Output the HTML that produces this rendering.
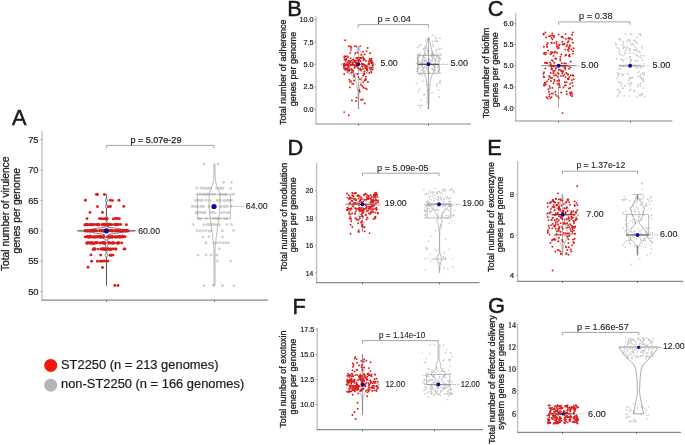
<!DOCTYPE html>
<html><head><meta charset="utf-8"><style>
html,body{margin:0;padding:0;background:#fff;}
svg{display:block;will-change:transform;}
text{font-family:"Liberation Sans", sans-serif;stroke:#222;stroke-width:0.2px;}
</style></head><body>
<svg width="685" height="445" viewBox="0 0 685 445">
<rect width="685" height="445" fill="#ffffff"/>
<text x="12.06" y="124.70" font-size="21.8" text-anchor="start" fill="#1a1a1a" style="stroke:#111;stroke-width:0.45px">A</text>
<line x1="42.00" y1="131.00" x2="42.00" y2="300.20" stroke="#bdbdbd" stroke-width="1.3"/>
<line x1="41.40" y1="300.20" x2="268.00" y2="300.20" stroke="#8a8a8a" stroke-width="1.2"/>
<line x1="40.40" y1="139.60" x2="42.00" y2="139.60" stroke="#888" stroke-width="0.7"/>
<text x="38.60" y="142.89" font-size="9.4" text-anchor="end" fill="#1a1a1a">75</text>
<line x1="40.40" y1="170.00" x2="42.00" y2="170.00" stroke="#888" stroke-width="0.7"/>
<text x="38.60" y="173.29" font-size="9.4" text-anchor="end" fill="#1a1a1a">70</text>
<line x1="40.40" y1="200.40" x2="42.00" y2="200.40" stroke="#888" stroke-width="0.7"/>
<text x="38.60" y="203.69" font-size="9.4" text-anchor="end" fill="#1a1a1a">65</text>
<line x1="40.40" y1="230.80" x2="42.00" y2="230.80" stroke="#888" stroke-width="0.7"/>
<text x="38.60" y="234.09" font-size="9.4" text-anchor="end" fill="#1a1a1a">60</text>
<line x1="40.40" y1="261.20" x2="42.00" y2="261.20" stroke="#888" stroke-width="0.7"/>
<text x="38.60" y="264.49" font-size="9.4" text-anchor="end" fill="#1a1a1a">55</text>
<line x1="40.40" y1="291.60" x2="42.00" y2="291.60" stroke="#888" stroke-width="0.7"/>
<text x="38.60" y="294.89" font-size="9.4" text-anchor="end" fill="#1a1a1a">50</text>
<line x1="106.50" y1="300.20" x2="106.50" y2="301.80" stroke="#444" stroke-width="0.8"/>
<line x1="214.50" y1="300.20" x2="214.50" y2="301.80" stroke="#444" stroke-width="0.8"/>
<path d="M106.40,148.40 L106.40,145.40 L214.00,145.40 L214.00,148.40" fill="none" stroke="#9a9a9a" stroke-width="0.9"/>
<text x="130.50" y="142.90" font-size="8.6" text-anchor="start" fill="#1a1a1a" textLength="50.9" lengthAdjust="spacingAndGlyphs" style="stroke-width:0.25px">p = 5.07e-29</text>
<text transform="translate(9.30,213.80) rotate(-90)" x="0" y="0" font-size="10.3" text-anchor="middle" fill="#1a1a1a" textLength="114.5" lengthAdjust="spacingAndGlyphs" style="stroke-width:0.3px">Total number of virulence</text>
<text transform="translate(20.20,210.80) rotate(-90)" x="0" y="0" font-size="10.3" text-anchor="middle" fill="#1a1a1a" textLength="85.5" lengthAdjust="spacingAndGlyphs" style="stroke-width:0.3px">genes per genome</text>
<polygon points="106.60,194.32 106.60,197.97 107.70,200.40 106.60,202.83 106.60,204.05 107.50,206.48 106.60,208.91 106.60,216.21 108.50,218.64 106.60,221.07 107.30,222.29 109.50,224.72 107.30,227.15 112.50,227.76 124.50,229.58 135.50,230.80 124.50,232.02 112.50,233.84 108.50,234.45 114.50,236.88 107.30,239.31 107.30,240.53 110.50,242.96 107.30,245.39 107.30,246.61 109.50,249.04 107.30,251.47 106.60,252.69 108.00,255.12 106.60,257.55 106.60,285.52 106.40,285.52 106.40,257.55 105.00,255.12 106.40,252.69 105.70,251.47 103.50,249.04 105.70,246.61 105.70,245.39 102.50,242.96 105.70,240.53 105.70,239.31 98.50,236.88 104.50,234.45 100.50,233.84 88.50,232.02 77.50,230.80 88.50,229.58 100.50,227.76 105.70,227.15 103.50,224.72 105.70,222.29 106.40,221.07 104.50,218.64 106.40,216.21 106.40,208.91 105.50,206.48 106.40,204.05 106.40,202.83 105.30,200.40 106.40,197.97 106.40,194.32" fill="none" stroke="#333" stroke-width="0.6" stroke-linejoin="round"/>
<rect x="90.20" y="230.80" width="32.40" height="6.08" fill="none" stroke="#999" stroke-width="0.7"/>
<g fill="#dc1a1a" fill-opacity="1.0"><circle cx="96.4" cy="194.4" r="1.45"/><circle cx="97.4" cy="194.5" r="1.45"/><circle cx="104.4" cy="194.5" r="1.45"/><circle cx="85.4" cy="200.3" r="1.45"/><circle cx="110.4" cy="200.3" r="1.45"/><circle cx="112.4" cy="200.6" r="1.45"/><circle cx="119.0" cy="200.2" r="1.45"/><circle cx="97.4" cy="206.6" r="1.45"/><circle cx="108.4" cy="206.6" r="1.45"/><circle cx="110.4" cy="206.5" r="1.45"/><circle cx="123.8" cy="206.4" r="1.45"/><circle cx="90.0" cy="212.4" r="1.45"/><circle cx="102.4" cy="212.4" r="1.45"/><circle cx="87.0" cy="218.6" r="1.45"/><circle cx="99.4" cy="218.6" r="1.45"/><circle cx="101.4" cy="218.7" r="1.45"/><circle cx="103.4" cy="218.9" r="1.45"/><circle cx="105.4" cy="218.8" r="1.45"/><circle cx="106.9" cy="218.7" r="1.45"/><circle cx="113.4" cy="218.9" r="1.45"/><circle cx="115.4" cy="218.5" r="1.45"/><circle cx="117.4" cy="218.5" r="1.45"/><circle cx="119.4" cy="218.7" r="1.45"/><circle cx="86.4" cy="224.5" r="1.45"/><circle cx="86.1" cy="224.7" r="1.45"/><circle cx="103.6" cy="224.6" r="1.45"/><circle cx="101.9" cy="224.7" r="1.45"/><circle cx="118.4" cy="224.5" r="1.45"/><circle cx="107.8" cy="225.0" r="1.45"/><circle cx="103.6" cy="224.6" r="1.45"/><circle cx="103.0" cy="224.8" r="1.45"/><circle cx="93.9" cy="224.6" r="1.45"/><circle cx="85.2" cy="224.9" r="1.45"/><circle cx="91.8" cy="224.8" r="1.45"/><circle cx="110.1" cy="224.5" r="1.45"/><circle cx="92.1" cy="224.9" r="1.45"/><circle cx="98.3" cy="224.9" r="1.45"/><circle cx="84.9" cy="224.9" r="1.45"/><circle cx="115.2" cy="224.8" r="1.45"/><circle cx="90.5" cy="224.5" r="1.45"/><circle cx="94.6" cy="224.6" r="1.45"/><circle cx="117.0" cy="224.9" r="1.45"/><circle cx="103.5" cy="224.7" r="1.45"/><circle cx="115.8" cy="224.6" r="1.45"/><circle cx="108.2" cy="224.9" r="1.45"/><circle cx="111.9" cy="224.8" r="1.45"/><circle cx="88.1" cy="224.8" r="1.45"/><circle cx="104.6" cy="224.7" r="1.45"/><circle cx="103.4" cy="224.7" r="1.45"/><circle cx="116.7" cy="224.6" r="1.45"/><circle cx="98.0" cy="224.5" r="1.45"/><circle cx="106.7" cy="224.9" r="1.45"/><circle cx="87.0" cy="224.7" r="1.45"/><circle cx="99.0" cy="224.7" r="1.45"/><circle cx="96.6" cy="224.6" r="1.45"/><circle cx="90.3" cy="224.8" r="1.45"/><circle cx="114.7" cy="224.5" r="1.45"/><circle cx="98.7" cy="224.7" r="1.45"/><circle cx="120.6" cy="224.5" r="1.45"/><circle cx="106.4" cy="224.5" r="1.45"/><circle cx="106.9" cy="225.0" r="1.45"/><circle cx="108.2" cy="224.8" r="1.45"/><circle cx="109.6" cy="224.7" r="1.45"/><circle cx="126.4" cy="224.7" r="1.45"/><circle cx="123.3" cy="230.8" r="1.45"/><circle cx="100.0" cy="230.9" r="1.45"/><circle cx="110.9" cy="230.7" r="1.45"/><circle cx="115.0" cy="231.0" r="1.45"/><circle cx="100.5" cy="230.8" r="1.45"/><circle cx="107.7" cy="230.9" r="1.45"/><circle cx="118.6" cy="230.9" r="1.45"/><circle cx="124.9" cy="230.6" r="1.45"/><circle cx="91.5" cy="230.6" r="1.45"/><circle cx="126.0" cy="230.8" r="1.45"/><circle cx="85.1" cy="230.9" r="1.45"/><circle cx="118.0" cy="231.0" r="1.45"/><circle cx="120.6" cy="230.9" r="1.45"/><circle cx="90.9" cy="230.6" r="1.45"/><circle cx="103.3" cy="231.0" r="1.45"/><circle cx="120.8" cy="231.0" r="1.45"/><circle cx="85.5" cy="231.0" r="1.45"/><circle cx="112.6" cy="230.8" r="1.45"/><circle cx="119.8" cy="231.0" r="1.45"/><circle cx="107.5" cy="230.6" r="1.45"/><circle cx="116.8" cy="230.6" r="1.45"/><circle cx="94.9" cy="230.6" r="1.45"/><circle cx="93.6" cy="230.7" r="1.45"/><circle cx="100.9" cy="230.7" r="1.45"/><circle cx="92.8" cy="230.6" r="1.45"/><circle cx="100.1" cy="230.8" r="1.45"/><circle cx="126.6" cy="230.6" r="1.45"/><circle cx="110.1" cy="230.8" r="1.45"/><circle cx="99.9" cy="230.6" r="1.45"/><circle cx="96.8" cy="230.9" r="1.45"/><circle cx="126.8" cy="230.6" r="1.45"/><circle cx="104.5" cy="230.7" r="1.45"/><circle cx="128.0" cy="231.0" r="1.45"/><circle cx="107.6" cy="230.8" r="1.45"/><circle cx="107.8" cy="231.0" r="1.45"/><circle cx="124.3" cy="230.9" r="1.45"/><circle cx="117.6" cy="230.9" r="1.45"/><circle cx="110.4" cy="230.6" r="1.45"/><circle cx="103.7" cy="230.8" r="1.45"/><circle cx="123.5" cy="230.6" r="1.45"/><circle cx="103.0" cy="231.0" r="1.45"/><circle cx="125.5" cy="231.0" r="1.45"/><circle cx="87.9" cy="231.0" r="1.45"/><circle cx="103.8" cy="230.6" r="1.45"/><circle cx="107.8" cy="230.7" r="1.45"/><circle cx="126.7" cy="230.7" r="1.45"/><circle cx="95.9" cy="230.6" r="1.45"/><circle cx="120.4" cy="230.9" r="1.45"/><circle cx="114.7" cy="230.9" r="1.45"/><circle cx="116.5" cy="230.7" r="1.45"/><circle cx="112.6" cy="231.0" r="1.45"/><circle cx="127.6" cy="230.9" r="1.45"/><circle cx="99.5" cy="230.6" r="1.45"/><circle cx="102.4" cy="230.9" r="1.45"/><circle cx="93.8" cy="231.0" r="1.45"/><circle cx="87.1" cy="230.6" r="1.45"/><circle cx="94.3" cy="230.8" r="1.45"/><circle cx="125.2" cy="230.9" r="1.45"/><circle cx="121.9" cy="230.9" r="1.45"/><circle cx="89.8" cy="230.6" r="1.45"/><circle cx="111.5" cy="230.9" r="1.45"/><circle cx="106.0" cy="230.9" r="1.45"/><circle cx="119.8" cy="237.0" r="1.45"/><circle cx="118.9" cy="236.8" r="1.45"/><circle cx="98.2" cy="236.7" r="1.45"/><circle cx="115.3" cy="236.9" r="1.45"/><circle cx="121.6" cy="237.0" r="1.45"/><circle cx="122.8" cy="236.7" r="1.45"/><circle cx="91.0" cy="236.8" r="1.45"/><circle cx="85.2" cy="236.9" r="1.45"/><circle cx="112.2" cy="237.0" r="1.45"/><circle cx="93.3" cy="237.1" r="1.45"/><circle cx="108.5" cy="236.7" r="1.45"/><circle cx="125.0" cy="236.7" r="1.45"/><circle cx="100.5" cy="237.0" r="1.45"/><circle cx="95.0" cy="237.0" r="1.45"/><circle cx="103.8" cy="237.0" r="1.45"/><circle cx="112.5" cy="237.1" r="1.45"/><circle cx="88.4" cy="237.1" r="1.45"/><circle cx="100.5" cy="237.1" r="1.45"/><circle cx="89.8" cy="237.0" r="1.45"/><circle cx="112.8" cy="236.8" r="1.45"/><circle cx="120.0" cy="237.0" r="1.45"/><circle cx="100.4" cy="236.7" r="1.45"/><circle cx="100.1" cy="237.0" r="1.45"/><circle cx="107.4" cy="237.0" r="1.45"/><circle cx="93.3" cy="237.0" r="1.45"/><circle cx="94.7" cy="236.9" r="1.45"/><circle cx="98.3" cy="236.8" r="1.45"/><circle cx="103.9" cy="236.8" r="1.45"/><circle cx="87.5" cy="236.6" r="1.45"/><circle cx="116.7" cy="237.1" r="1.45"/><circle cx="109.1" cy="236.9" r="1.45"/><circle cx="97.0" cy="236.8" r="1.45"/><circle cx="87.4" cy="236.9" r="1.45"/><circle cx="117.1" cy="237.0" r="1.45"/><circle cx="89.7" cy="236.8" r="1.45"/><circle cx="89.8" cy="237.0" r="1.45"/><circle cx="89.7" cy="237.1" r="1.45"/><circle cx="87.5" cy="236.8" r="1.45"/><circle cx="123.3" cy="236.7" r="1.45"/><circle cx="95.7" cy="237.0" r="1.45"/><circle cx="97.3" cy="237.1" r="1.45"/><circle cx="120.1" cy="236.7" r="1.45"/><circle cx="110.9" cy="237.0" r="1.45"/><circle cx="92.1" cy="237.0" r="1.45"/><circle cx="102.9" cy="237.1" r="1.45"/><circle cx="122.4" cy="236.7" r="1.45"/><circle cx="100.3" cy="236.7" r="1.45"/><circle cx="114.9" cy="237.1" r="1.45"/><circle cx="88.2" cy="236.7" r="1.45"/><circle cx="115.6" cy="236.7" r="1.45"/><circle cx="117.7" cy="236.9" r="1.45"/><circle cx="119.8" cy="236.9" r="1.45"/><circle cx="112.9" cy="243.2" r="1.45"/><circle cx="92.6" cy="243.2" r="1.45"/><circle cx="118.8" cy="242.8" r="1.45"/><circle cx="93.6" cy="243.2" r="1.45"/><circle cx="113.5" cy="242.8" r="1.45"/><circle cx="88.1" cy="243.0" r="1.45"/><circle cx="102.8" cy="243.0" r="1.45"/><circle cx="86.9" cy="243.2" r="1.45"/><circle cx="97.1" cy="242.7" r="1.45"/><circle cx="97.0" cy="242.9" r="1.45"/><circle cx="111.8" cy="243.0" r="1.45"/><circle cx="102.2" cy="242.7" r="1.45"/><circle cx="87.8" cy="242.8" r="1.45"/><circle cx="121.7" cy="242.9" r="1.45"/><circle cx="117.9" cy="243.2" r="1.45"/><circle cx="118.9" cy="243.1" r="1.45"/><circle cx="94.6" cy="243.1" r="1.45"/><circle cx="100.0" cy="243.1" r="1.45"/><circle cx="93.9" cy="243.1" r="1.45"/><circle cx="90.2" cy="243.1" r="1.45"/><circle cx="86.9" cy="243.1" r="1.45"/><circle cx="103.9" cy="243.1" r="1.45"/><circle cx="90.2" cy="242.9" r="1.45"/><circle cx="92.1" cy="242.8" r="1.45"/><circle cx="116.8" cy="243.1" r="1.45"/><circle cx="103.2" cy="242.8" r="1.45"/><circle cx="92.4" cy="243.2" r="1.45"/><circle cx="109.9" cy="243.0" r="1.45"/><circle cx="95.3" cy="242.9" r="1.45"/><circle cx="104.8" cy="243.2" r="1.45"/><circle cx="95.9" cy="242.8" r="1.45"/><circle cx="104.4" cy="243.0" r="1.45"/><circle cx="108.5" cy="242.8" r="1.45"/><circle cx="105.1" cy="243.2" r="1.45"/><circle cx="100.0" cy="243.0" r="1.45"/><circle cx="114.3" cy="243.1" r="1.45"/><circle cx="117.3" cy="242.9" r="1.45"/><circle cx="92.2" cy="243.1" r="1.45"/><circle cx="90.6" cy="243.1" r="1.45"/><circle cx="89.8" cy="243.0" r="1.45"/><circle cx="115.8" cy="249.1" r="1.45"/><circle cx="103.3" cy="248.9" r="1.45"/><circle cx="102.8" cy="248.9" r="1.45"/><circle cx="109.5" cy="249.2" r="1.45"/><circle cx="113.0" cy="248.9" r="1.45"/><circle cx="100.9" cy="249.0" r="1.45"/><circle cx="109.0" cy="249.2" r="1.45"/><circle cx="97.9" cy="249.1" r="1.45"/><circle cx="106.2" cy="249.1" r="1.45"/><circle cx="111.4" cy="249.2" r="1.45"/><circle cx="94.4" cy="249.0" r="1.45"/><circle cx="110.4" cy="249.1" r="1.45"/><circle cx="93.2" cy="249.2" r="1.45"/><circle cx="116.0" cy="249.1" r="1.45"/><circle cx="104.1" cy="249.1" r="1.45"/><circle cx="102.7" cy="249.0" r="1.45"/><circle cx="110.2" cy="249.1" r="1.45"/><circle cx="105.5" cy="249.0" r="1.45"/><circle cx="110.5" cy="249.2" r="1.45"/><circle cx="94.9" cy="249.0" r="1.45"/><circle cx="106.4" cy="249.0" r="1.45"/><circle cx="106.3" cy="249.2" r="1.45"/><circle cx="115.4" cy="249.0" r="1.45"/><circle cx="93.8" cy="249.0" r="1.45"/><circle cx="103.8" cy="249.2" r="1.45"/><circle cx="108.1" cy="249.0" r="1.45"/><circle cx="106.1" cy="249.2" r="1.45"/><circle cx="94.6" cy="249.2" r="1.45"/><circle cx="124.0" cy="249.0" r="1.45"/><circle cx="124.9" cy="249.1" r="1.45"/><circle cx="91.0" cy="254.9" r="1.45"/><circle cx="100.7" cy="255.1" r="1.45"/><circle cx="110.0" cy="255.3" r="1.45"/><circle cx="111.4" cy="255.2" r="1.45"/><circle cx="113.0" cy="255.1" r="1.45"/><circle cx="91.6" cy="261.3" r="1.45"/><circle cx="97.4" cy="261.3" r="1.45"/><circle cx="100.4" cy="261.2" r="1.45"/><circle cx="102.4" cy="261.2" r="1.45"/><circle cx="104.4" cy="261.0" r="1.45"/><circle cx="106.4" cy="261.1" r="1.45"/><circle cx="108.0" cy="261.1" r="1.45"/><circle cx="88.0" cy="267.2" r="1.45"/><circle cx="102.5" cy="267.5" r="1.45"/><circle cx="114.8" cy="285.4" r="1.45"/><circle cx="118.0" cy="285.5" r="1.45"/></g>
<circle cx="106.40" cy="230.80" r="2.6" fill="#0c0c9a"/>
<text x="138.20" y="233.90" font-size="9.6" text-anchor="start" fill="#1a1a1a" textLength="21.8" lengthAdjust="spacingAndGlyphs" style="stroke-width:0.12px">60.00</text>
<g fill="#d0d0d0" fill-opacity="1.0"><circle cx="204.0" cy="163.9" r="1.4"/><circle cx="218.0" cy="164.0" r="1.4"/><circle cx="223.6" cy="182.4" r="1.4"/><circle cx="231.5" cy="182.4" r="1.4"/><circle cx="206.6" cy="188.3" r="1.4"/><circle cx="203.0" cy="188.1" r="1.4"/><circle cx="223.0" cy="188.1" r="1.4"/><circle cx="210.4" cy="188.3" r="1.4"/><circle cx="216.5" cy="188.4" r="1.4"/><circle cx="196.8" cy="188.0" r="1.4"/><circle cx="222.4" cy="188.4" r="1.4"/><circle cx="204.5" cy="188.4" r="1.4"/><circle cx="210.4" cy="188.2" r="1.4"/><circle cx="200.8" cy="188.0" r="1.4"/><circle cx="208.0" cy="188.3" r="1.4"/><circle cx="221.1" cy="188.1" r="1.4"/><circle cx="221.1" cy="188.3" r="1.4"/><circle cx="209.7" cy="188.2" r="1.4"/><circle cx="219.2" cy="188.3" r="1.4"/><circle cx="209.2" cy="188.1" r="1.4"/><circle cx="206.5" cy="188.2" r="1.4"/><circle cx="230.7" cy="188.3" r="1.4"/><circle cx="220.3" cy="194.3" r="1.4"/><circle cx="202.7" cy="194.3" r="1.4"/><circle cx="233.8" cy="194.1" r="1.4"/><circle cx="206.3" cy="194.3" r="1.4"/><circle cx="206.9" cy="194.4" r="1.4"/><circle cx="204.9" cy="194.1" r="1.4"/><circle cx="197.2" cy="194.1" r="1.4"/><circle cx="211.7" cy="194.2" r="1.4"/><circle cx="226.0" cy="194.2" r="1.4"/><circle cx="223.5" cy="194.6" r="1.4"/><circle cx="202.4" cy="194.1" r="1.4"/><circle cx="200.0" cy="194.2" r="1.4"/><circle cx="207.6" cy="194.2" r="1.4"/><circle cx="225.9" cy="194.3" r="1.4"/><circle cx="214.4" cy="194.1" r="1.4"/><circle cx="232.3" cy="194.3" r="1.4"/><circle cx="221.3" cy="194.2" r="1.4"/><circle cx="219.9" cy="194.2" r="1.4"/><circle cx="225.9" cy="194.5" r="1.4"/><circle cx="225.2" cy="194.2" r="1.4"/><circle cx="208.5" cy="194.4" r="1.4"/><circle cx="204.9" cy="194.3" r="1.4"/><circle cx="210.1" cy="200.4" r="1.4"/><circle cx="225.1" cy="200.6" r="1.4"/><circle cx="200.5" cy="200.5" r="1.4"/><circle cx="229.1" cy="200.3" r="1.4"/><circle cx="228.0" cy="200.4" r="1.4"/><circle cx="219.5" cy="200.2" r="1.4"/><circle cx="196.3" cy="200.5" r="1.4"/><circle cx="219.3" cy="200.5" r="1.4"/><circle cx="217.0" cy="200.4" r="1.4"/><circle cx="223.4" cy="200.6" r="1.4"/><circle cx="202.4" cy="200.5" r="1.4"/><circle cx="230.2" cy="200.3" r="1.4"/><circle cx="227.7" cy="200.2" r="1.4"/><circle cx="198.7" cy="200.2" r="1.4"/><circle cx="206.3" cy="200.2" r="1.4"/><circle cx="195.6" cy="200.3" r="1.4"/><circle cx="225.6" cy="200.4" r="1.4"/><circle cx="228.8" cy="200.6" r="1.4"/><circle cx="231.6" cy="200.3" r="1.4"/><circle cx="217.4" cy="200.6" r="1.4"/><circle cx="219.4" cy="200.5" r="1.4"/><circle cx="219.9" cy="200.6" r="1.4"/><circle cx="208.9" cy="206.5" r="1.4"/><circle cx="192.1" cy="206.4" r="1.4"/><circle cx="224.9" cy="206.5" r="1.4"/><circle cx="202.3" cy="206.5" r="1.4"/><circle cx="198.0" cy="206.7" r="1.4"/><circle cx="225.4" cy="206.4" r="1.4"/><circle cx="220.7" cy="206.6" r="1.4"/><circle cx="200.9" cy="206.5" r="1.4"/><circle cx="203.2" cy="206.6" r="1.4"/><circle cx="231.3" cy="206.4" r="1.4"/><circle cx="203.2" cy="206.6" r="1.4"/><circle cx="221.4" cy="206.6" r="1.4"/><circle cx="197.4" cy="206.4" r="1.4"/><circle cx="226.1" cy="206.2" r="1.4"/><circle cx="196.9" cy="206.7" r="1.4"/><circle cx="213.6" cy="206.6" r="1.4"/><circle cx="193.5" cy="206.3" r="1.4"/><circle cx="215.0" cy="206.6" r="1.4"/><circle cx="227.4" cy="206.4" r="1.4"/><circle cx="195.5" cy="206.5" r="1.4"/><circle cx="203.5" cy="206.7" r="1.4"/><circle cx="224.0" cy="206.5" r="1.4"/><circle cx="204.6" cy="212.6" r="1.4"/><circle cx="205.2" cy="212.7" r="1.4"/><circle cx="196.6" cy="212.7" r="1.4"/><circle cx="202.0" cy="212.3" r="1.4"/><circle cx="203.9" cy="212.6" r="1.4"/><circle cx="200.2" cy="212.5" r="1.4"/><circle cx="196.1" cy="212.7" r="1.4"/><circle cx="211.3" cy="212.3" r="1.4"/><circle cx="201.8" cy="212.4" r="1.4"/><circle cx="221.6" cy="212.7" r="1.4"/><circle cx="228.6" cy="212.5" r="1.4"/><circle cx="204.0" cy="212.5" r="1.4"/><circle cx="215.3" cy="212.8" r="1.4"/><circle cx="212.9" cy="212.5" r="1.4"/><circle cx="196.5" cy="212.3" r="1.4"/><circle cx="198.4" cy="212.5" r="1.4"/><circle cx="227.1" cy="212.4" r="1.4"/><circle cx="211.6" cy="212.4" r="1.4"/><circle cx="224.1" cy="212.6" r="1.4"/><circle cx="196.2" cy="212.8" r="1.4"/><circle cx="217.1" cy="218.8" r="1.4"/><circle cx="220.0" cy="218.6" r="1.4"/><circle cx="206.3" cy="218.5" r="1.4"/><circle cx="216.8" cy="218.6" r="1.4"/><circle cx="224.5" cy="218.7" r="1.4"/><circle cx="217.5" cy="218.7" r="1.4"/><circle cx="226.6" cy="218.7" r="1.4"/><circle cx="215.9" cy="218.4" r="1.4"/><circle cx="200.9" cy="218.8" r="1.4"/><circle cx="217.3" cy="218.9" r="1.4"/><circle cx="213.4" cy="218.4" r="1.4"/><circle cx="199.6" cy="218.5" r="1.4"/><circle cx="218.8" cy="218.5" r="1.4"/><circle cx="227.2" cy="218.8" r="1.4"/><circle cx="198.2" cy="218.8" r="1.4"/><circle cx="215.7" cy="218.4" r="1.4"/><circle cx="193.0" cy="224.6" r="1.4"/><circle cx="204.0" cy="224.6" r="1.4"/><circle cx="207.0" cy="224.7" r="1.4"/><circle cx="209.0" cy="224.9" r="1.4"/><circle cx="211.0" cy="224.5" r="1.4"/><circle cx="213.0" cy="224.6" r="1.4"/><circle cx="215.0" cy="224.7" r="1.4"/><circle cx="217.0" cy="224.7" r="1.4"/><circle cx="219.4" cy="224.8" r="1.4"/><circle cx="227.0" cy="224.7" r="1.4"/><circle cx="231.5" cy="224.5" r="1.4"/><circle cx="197.0" cy="230.7" r="1.4"/><circle cx="200.0" cy="231.0" r="1.4"/><circle cx="203.0" cy="230.9" r="1.4"/><circle cx="206.0" cy="230.6" r="1.4"/><circle cx="209.0" cy="231.0" r="1.4"/><circle cx="211.0" cy="230.7" r="1.4"/><circle cx="222.4" cy="230.9" r="1.4"/><circle cx="233.5" cy="230.6" r="1.4"/><circle cx="203.0" cy="237.1" r="1.4"/><circle cx="209.0" cy="236.7" r="1.4"/><circle cx="222.4" cy="236.9" r="1.4"/><circle cx="206.0" cy="243.0" r="1.4"/><circle cx="214.0" cy="243.0" r="1.4"/><circle cx="217.0" cy="242.8" r="1.4"/><circle cx="220.0" cy="242.8" r="1.4"/><circle cx="223.0" cy="242.9" r="1.4"/><circle cx="226.0" cy="242.7" r="1.4"/><circle cx="228.5" cy="242.8" r="1.4"/><circle cx="219.4" cy="248.9" r="1.4"/><circle cx="198.0" cy="255.1" r="1.4"/><circle cx="206.0" cy="255.0" r="1.4"/><circle cx="211.0" cy="255.2" r="1.4"/><circle cx="217.0" cy="255.0" r="1.4"/><circle cx="217.4" cy="261.0" r="1.4"/><circle cx="230.5" cy="261.1" r="1.4"/><circle cx="204.2" cy="285.6" r="1.4"/><circle cx="213.3" cy="285.4" r="1.4"/><circle cx="222.4" cy="285.5" r="1.4"/><circle cx="234.0" cy="285.6" r="1.4"/></g>
<polygon points="215.00,163.92 215.01,164.94 215.02,165.96 215.03,166.99 215.03,168.01 215.04,169.03 215.05,170.05 215.06,171.07 215.07,172.09 215.08,173.12 215.08,174.14 215.10,175.16 215.11,176.18 215.14,177.20 215.19,178.23 215.28,179.25 215.40,180.27 215.57,181.29 215.78,182.31 216.02,183.34 216.30,184.36 216.62,185.38 216.99,186.40 217.38,187.42 217.80,188.44 218.22,189.47 218.63,190.49 219.00,191.51 219.31,192.53 219.56,193.55 219.73,194.58 219.84,195.60 219.91,196.62 219.96,197.64 220.01,198.66 220.05,199.68 220.06,200.71 220.05,201.73 220.02,202.75 219.99,203.77 219.95,204.79 219.91,205.82 219.87,206.84 219.81,207.86 219.74,208.88 219.67,209.90 219.61,210.93 219.53,211.95 219.44,212.97 219.33,213.99 219.22,215.01 219.10,216.03 218.98,217.06 218.86,218.08 218.72,219.10 218.58,220.12 218.43,221.14 218.28,222.17 218.13,223.19 217.98,224.21 217.84,225.23 217.70,226.25 217.56,227.27 217.43,228.30 217.29,229.32 217.16,230.34 217.03,231.36 216.89,232.38 216.76,233.41 216.62,234.43 216.49,235.45 216.35,236.47 216.22,237.49 216.08,238.51 215.95,239.54 215.82,240.56 215.69,241.58 215.56,242.60 215.46,243.62 215.36,244.65 215.28,245.67 215.19,246.69 215.12,247.71 215.05,248.73 215.02,249.76 215.00,250.78 215.00,251.80 215.00,252.82 215.00,253.84 215.00,254.86 215.00,255.89 215.00,256.91 215.00,257.93 215.00,258.95 215.00,259.97 215.00,261.00 215.00,262.02 215.00,263.04 215.00,264.06 215.00,265.08 215.00,266.10 215.00,267.13 215.00,268.15 215.00,269.17 215.00,270.19 215.00,271.21 215.00,272.24 215.00,273.26 215.00,274.28 215.00,275.30 215.00,276.32 215.00,277.35 215.00,278.37 215.00,279.39 215.00,280.41 215.00,281.43 215.00,282.45 215.00,283.48 215.00,284.50 215.00,285.52 214.00,285.52 214.00,284.50 214.00,283.48 214.00,282.45 214.00,281.43 214.00,280.41 214.00,279.39 214.00,278.37 214.00,277.35 214.00,276.32 214.00,275.30 214.00,274.28 214.00,273.26 214.00,272.24 214.00,271.21 214.00,270.19 214.00,269.17 214.00,268.15 214.00,267.13 214.00,266.10 214.00,265.08 214.00,264.06 214.00,263.04 214.00,262.02 214.00,261.00 214.00,259.97 214.00,258.95 214.00,257.93 214.00,256.91 214.00,255.89 214.00,254.86 214.00,253.84 214.00,252.82 214.00,251.80 214.00,250.78 213.98,249.76 213.95,248.73 213.88,247.71 213.81,246.69 213.72,245.67 213.64,244.65 213.54,243.62 213.44,242.60 213.31,241.58 213.18,240.56 213.05,239.54 212.92,238.51 212.78,237.49 212.65,236.47 212.51,235.45 212.38,234.43 212.24,233.41 212.11,232.38 211.97,231.36 211.84,230.34 211.71,229.32 211.57,228.30 211.44,227.27 211.30,226.25 211.16,225.23 211.02,224.21 210.87,223.19 210.72,222.17 210.57,221.14 210.42,220.12 210.28,219.10 210.14,218.08 210.02,217.06 209.90,216.03 209.78,215.01 209.67,213.99 209.56,212.97 209.47,211.95 209.39,210.93 209.33,209.90 209.26,208.88 209.19,207.86 209.13,206.84 209.09,205.82 209.05,204.79 209.01,203.77 208.98,202.75 208.95,201.73 208.94,200.71 208.95,199.68 208.99,198.66 209.04,197.64 209.09,196.62 209.16,195.60 209.27,194.58 209.44,193.55 209.69,192.53 210.00,191.51 210.37,190.49 210.78,189.47 211.20,188.44 211.62,187.42 212.01,186.40 212.38,185.38 212.70,184.36 212.98,183.34 213.22,182.31 213.43,181.29 213.60,180.27 213.72,179.25 213.81,178.23 213.86,177.20 213.89,176.18 213.90,175.16 213.92,174.14 213.92,173.12 213.93,172.09 213.94,171.07 213.95,170.05 213.96,169.03 213.97,168.01 213.97,166.99 213.98,165.96 213.99,164.94 214.00,163.92" fill="none" stroke="#8a8a8a" stroke-width="0.6" stroke-linejoin="round"/>
<rect x="197.40" y="194.32" width="33.20" height="24.32" fill="none" stroke="#a5a5a5" stroke-width="0.7"/>
<circle cx="214.00" cy="206.48" r="2.6" fill="#0c0c9a"/>
<line x1="231.00" y1="206.48" x2="243.80" y2="206.48" stroke="#777" stroke-width="0.7" stroke-dasharray="1.2,1.2"/>
<text x="245.80" y="208.98" font-size="9.6" text-anchor="start" fill="#1a1a1a" textLength="21.9" lengthAdjust="spacingAndGlyphs" style="stroke-width:0.12px">64.00</text>
<circle cx="50.7" cy="365.4" r="6.5" fill="#f3190c"/>
<circle cx="50.7" cy="385.2" r="6.5" fill="#b5b5b5"/>
<text x="61.00" y="368.60" font-size="12.2" text-anchor="start" fill="#1a1a1a" textLength="157.5" lengthAdjust="spacingAndGlyphs">ST2250 (n = 213 genomes)</text>
<text x="61.00" y="388.30" font-size="12.2" text-anchor="start" fill="#1a1a1a" textLength="183.2" lengthAdjust="spacingAndGlyphs">non-ST2250 (n = 166 genomes)</text>
<text x="287.30" y="16.40" font-size="21.8" text-anchor="start" fill="#1a1a1a" style="stroke:#111;stroke-width:0.45px">B</text>
<line x1="316.00" y1="15.90" x2="316.00" y2="124.00" stroke="#bdbdbd" stroke-width="1.3"/>
<line x1="315.40" y1="124.00" x2="471.00" y2="124.00" stroke="#8a8a8a" stroke-width="1.2"/>
<line x1="314.40" y1="19.70" x2="316.00" y2="19.70" stroke="#888" stroke-width="0.7"/>
<text x="313.60" y="22.22" font-size="7.2" text-anchor="end" fill="#1a1a1a">10.0</text>
<line x1="314.40" y1="42.03" x2="316.00" y2="42.03" stroke="#888" stroke-width="0.7"/>
<text x="313.60" y="44.55" font-size="7.2" text-anchor="end" fill="#1a1a1a">7.5</text>
<line x1="314.40" y1="64.35" x2="316.00" y2="64.35" stroke="#888" stroke-width="0.7"/>
<text x="313.60" y="66.87" font-size="7.2" text-anchor="end" fill="#1a1a1a">5.0</text>
<line x1="314.40" y1="86.67" x2="316.00" y2="86.67" stroke="#888" stroke-width="0.7"/>
<text x="313.60" y="89.19" font-size="7.2" text-anchor="end" fill="#1a1a1a">2.5</text>
<line x1="314.40" y1="109.00" x2="316.00" y2="109.00" stroke="#888" stroke-width="0.7"/>
<text x="313.60" y="111.52" font-size="7.2" text-anchor="end" fill="#1a1a1a">0.0</text>
<line x1="358.50" y1="124.00" x2="358.50" y2="125.60" stroke="#444" stroke-width="0.8"/>
<line x1="428.50" y1="124.00" x2="428.50" y2="125.60" stroke="#444" stroke-width="0.8"/>
<path d="M358.20,27.60 L358.20,24.60 L428.40,24.60 L428.40,27.60" fill="none" stroke="#9a9a9a" stroke-width="0.9"/>
<text x="377.40" y="22.10" font-size="8.4" text-anchor="start" fill="#1a1a1a" textLength="33.5" lengthAdjust="spacingAndGlyphs" style="stroke-width:0.1px">p = 0.04</text>
<text transform="translate(286.20,72.30) rotate(-90)" x="0" y="0" font-size="8.9" text-anchor="middle" fill="#1a1a1a" textLength="105.5" lengthAdjust="spacingAndGlyphs" style="stroke-width:0.3px">Total number of adherence</text>
<text transform="translate(295.60,69.00) rotate(-90)" x="0" y="0" font-size="8.9" text-anchor="middle" fill="#1a1a1a" textLength="74.6" lengthAdjust="spacingAndGlyphs" style="stroke-width:0.3px">genes per genome</text>
<polygon points="358.60,46.49 358.78,47.02 358.93,47.54 359.09,48.07 359.26,48.59 359.42,49.12 359.59,49.64 359.76,50.17 359.95,50.69 360.18,51.22 360.45,51.74 360.74,52.27 361.03,52.79 361.32,53.32 361.62,53.84 361.91,54.37 362.19,54.89 362.43,55.42 362.63,55.95 362.79,56.47 362.94,57.00 363.09,57.52 363.25,58.05 363.54,58.57 364.04,59.10 364.81,59.62 365.76,60.15 366.79,60.67 367.82,61.20 368.90,61.72 370.13,62.25 371.64,62.77 373.45,63.30 374.98,63.82 375.67,64.35 374.98,64.88 373.45,65.40 371.64,65.93 370.13,66.45 368.90,66.98 367.82,67.50 366.79,68.03 365.76,68.55 364.88,69.08 364.32,69.60 364.26,70.13 364.59,70.65 365.15,71.18 365.74,71.70 366.32,72.23 366.75,72.75 366.86,73.28 366.49,73.81 365.79,74.33 364.94,74.86 364.09,75.38 363.25,75.91 362.52,76.43 361.98,76.96 361.69,77.48 361.55,78.01 361.48,78.53 361.41,79.06 361.34,79.58 361.27,80.11 361.21,80.63 361.14,81.16 361.06,81.68 360.97,82.21 360.84,82.74 360.71,83.26 360.56,83.79 360.41,84.31 360.27,84.84 360.13,85.36 360.00,85.89 359.90,86.41 359.81,86.94 359.72,87.46 359.63,87.99 359.54,88.51 359.45,89.04 359.36,89.56 359.28,90.09 359.20,90.61 359.13,91.14 359.08,91.67 359.05,92.19 359.03,92.72 359.01,93.24 358.98,93.77 358.96,94.29 358.94,94.82 358.91,95.34 358.89,95.87 358.86,96.39 358.84,96.92 358.82,97.44 358.79,97.97 358.77,98.49 358.75,99.02 358.73,99.54 358.71,100.07 358.70,100.60 358.69,101.12 358.68,101.65 358.68,102.17 358.67,102.70 358.66,103.22 358.66,103.75 358.65,104.27 358.65,104.80 358.64,105.32 358.64,105.85 358.63,106.37 358.62,106.90 358.62,107.42 358.61,107.95 358.61,108.47 358.60,109.00 358.40,109.00 358.39,108.47 358.39,107.95 358.38,107.42 358.38,106.90 358.37,106.37 358.36,105.85 358.36,105.32 358.35,104.80 358.35,104.27 358.34,103.75 358.34,103.22 358.33,102.70 358.32,102.17 358.32,101.65 358.31,101.12 358.30,100.60 358.29,100.07 358.27,99.54 358.25,99.02 358.23,98.49 358.21,97.97 358.18,97.44 358.16,96.92 358.14,96.39 358.11,95.87 358.09,95.34 358.06,94.82 358.04,94.29 358.02,93.77 357.99,93.24 357.97,92.72 357.95,92.19 357.92,91.67 357.87,91.14 357.80,90.61 357.72,90.09 357.64,89.56 357.55,89.04 357.46,88.51 357.37,87.99 357.28,87.46 357.19,86.94 357.10,86.41 357.00,85.89 356.87,85.36 356.73,84.84 356.59,84.31 356.44,83.79 356.29,83.26 356.16,82.74 356.03,82.21 355.94,81.68 355.86,81.16 355.79,80.63 355.73,80.11 355.66,79.58 355.59,79.06 355.52,78.53 355.45,78.01 355.31,77.48 355.02,76.96 354.48,76.43 353.75,75.91 352.91,75.38 352.06,74.86 351.21,74.33 350.51,73.81 350.14,73.28 350.25,72.75 350.68,72.23 351.26,71.70 351.85,71.18 352.41,70.65 352.74,70.13 352.68,69.60 352.12,69.08 351.24,68.55 350.21,68.03 349.18,67.50 348.10,66.98 346.87,66.45 345.36,65.93 343.55,65.40 342.02,64.88 341.33,64.35 342.02,63.82 343.55,63.30 345.36,62.77 346.87,62.25 348.10,61.72 349.18,61.20 350.21,60.67 351.24,60.15 352.19,59.62 352.96,59.10 353.46,58.57 353.75,58.05 353.91,57.52 354.06,57.00 354.21,56.47 354.37,55.95 354.57,55.42 354.81,54.89 355.09,54.37 355.38,53.84 355.68,53.32 355.97,52.79 356.26,52.27 356.55,51.74 356.82,51.22 357.05,50.69 357.24,50.17 357.41,49.64 357.58,49.12 357.74,48.59 357.91,48.07 358.07,47.54 358.22,47.02 358.40,46.49" fill="none" stroke="#808080" stroke-width="0.6" stroke-linejoin="round"/>
<rect x="348.70" y="64.35" width="19.00" height="8.93" fill="none" stroke="#aaaaaa" stroke-width="0.7"/>
<line x1="358.50" y1="46.49" x2="358.50" y2="109.00" stroke="#888" stroke-width="0.6"/>
<g fill="#dc1a1a" fill-opacity="1.0"><circle cx="345.2" cy="40.2" r="0.95"/><circle cx="356.3" cy="46.5" r="0.95"/><circle cx="366.6" cy="51.1" r="0.95"/><circle cx="362.9" cy="51.6" r="0.95"/><circle cx="351.0" cy="50.1" r="0.95"/><circle cx="360.2" cy="46.1" r="0.95"/><circle cx="351.1" cy="47.9" r="0.95"/><circle cx="357.7" cy="52.6" r="0.95"/><circle cx="367.7" cy="48.0" r="0.95"/><circle cx="350.8" cy="46.4" r="0.95"/><circle cx="350.3" cy="52.9" r="0.95"/><circle cx="354.8" cy="46.1" r="0.95"/><circle cx="348.9" cy="46.3" r="0.95"/><circle cx="345.5" cy="56.6" r="0.95"/><circle cx="357.0" cy="60.2" r="0.95"/><circle cx="365.2" cy="68.0" r="0.95"/><circle cx="372.8" cy="69.4" r="0.95"/><circle cx="367.4" cy="66.4" r="0.95"/><circle cx="366.5" cy="67.9" r="0.95"/><circle cx="372.7" cy="62.6" r="0.95"/><circle cx="356.8" cy="65.5" r="0.95"/><circle cx="371.3" cy="68.5" r="0.95"/><circle cx="371.1" cy="71.1" r="0.95"/><circle cx="354.5" cy="67.9" r="0.95"/><circle cx="357.4" cy="64.6" r="0.95"/><circle cx="354.9" cy="60.5" r="0.95"/><circle cx="347.6" cy="62.4" r="0.95"/><circle cx="365.7" cy="60.9" r="0.95"/><circle cx="363.3" cy="57.5" r="0.95"/><circle cx="350.3" cy="62.2" r="0.95"/><circle cx="351.7" cy="72.4" r="0.95"/><circle cx="365.9" cy="65.8" r="0.95"/><circle cx="353.0" cy="71.9" r="0.95"/><circle cx="349.0" cy="63.8" r="0.95"/><circle cx="364.0" cy="73.8" r="0.95"/><circle cx="352.2" cy="64.8" r="0.95"/><circle cx="344.5" cy="63.8" r="0.95"/><circle cx="360.5" cy="61.3" r="0.95"/><circle cx="353.7" cy="64.6" r="0.95"/><circle cx="348.0" cy="69.9" r="0.95"/><circle cx="345.9" cy="69.0" r="0.95"/><circle cx="349.4" cy="70.7" r="0.95"/><circle cx="349.4" cy="64.5" r="0.95"/><circle cx="351.9" cy="69.7" r="0.95"/><circle cx="371.4" cy="72.4" r="0.95"/><circle cx="358.8" cy="63.5" r="0.95"/><circle cx="364.2" cy="74.2" r="0.95"/><circle cx="353.1" cy="59.9" r="0.95"/><circle cx="344.5" cy="64.8" r="0.95"/><circle cx="345.7" cy="60.9" r="0.95"/><circle cx="353.3" cy="70.8" r="0.95"/><circle cx="344.4" cy="56.3" r="0.95"/><circle cx="356.3" cy="57.9" r="0.95"/><circle cx="364.3" cy="59.2" r="0.95"/><circle cx="350.7" cy="65.2" r="0.95"/><circle cx="369.9" cy="60.1" r="0.95"/><circle cx="346.2" cy="64.8" r="0.95"/><circle cx="344.3" cy="57.6" r="0.95"/><circle cx="344.2" cy="74.0" r="0.95"/><circle cx="362.1" cy="64.3" r="0.95"/><circle cx="348.1" cy="57.1" r="0.95"/><circle cx="353.4" cy="59.8" r="0.95"/><circle cx="346.0" cy="59.5" r="0.95"/><circle cx="363.4" cy="60.1" r="0.95"/><circle cx="361.7" cy="63.5" r="0.95"/><circle cx="351.2" cy="69.5" r="0.95"/><circle cx="371.5" cy="61.8" r="0.95"/><circle cx="362.3" cy="66.8" r="0.95"/><circle cx="343.9" cy="65.9" r="0.95"/><circle cx="345.5" cy="65.1" r="0.95"/><circle cx="363.9" cy="64.5" r="0.95"/><circle cx="366.6" cy="69.7" r="0.95"/><circle cx="348.7" cy="60.7" r="0.95"/><circle cx="368.5" cy="63.3" r="0.95"/><circle cx="350.7" cy="58.1" r="0.95"/><circle cx="355.3" cy="53.2" r="0.95"/><circle cx="358.4" cy="60.3" r="0.95"/><circle cx="356.5" cy="63.8" r="0.95"/><circle cx="364.4" cy="71.7" r="0.95"/><circle cx="369.0" cy="64.6" r="0.95"/><circle cx="352.8" cy="63.3" r="0.95"/><circle cx="371.1" cy="62.8" r="0.95"/><circle cx="346.3" cy="64.2" r="0.95"/><circle cx="372.6" cy="67.2" r="0.95"/><circle cx="345.1" cy="59.4" r="0.95"/><circle cx="358.3" cy="63.5" r="0.95"/><circle cx="371.5" cy="58.6" r="0.95"/><circle cx="347.2" cy="68.3" r="0.95"/><circle cx="355.5" cy="62.6" r="0.95"/><circle cx="361.8" cy="57.8" r="0.95"/><circle cx="360.4" cy="57.8" r="0.95"/><circle cx="367.5" cy="70.4" r="0.95"/><circle cx="364.0" cy="64.9" r="0.95"/><circle cx="357.4" cy="66.3" r="0.95"/><circle cx="359.3" cy="57.7" r="0.95"/><circle cx="356.1" cy="62.1" r="0.95"/><circle cx="345.2" cy="67.9" r="0.95"/><circle cx="344.0" cy="64.5" r="0.95"/><circle cx="354.7" cy="67.1" r="0.95"/><circle cx="352.2" cy="64.2" r="0.95"/><circle cx="348.6" cy="66.7" r="0.95"/><circle cx="371.7" cy="63.2" r="0.95"/><circle cx="357.2" cy="57.7" r="0.95"/><circle cx="367.1" cy="68.9" r="0.95"/><circle cx="364.7" cy="66.1" r="0.95"/><circle cx="361.2" cy="54.9" r="0.95"/><circle cx="345.1" cy="69.7" r="0.95"/><circle cx="359.4" cy="60.0" r="0.95"/><circle cx="353.8" cy="64.7" r="0.95"/><circle cx="351.1" cy="60.7" r="0.95"/><circle cx="346.4" cy="58.7" r="0.95"/><circle cx="371.8" cy="60.8" r="0.95"/><circle cx="369.6" cy="59.0" r="0.95"/><circle cx="348.7" cy="69.3" r="0.95"/><circle cx="349.5" cy="69.4" r="0.95"/><circle cx="369.3" cy="73.0" r="0.95"/><circle cx="349.4" cy="61.6" r="0.95"/><circle cx="352.0" cy="65.1" r="0.95"/><circle cx="347.3" cy="64.3" r="0.95"/><circle cx="370.6" cy="61.2" r="0.95"/><circle cx="343.9" cy="66.2" r="0.95"/><circle cx="347.5" cy="65.2" r="0.95"/><circle cx="360.6" cy="69.3" r="0.95"/><circle cx="356.1" cy="66.6" r="0.95"/><circle cx="363.0" cy="68.9" r="0.95"/><circle cx="355.2" cy="62.2" r="0.95"/><circle cx="370.1" cy="53.2" r="0.95"/><circle cx="364.6" cy="54.5" r="0.95"/><circle cx="369.8" cy="68.0" r="0.95"/><circle cx="358.4" cy="61.9" r="0.95"/><circle cx="363.3" cy="64.1" r="0.95"/><circle cx="372.6" cy="65.6" r="0.95"/><circle cx="352.3" cy="62.3" r="0.95"/><circle cx="343.9" cy="68.3" r="0.95"/><circle cx="349.8" cy="62.8" r="0.95"/><circle cx="357.4" cy="74.0" r="0.95"/><circle cx="346.7" cy="69.7" r="0.95"/><circle cx="367.2" cy="70.2" r="0.95"/><circle cx="347.5" cy="71.9" r="0.95"/><circle cx="362.0" cy="66.1" r="0.95"/><circle cx="368.9" cy="61.2" r="0.95"/><circle cx="358.5" cy="63.3" r="0.95"/><circle cx="360.1" cy="69.7" r="0.95"/><circle cx="365.0" cy="65.7" r="0.95"/><circle cx="372.7" cy="64.6" r="0.95"/><circle cx="355.7" cy="66.0" r="0.95"/><circle cx="348.7" cy="66.3" r="0.95"/><circle cx="364.6" cy="65.8" r="0.95"/><circle cx="369.2" cy="63.7" r="0.95"/><circle cx="357.2" cy="58.0" r="0.95"/><circle cx="370.5" cy="69.2" r="0.95"/><circle cx="363.9" cy="58.8" r="0.95"/><circle cx="371.0" cy="68.2" r="0.95"/><circle cx="344.4" cy="59.6" r="0.95"/><circle cx="361.3" cy="70.5" r="0.95"/><circle cx="358.1" cy="68.2" r="0.95"/><circle cx="359.6" cy="60.2" r="0.95"/><circle cx="354.3" cy="61.7" r="0.95"/><circle cx="361.2" cy="57.9" r="0.95"/><circle cx="371.0" cy="59.5" r="0.95"/><circle cx="360.2" cy="68.5" r="0.95"/><circle cx="354.4" cy="65.0" r="0.95"/><circle cx="347.0" cy="56.2" r="0.95"/><circle cx="365.6" cy="78.9" r="0.95"/><circle cx="354.1" cy="76.8" r="0.95"/><circle cx="354.0" cy="75.0" r="0.95"/><circle cx="349.9" cy="87.4" r="0.95"/><circle cx="363.2" cy="82.1" r="0.95"/><circle cx="351.1" cy="81.1" r="0.95"/><circle cx="354.1" cy="80.5" r="0.95"/><circle cx="363.1" cy="75.6" r="0.95"/><circle cx="349.4" cy="79.8" r="0.95"/><circle cx="367.9" cy="82.0" r="0.95"/><circle cx="363.6" cy="87.8" r="0.95"/><circle cx="365.7" cy="80.0" r="0.95"/><circle cx="366.0" cy="76.7" r="0.95"/><circle cx="365.6" cy="88.4" r="0.95"/><circle cx="362.5" cy="86.2" r="0.95"/><circle cx="353.5" cy="84.1" r="0.95"/><circle cx="360.0" cy="79.3" r="0.95"/><circle cx="366.8" cy="89.1" r="0.95"/><circle cx="352.1" cy="83.5" r="0.95"/><circle cx="364.6" cy="80.5" r="0.95"/><circle cx="358.4" cy="77.1" r="0.95"/><circle cx="361.3" cy="84.7" r="0.95"/><circle cx="349.9" cy="81.9" r="0.95"/><circle cx="365.8" cy="79.7" r="0.95"/><circle cx="351.9" cy="100.4" r="0.95"/><circle cx="356.6" cy="97.6" r="0.95"/><circle cx="359.4" cy="90.3" r="0.95"/><circle cx="355.9" cy="101.0" r="0.95"/><circle cx="359.8" cy="91.6" r="0.95"/><circle cx="361.1" cy="99.7" r="0.95"/><circle cx="362.6" cy="99.5" r="0.95"/><circle cx="364.7" cy="103.5" r="0.95"/><circle cx="344.2" cy="112.1" r="0.95"/><circle cx="348.7" cy="115.3" r="0.95"/></g>
<circle cx="358.20" cy="64.35" r="2.0" fill="#0c0c9a"/>
<text x="380.60" y="66.25" font-size="8.8" text-anchor="start" fill="#1a1a1a" textLength="17.1" lengthAdjust="spacingAndGlyphs" style="stroke-width:0.12px">5.00</text>
<g fill="#c8c8c8" fill-opacity="1.0"><circle cx="419.1" cy="57.0" r="0.85"/><circle cx="423.3" cy="56.6" r="0.85"/><circle cx="431.1" cy="63.3" r="0.85"/><circle cx="418.1" cy="57.8" r="0.85"/><circle cx="417.5" cy="54.3" r="0.85"/><circle cx="437.8" cy="67.3" r="0.85"/><circle cx="419.1" cy="55.9" r="0.85"/><circle cx="427.9" cy="70.8" r="0.85"/><circle cx="428.4" cy="68.4" r="0.85"/><circle cx="426.1" cy="60.7" r="0.85"/><circle cx="438.8" cy="57.5" r="0.85"/><circle cx="419.9" cy="63.9" r="0.85"/><circle cx="428.2" cy="53.8" r="0.85"/><circle cx="418.1" cy="63.2" r="0.85"/><circle cx="438.8" cy="65.4" r="0.85"/><circle cx="422.4" cy="62.4" r="0.85"/><circle cx="423.9" cy="55.1" r="0.85"/><circle cx="418.0" cy="69.2" r="0.85"/><circle cx="418.0" cy="59.3" r="0.85"/><circle cx="423.2" cy="55.6" r="0.85"/><circle cx="438.2" cy="54.9" r="0.85"/><circle cx="422.3" cy="73.3" r="0.85"/><circle cx="425.6" cy="54.4" r="0.85"/><circle cx="435.0" cy="72.1" r="0.85"/><circle cx="433.5" cy="55.3" r="0.85"/><circle cx="440.1" cy="59.2" r="0.85"/><circle cx="437.5" cy="56.7" r="0.85"/><circle cx="424.9" cy="71.3" r="0.85"/><circle cx="434.1" cy="70.6" r="0.85"/><circle cx="425.5" cy="53.7" r="0.85"/><circle cx="429.9" cy="63.0" r="0.85"/><circle cx="439.6" cy="67.7" r="0.85"/><circle cx="440.9" cy="55.4" r="0.85"/><circle cx="425.0" cy="66.9" r="0.85"/><circle cx="419.1" cy="55.3" r="0.85"/><circle cx="420.5" cy="73.1" r="0.85"/><circle cx="438.2" cy="61.5" r="0.85"/><circle cx="432.7" cy="58.9" r="0.85"/><circle cx="417.0" cy="71.5" r="0.85"/><circle cx="428.4" cy="72.3" r="0.85"/><circle cx="428.5" cy="58.8" r="0.85"/><circle cx="432.3" cy="61.2" r="0.85"/><circle cx="417.1" cy="68.6" r="0.85"/><circle cx="438.3" cy="70.9" r="0.85"/><circle cx="429.2" cy="72.3" r="0.85"/><circle cx="439.4" cy="69.9" r="0.85"/><circle cx="426.2" cy="62.5" r="0.85"/><circle cx="433.9" cy="54.9" r="0.85"/><circle cx="434.3" cy="66.5" r="0.85"/><circle cx="417.8" cy="59.4" r="0.85"/><circle cx="440.2" cy="72.9" r="0.85"/><circle cx="435.3" cy="69.8" r="0.85"/><circle cx="427.4" cy="63.0" r="0.85"/><circle cx="431.3" cy="53.8" r="0.85"/><circle cx="433.1" cy="65.6" r="0.85"/><circle cx="433.8" cy="64.1" r="0.85"/><circle cx="426.2" cy="66.1" r="0.85"/><circle cx="428.2" cy="67.8" r="0.85"/><circle cx="422.0" cy="70.4" r="0.85"/><circle cx="426.9" cy="67.5" r="0.85"/><circle cx="436.8" cy="56.6" r="0.85"/><circle cx="424.5" cy="61.1" r="0.85"/><circle cx="438.5" cy="66.2" r="0.85"/><circle cx="429.8" cy="64.6" r="0.85"/><circle cx="432.2" cy="54.4" r="0.85"/><circle cx="419.4" cy="54.3" r="0.85"/><circle cx="432.5" cy="57.6" r="0.85"/><circle cx="431.8" cy="56.2" r="0.85"/><circle cx="424.1" cy="59.4" r="0.85"/><circle cx="422.5" cy="63.3" r="0.85"/><circle cx="432.9" cy="69.3" r="0.85"/><circle cx="417.4" cy="57.7" r="0.85"/><circle cx="436.1" cy="60.2" r="0.85"/><circle cx="423.9" cy="60.3" r="0.85"/><circle cx="418.0" cy="60.3" r="0.85"/><circle cx="430.3" cy="61.2" r="0.85"/><circle cx="427.1" cy="68.9" r="0.85"/><circle cx="434.0" cy="64.2" r="0.85"/><circle cx="434.5" cy="66.1" r="0.85"/><circle cx="418.1" cy="62.6" r="0.85"/><circle cx="431.5" cy="55.2" r="0.85"/><circle cx="438.1" cy="72.2" r="0.85"/><circle cx="435.2" cy="68.1" r="0.85"/><circle cx="433.3" cy="65.8" r="0.85"/><circle cx="424.0" cy="63.7" r="0.85"/><circle cx="429.2" cy="59.6" r="0.85"/><circle cx="431.8" cy="60.0" r="0.85"/><circle cx="425.5" cy="60.0" r="0.85"/><circle cx="424.5" cy="61.3" r="0.85"/><circle cx="427.4" cy="62.2" r="0.85"/><circle cx="416.3" cy="63.5" r="0.85"/><circle cx="421.4" cy="65.7" r="0.85"/><circle cx="417.7" cy="60.4" r="0.85"/><circle cx="438.2" cy="66.3" r="0.85"/><circle cx="418.5" cy="61.1" r="0.85"/><circle cx="419.1" cy="55.8" r="0.85"/><circle cx="419.0" cy="66.2" r="0.85"/><circle cx="428.3" cy="71.0" r="0.85"/><circle cx="423.9" cy="67.9" r="0.85"/><circle cx="433.7" cy="53.9" r="0.85"/><circle cx="425.0" cy="57.7" r="0.85"/><circle cx="419.4" cy="61.9" r="0.85"/><circle cx="426.7" cy="67.6" r="0.85"/><circle cx="436.4" cy="58.6" r="0.85"/><circle cx="419.2" cy="67.5" r="0.85"/><circle cx="436.4" cy="53.8" r="0.85"/><circle cx="431.2" cy="56.2" r="0.85"/><circle cx="440.5" cy="58.7" r="0.85"/><circle cx="432.0" cy="68.9" r="0.85"/><circle cx="425.2" cy="61.0" r="0.85"/><circle cx="439.5" cy="49.2" r="0.85"/><circle cx="425.7" cy="55.0" r="0.85"/><circle cx="433.5" cy="46.3" r="0.85"/><circle cx="436.1" cy="50.6" r="0.85"/><circle cx="432.6" cy="41.6" r="0.85"/><circle cx="427.5" cy="51.5" r="0.85"/><circle cx="425.9" cy="40.1" r="0.85"/><circle cx="420.3" cy="53.6" r="0.85"/><circle cx="427.4" cy="50.6" r="0.85"/><circle cx="436.2" cy="38.6" r="0.85"/><circle cx="440.0" cy="38.2" r="0.85"/><circle cx="432.2" cy="51.6" r="0.85"/><circle cx="436.8" cy="40.5" r="0.85"/><circle cx="434.8" cy="41.1" r="0.85"/><circle cx="437.0" cy="49.3" r="0.85"/><circle cx="432.9" cy="44.8" r="0.85"/><circle cx="424.2" cy="48.7" r="0.85"/><circle cx="419.4" cy="45.3" r="0.85"/><circle cx="425.0" cy="46.8" r="0.85"/><circle cx="437.5" cy="41.4" r="0.85"/><circle cx="433.1" cy="35.2" r="0.85"/><circle cx="421.1" cy="45.0" r="0.85"/><circle cx="417.8" cy="47.4" r="0.85"/><circle cx="440.1" cy="53.7" r="0.85"/><circle cx="435.1" cy="37.6" r="0.85"/><circle cx="428.6" cy="39.0" r="0.85"/><circle cx="426.9" cy="48.2" r="0.85"/><circle cx="428.5" cy="51.4" r="0.85"/><circle cx="423.4" cy="49.1" r="0.85"/><circle cx="441.1" cy="48.5" r="0.85"/><circle cx="421.9" cy="75.4" r="0.85"/><circle cx="419.7" cy="74.5" r="0.85"/><circle cx="436.9" cy="85.9" r="0.85"/><circle cx="426.7" cy="102.0" r="0.85"/><circle cx="418.9" cy="105.3" r="0.85"/><circle cx="424.8" cy="94.5" r="0.85"/><circle cx="438.6" cy="89.8" r="0.85"/><circle cx="440.2" cy="83.2" r="0.85"/><circle cx="419.9" cy="89.2" r="0.85"/><circle cx="420.2" cy="107.6" r="0.85"/><circle cx="439.1" cy="96.9" r="0.85"/><circle cx="421.0" cy="105.4" r="0.85"/><circle cx="432.1" cy="92.5" r="0.85"/><circle cx="416.7" cy="83.5" r="0.85"/><circle cx="422.6" cy="81.1" r="0.85"/><circle cx="428.1" cy="89.9" r="0.85"/><circle cx="427.4" cy="84.9" r="0.85"/><circle cx="440.2" cy="80.5" r="0.85"/><circle cx="418.1" cy="91.3" r="0.85"/><circle cx="422.0" cy="105.3" r="0.85"/><circle cx="421.1" cy="100.1" r="0.85"/><circle cx="439.4" cy="82.4" r="0.85"/><circle cx="436.9" cy="84.0" r="0.85"/><circle cx="424.0" cy="95.0" r="0.85"/><circle cx="427.0" cy="98.5" r="0.85"/><circle cx="426.5" cy="81.5" r="0.85"/></g>
<polygon points="428.80,37.56 428.98,38.16 429.12,38.76 429.28,39.36 429.45,39.96 429.61,40.56 429.77,41.16 429.92,41.76 430.07,42.36 430.21,42.96 430.34,43.56 430.48,44.16 430.61,44.76 430.75,45.36 430.88,45.96 431.02,46.57 431.15,47.17 431.29,47.77 431.42,48.37 431.55,48.97 431.69,49.57 431.82,50.17 431.96,50.77 432.09,51.37 432.23,51.97 432.36,52.57 432.50,53.17 432.63,53.77 432.77,54.37 432.93,54.97 433.12,55.57 433.35,56.17 433.61,56.77 433.87,57.37 434.14,57.97 434.41,58.57 434.66,59.17 434.87,59.77 435.02,60.37 435.12,60.97 435.19,61.57 435.26,62.17 435.32,62.77 435.38,63.37 435.39,63.97 435.34,64.58 435.20,65.18 435.02,65.78 434.82,66.38 434.62,66.98 434.42,67.58 434.22,68.18 434.04,68.78 433.88,69.38 433.74,69.98 433.61,70.58 433.47,71.18 433.34,71.78 433.19,72.38 433.03,72.98 432.83,73.58 432.59,74.18 432.33,74.78 432.06,75.38 431.79,75.98 431.52,76.58 431.28,77.18 431.07,77.78 430.92,78.38 430.81,78.98 430.71,79.58 430.62,80.18 430.52,80.78 430.43,81.38 430.35,81.98 430.28,82.59 430.21,83.19 430.16,83.79 430.11,84.39 430.05,84.99 430.00,85.59 429.94,86.19 429.89,86.79 429.84,87.39 429.78,87.99 429.73,88.59 429.67,89.19 429.62,89.79 429.57,90.39 429.52,90.99 429.48,91.59 429.44,92.19 429.41,92.79 429.37,93.39 429.34,93.99 429.31,94.59 429.27,95.19 429.24,95.79 429.21,96.39 429.17,96.99 429.14,97.59 429.11,98.19 429.07,98.79 429.04,99.39 429.01,99.99 428.99,100.60 428.98,101.20 428.96,101.80 428.95,102.40 428.93,103.00 428.92,103.60 428.91,104.20 428.89,104.80 428.88,105.40 428.87,106.00 428.85,106.60 428.84,107.20 428.83,107.80 428.81,108.40 428.80,109.00 428.20,109.00 428.19,108.40 428.17,107.80 428.16,107.20 428.15,106.60 428.13,106.00 428.12,105.40 428.11,104.80 428.09,104.20 428.08,103.60 428.07,103.00 428.05,102.40 428.04,101.80 428.02,101.20 428.01,100.60 427.99,99.99 427.96,99.39 427.93,98.79 427.89,98.19 427.86,97.59 427.83,96.99 427.79,96.39 427.76,95.79 427.73,95.19 427.69,94.59 427.66,93.99 427.63,93.39 427.59,92.79 427.56,92.19 427.52,91.59 427.48,90.99 427.43,90.39 427.38,89.79 427.33,89.19 427.27,88.59 427.22,87.99 427.16,87.39 427.11,86.79 427.06,86.19 427.00,85.59 426.95,84.99 426.89,84.39 426.84,83.79 426.79,83.19 426.72,82.59 426.65,81.98 426.57,81.38 426.48,80.78 426.38,80.18 426.29,79.58 426.19,78.98 426.08,78.38 425.93,77.78 425.72,77.18 425.48,76.58 425.21,75.98 424.94,75.38 424.67,74.78 424.41,74.18 424.17,73.58 423.97,72.98 423.81,72.38 423.66,71.78 423.53,71.18 423.39,70.58 423.26,69.98 423.12,69.38 422.96,68.78 422.78,68.18 422.58,67.58 422.38,66.98 422.18,66.38 421.98,65.78 421.80,65.18 421.66,64.58 421.61,63.97 421.62,63.37 421.68,62.77 421.74,62.17 421.81,61.57 421.88,60.97 421.98,60.37 422.13,59.77 422.34,59.17 422.59,58.57 422.86,57.97 423.13,57.37 423.39,56.77 423.65,56.17 423.88,55.57 424.07,54.97 424.23,54.37 424.37,53.77 424.50,53.17 424.64,52.57 424.77,51.97 424.91,51.37 425.04,50.77 425.18,50.17 425.31,49.57 425.45,48.97 425.58,48.37 425.71,47.77 425.85,47.17 425.98,46.57 426.12,45.96 426.25,45.36 426.39,44.76 426.52,44.16 426.66,43.56 426.79,42.96 426.93,42.36 427.08,41.76 427.23,41.16 427.39,40.56 427.55,39.96 427.72,39.36 427.88,38.76 428.02,38.16 428.20,37.56" fill="none" stroke="#888" stroke-width="0.6" stroke-linejoin="round"/>
<rect x="417.80" y="55.42" width="21.20" height="17.86" fill="none" stroke="#a0a0a0" stroke-width="0.7"/>
<line x1="417.80" y1="64.35" x2="439.00" y2="64.35" stroke="#555" stroke-width="1.2"/>
<line x1="428.50" y1="37.56" x2="428.50" y2="109.00" stroke="#777" stroke-width="0.6"/>
<circle cx="428.40" cy="64.35" r="2.0" fill="#0c0c9a"/>
<line x1="439.50" y1="64.35" x2="449.50" y2="64.35" stroke="#777" stroke-width="0.7" stroke-dasharray="1.2,1.2"/>
<text x="450.60" y="66.15" font-size="8.8" text-anchor="start" fill="#1a1a1a" textLength="17.5" lengthAdjust="spacingAndGlyphs" style="stroke-width:0.12px">5.00</text>
<text x="487.80" y="15.80" font-size="21.8" text-anchor="start" fill="#1a1a1a" style="stroke:#111;stroke-width:0.45px">C</text>
<line x1="515.70" y1="12.80" x2="515.70" y2="121.00" stroke="#bdbdbd" stroke-width="1.3"/>
<line x1="515.10" y1="121.00" x2="672.40" y2="121.00" stroke="#8a8a8a" stroke-width="1.2"/>
<line x1="514.10" y1="23.40" x2="515.70" y2="23.40" stroke="#888" stroke-width="0.7"/>
<text x="513.60" y="25.92" font-size="7.2" text-anchor="end" fill="#1a1a1a">6.0</text>
<line x1="514.10" y1="44.55" x2="515.70" y2="44.55" stroke="#888" stroke-width="0.7"/>
<text x="513.60" y="47.07" font-size="7.2" text-anchor="end" fill="#1a1a1a">5.5</text>
<line x1="514.10" y1="65.70" x2="515.70" y2="65.70" stroke="#888" stroke-width="0.7"/>
<text x="513.60" y="68.22" font-size="7.2" text-anchor="end" fill="#1a1a1a">5.0</text>
<line x1="514.10" y1="86.85" x2="515.70" y2="86.85" stroke="#888" stroke-width="0.7"/>
<text x="513.60" y="89.37" font-size="7.2" text-anchor="end" fill="#1a1a1a">4.5</text>
<line x1="514.10" y1="108.00" x2="515.70" y2="108.00" stroke="#888" stroke-width="0.7"/>
<text x="513.60" y="110.52" font-size="7.2" text-anchor="end" fill="#1a1a1a">4.0</text>
<line x1="558.50" y1="121.00" x2="558.50" y2="122.60" stroke="#444" stroke-width="0.8"/>
<line x1="630.50" y1="121.00" x2="630.50" y2="122.60" stroke="#444" stroke-width="0.8"/>
<path d="M558.60,24.90 L558.60,21.90 L630.10,21.90 L630.10,24.90" fill="none" stroke="#9a9a9a" stroke-width="0.9"/>
<text x="579.00" y="19.30" font-size="8.4" text-anchor="start" fill="#1a1a1a" textLength="33.6" lengthAdjust="spacingAndGlyphs" style="stroke-width:0.1px">p = 0.38</text>
<text transform="translate(489.20,73.00) rotate(-90)" x="0" y="0" font-size="8.9" text-anchor="middle" fill="#1a1a1a" textLength="90.7" lengthAdjust="spacingAndGlyphs" style="stroke-width:0.3px">Total number of biofilm</text>
<text transform="translate(498.40,69.80) rotate(-90)" x="0" y="0" font-size="8.9" text-anchor="middle" fill="#1a1a1a" textLength="74.9" lengthAdjust="spacingAndGlyphs" style="stroke-width:0.3px">genes per genome</text>
<g fill="#dc1a1a" fill-opacity="1.0"><circle cx="551.8" cy="93.6" r="0.95"/><circle cx="564.0" cy="66.7" r="0.95"/><circle cx="565.4" cy="55.5" r="0.95"/><circle cx="548.9" cy="91.7" r="0.95"/><circle cx="552.0" cy="78.0" r="0.95"/><circle cx="573.6" cy="48.2" r="0.95"/><circle cx="544.4" cy="53.0" r="0.95"/><circle cx="567.8" cy="78.8" r="0.95"/><circle cx="561.5" cy="36.9" r="0.95"/><circle cx="554.2" cy="75.4" r="0.95"/><circle cx="569.7" cy="56.4" r="0.95"/><circle cx="549.2" cy="75.9" r="0.95"/><circle cx="547.6" cy="98.5" r="0.95"/><circle cx="562.4" cy="41.8" r="0.95"/><circle cx="545.5" cy="32.5" r="0.95"/><circle cx="567.6" cy="74.2" r="0.95"/><circle cx="545.4" cy="54.5" r="0.95"/><circle cx="562.8" cy="71.9" r="0.95"/><circle cx="557.1" cy="52.7" r="0.95"/><circle cx="572.8" cy="86.1" r="0.95"/><circle cx="565.2" cy="67.5" r="0.95"/><circle cx="545.9" cy="62.9" r="0.95"/><circle cx="545.3" cy="82.9" r="0.95"/><circle cx="549.5" cy="85.9" r="0.95"/><circle cx="553.2" cy="71.0" r="0.95"/><circle cx="568.2" cy="74.5" r="0.95"/><circle cx="546.5" cy="97.3" r="0.95"/><circle cx="559.6" cy="44.7" r="0.95"/><circle cx="551.5" cy="69.4" r="0.95"/><circle cx="550.1" cy="62.4" r="0.95"/><circle cx="568.5" cy="41.3" r="0.95"/><circle cx="544.1" cy="77.2" r="0.95"/><circle cx="552.5" cy="39.4" r="0.95"/><circle cx="569.5" cy="54.8" r="0.95"/><circle cx="569.6" cy="45.3" r="0.95"/><circle cx="569.0" cy="66.0" r="0.95"/><circle cx="551.4" cy="67.9" r="0.95"/><circle cx="553.6" cy="66.5" r="0.95"/><circle cx="568.7" cy="47.4" r="0.95"/><circle cx="548.4" cy="89.3" r="0.95"/><circle cx="557.5" cy="73.1" r="0.95"/><circle cx="572.0" cy="34.8" r="0.95"/><circle cx="565.6" cy="34.1" r="0.95"/><circle cx="551.6" cy="53.4" r="0.95"/><circle cx="543.5" cy="73.8" r="0.95"/><circle cx="551.8" cy="43.0" r="0.95"/><circle cx="553.0" cy="93.4" r="0.95"/><circle cx="565.4" cy="77.1" r="0.95"/><circle cx="550.4" cy="98.3" r="0.95"/><circle cx="569.4" cy="38.8" r="0.95"/><circle cx="560.4" cy="56.7" r="0.95"/><circle cx="570.0" cy="83.8" r="0.95"/><circle cx="559.0" cy="47.9" r="0.95"/><circle cx="550.0" cy="87.9" r="0.95"/><circle cx="553.5" cy="73.3" r="0.95"/><circle cx="555.8" cy="94.6" r="0.95"/><circle cx="552.1" cy="68.7" r="0.95"/><circle cx="553.5" cy="73.0" r="0.95"/><circle cx="562.2" cy="73.5" r="0.95"/><circle cx="549.4" cy="65.5" r="0.95"/><circle cx="559.0" cy="45.5" r="0.95"/><circle cx="565.1" cy="68.1" r="0.95"/><circle cx="569.2" cy="48.4" r="0.95"/><circle cx="563.7" cy="44.5" r="0.95"/><circle cx="548.2" cy="50.5" r="0.95"/><circle cx="551.1" cy="52.0" r="0.95"/><circle cx="547.1" cy="81.5" r="0.95"/><circle cx="544.0" cy="72.2" r="0.95"/><circle cx="566.1" cy="54.8" r="0.95"/><circle cx="547.3" cy="46.9" r="0.95"/><circle cx="568.9" cy="55.8" r="0.95"/><circle cx="549.3" cy="96.3" r="0.95"/><circle cx="557.4" cy="80.8" r="0.95"/><circle cx="559.8" cy="87.2" r="0.95"/><circle cx="563.3" cy="75.7" r="0.95"/><circle cx="564.3" cy="63.2" r="0.95"/><circle cx="564.9" cy="82.2" r="0.95"/><circle cx="565.3" cy="49.6" r="0.95"/><circle cx="572.2" cy="94.1" r="0.95"/><circle cx="551.7" cy="60.1" r="0.95"/><circle cx="559.1" cy="69.7" r="0.95"/><circle cx="550.9" cy="64.1" r="0.95"/><circle cx="554.5" cy="81.0" r="0.95"/><circle cx="556.7" cy="46.5" r="0.95"/><circle cx="557.1" cy="96.1" r="0.95"/><circle cx="543.8" cy="85.2" r="0.95"/><circle cx="552.3" cy="33.4" r="0.95"/><circle cx="554.3" cy="62.8" r="0.95"/><circle cx="570.8" cy="95.1" r="0.95"/><circle cx="549.1" cy="36.2" r="0.95"/><circle cx="554.8" cy="70.8" r="0.95"/><circle cx="563.5" cy="87.5" r="0.95"/><circle cx="566.5" cy="46.4" r="0.95"/><circle cx="543.9" cy="53.6" r="0.95"/><circle cx="559.0" cy="83.3" r="0.95"/><circle cx="555.1" cy="51.7" r="0.95"/><circle cx="569.0" cy="68.7" r="0.95"/><circle cx="551.6" cy="97.1" r="0.95"/><circle cx="573.6" cy="79.3" r="0.95"/><circle cx="544.8" cy="83.5" r="0.95"/><circle cx="563.1" cy="70.9" r="0.95"/><circle cx="568.9" cy="88.4" r="0.95"/><circle cx="564.8" cy="85.6" r="0.95"/><circle cx="570.2" cy="87.9" r="0.95"/><circle cx="565.6" cy="85.2" r="0.95"/><circle cx="551.2" cy="42.6" r="0.95"/><circle cx="561.2" cy="92.5" r="0.95"/><circle cx="558.0" cy="65.3" r="0.95"/><circle cx="557.5" cy="46.5" r="0.95"/><circle cx="558.2" cy="65.5" r="0.95"/><circle cx="555.7" cy="68.3" r="0.95"/><circle cx="552.4" cy="87.9" r="0.95"/><circle cx="550.9" cy="81.0" r="0.95"/><circle cx="546.9" cy="46.4" r="0.95"/><circle cx="559.4" cy="85.0" r="0.95"/><circle cx="550.7" cy="77.8" r="0.95"/><circle cx="558.7" cy="73.7" r="0.95"/><circle cx="573.0" cy="53.6" r="0.95"/><circle cx="556.5" cy="41.7" r="0.95"/><circle cx="556.0" cy="68.5" r="0.95"/><circle cx="572.3" cy="82.7" r="0.95"/><circle cx="549.6" cy="94.1" r="0.95"/><circle cx="561.3" cy="54.5" r="0.95"/><circle cx="571.9" cy="80.1" r="0.95"/><circle cx="561.5" cy="71.3" r="0.95"/><circle cx="570.5" cy="92.6" r="0.95"/><circle cx="555.4" cy="91.8" r="0.95"/><circle cx="572.1" cy="39.5" r="0.95"/><circle cx="568.6" cy="38.3" r="0.95"/><circle cx="544.4" cy="83.1" r="0.95"/><circle cx="545.3" cy="68.5" r="0.95"/><circle cx="543.6" cy="34.5" r="0.95"/><circle cx="549.6" cy="76.9" r="0.95"/><circle cx="558.6" cy="97.8" r="0.95"/><circle cx="570.8" cy="93.6" r="0.95"/><circle cx="554.6" cy="52.7" r="0.95"/><circle cx="567.6" cy="42.4" r="0.95"/><circle cx="569.2" cy="76.9" r="0.95"/><circle cx="562.2" cy="36.6" r="0.95"/><circle cx="570.8" cy="75.2" r="0.95"/><circle cx="554.0" cy="35.7" r="0.95"/><circle cx="569.8" cy="92.9" r="0.95"/><circle cx="550.5" cy="54.3" r="0.95"/><circle cx="552.8" cy="60.8" r="0.95"/><circle cx="553.8" cy="37.3" r="0.95"/><circle cx="544.7" cy="85.6" r="0.95"/><circle cx="573.5" cy="75.8" r="0.95"/><circle cx="557.3" cy="84.1" r="0.95"/><circle cx="543.6" cy="33.7" r="0.95"/><circle cx="568.4" cy="79.0" r="0.95"/><circle cx="571.6" cy="92.3" r="0.95"/><circle cx="547.7" cy="42.9" r="0.95"/><circle cx="560.3" cy="59.1" r="0.95"/><circle cx="552.7" cy="52.3" r="0.95"/><circle cx="550.7" cy="73.0" r="0.95"/><circle cx="548.7" cy="79.2" r="0.95"/><circle cx="570.4" cy="38.2" r="0.95"/><circle cx="564.5" cy="74.6" r="0.95"/><circle cx="551.9" cy="65.9" r="0.95"/><circle cx="572.7" cy="75.3" r="0.95"/><circle cx="561.0" cy="75.9" r="0.95"/><circle cx="552.4" cy="35.5" r="0.95"/><circle cx="546.9" cy="44.6" r="0.95"/><circle cx="567.9" cy="49.7" r="0.95"/><circle cx="573.0" cy="42.7" r="0.95"/><circle cx="573.1" cy="51.2" r="0.95"/><circle cx="559.3" cy="80.1" r="0.95"/><circle cx="545.9" cy="84.4" r="0.95"/><circle cx="565.3" cy="69.4" r="0.95"/><circle cx="543.9" cy="46.7" r="0.95"/><circle cx="550.9" cy="35.7" r="0.95"/><circle cx="568.7" cy="79.2" r="0.95"/><circle cx="565.8" cy="38.9" r="0.95"/><circle cx="557.5" cy="76.5" r="0.95"/><circle cx="554.3" cy="42.9" r="0.95"/><circle cx="567.2" cy="44.9" r="0.95"/><circle cx="570.7" cy="67.4" r="0.95"/><circle cx="566.2" cy="73.0" r="0.95"/><circle cx="553.5" cy="55.9" r="0.95"/><circle cx="561.8" cy="63.2" r="0.95"/><circle cx="546.8" cy="62.8" r="0.95"/><circle cx="572.8" cy="32.4" r="0.95"/><circle cx="572.1" cy="96.2" r="0.95"/><circle cx="547.2" cy="63.2" r="0.95"/><circle cx="556.6" cy="43.9" r="0.95"/><circle cx="568.5" cy="51.0" r="0.95"/><circle cx="544.9" cy="62.7" r="0.95"/><circle cx="564.5" cy="43.7" r="0.95"/><circle cx="551.6" cy="37.9" r="0.95"/><circle cx="569.9" cy="46.2" r="0.95"/><circle cx="555.9" cy="75.0" r="0.95"/><circle cx="543.6" cy="76.4" r="0.95"/><circle cx="553.5" cy="83.2" r="0.95"/><circle cx="566.7" cy="91.4" r="0.95"/><circle cx="560.7" cy="70.2" r="0.95"/><circle cx="554.4" cy="79.7" r="0.95"/><circle cx="557.7" cy="48.3" r="0.95"/><circle cx="556.2" cy="58.8" r="0.95"/><circle cx="570.7" cy="61.5" r="0.95"/><circle cx="559.2" cy="80.8" r="0.95"/><circle cx="546.0" cy="52.8" r="0.95"/><circle cx="558.6" cy="34.4" r="0.95"/><circle cx="566.5" cy="82.3" r="0.95"/><circle cx="562.6" cy="44.2" r="0.95"/><circle cx="546.1" cy="37.5" r="0.95"/><circle cx="566.0" cy="63.4" r="0.95"/><circle cx="562.9" cy="37.4" r="0.95"/><circle cx="555.2" cy="58.4" r="0.95"/><circle cx="560.3" cy="60.5" r="0.95"/><circle cx="568.5" cy="38.2" r="0.95"/><circle cx="571.5" cy="49.4" r="0.95"/><circle cx="566.8" cy="94.3" r="0.95"/><circle cx="562.6" cy="113.1" r="0.95"/></g>
<line x1="558.50" y1="65.70" x2="558.50" y2="108.00" stroke="#777" stroke-width="0.6"/>
<line x1="541.10" y1="65.70" x2="576.10" y2="65.70" stroke="#9a9a9a" stroke-width="1.2"/>
<line x1="549.60" y1="65.70" x2="567.60" y2="65.70" stroke="#9a2a2a" stroke-width="1.6"/>
<line x1="576.10" y1="65.70" x2="579.60" y2="65.70" stroke="#999" stroke-width="0.6"/>
<circle cx="558.60" cy="65.70" r="2.0" fill="#0c0c9a"/>
<text x="581.00" y="67.60" font-size="8.8" text-anchor="start" fill="#1a1a1a" textLength="17.6" lengthAdjust="spacingAndGlyphs" style="stroke-width:0.12px">5.00</text>
<g fill="#c2c2c2" fill-opacity="1.0"><circle cx="637.5" cy="67.8" r="0.8"/><circle cx="629.1" cy="78.5" r="0.8"/><circle cx="616.5" cy="44.8" r="0.8"/><circle cx="629.8" cy="78.8" r="0.8"/><circle cx="623.4" cy="43.0" r="0.8"/><circle cx="622.6" cy="44.9" r="0.8"/><circle cx="631.7" cy="78.1" r="0.8"/><circle cx="641.2" cy="55.7" r="0.8"/><circle cx="622.8" cy="41.3" r="0.8"/><circle cx="634.0" cy="49.8" r="0.8"/><circle cx="638.2" cy="72.8" r="0.8"/><circle cx="629.5" cy="40.1" r="0.8"/><circle cx="619.2" cy="38.9" r="0.8"/><circle cx="637.8" cy="86.8" r="0.8"/><circle cx="632.6" cy="77.9" r="0.8"/><circle cx="619.8" cy="65.7" r="0.8"/><circle cx="637.1" cy="49.2" r="0.8"/><circle cx="623.1" cy="88.2" r="0.8"/><circle cx="642.1" cy="46.3" r="0.8"/><circle cx="630.2" cy="41.8" r="0.8"/><circle cx="628.5" cy="74.0" r="0.8"/><circle cx="630.0" cy="86.2" r="0.8"/><circle cx="620.2" cy="82.7" r="0.8"/><circle cx="617.4" cy="73.1" r="0.8"/><circle cx="635.8" cy="67.4" r="0.8"/><circle cx="644.0" cy="55.8" r="0.8"/><circle cx="634.0" cy="40.8" r="0.8"/><circle cx="628.5" cy="40.1" r="0.8"/><circle cx="623.8" cy="46.4" r="0.8"/><circle cx="644.1" cy="63.8" r="0.8"/><circle cx="630.3" cy="59.2" r="0.8"/><circle cx="624.6" cy="47.1" r="0.8"/><circle cx="616.0" cy="44.3" r="0.8"/><circle cx="620.7" cy="82.2" r="0.8"/><circle cx="643.1" cy="81.0" r="0.8"/><circle cx="624.2" cy="95.9" r="0.8"/><circle cx="636.0" cy="60.7" r="0.8"/><circle cx="626.7" cy="48.0" r="0.8"/><circle cx="640.4" cy="83.4" r="0.8"/><circle cx="617.4" cy="89.6" r="0.8"/><circle cx="629.9" cy="82.6" r="0.8"/><circle cx="636.8" cy="37.2" r="0.8"/><circle cx="630.7" cy="61.4" r="0.8"/><circle cx="633.8" cy="53.1" r="0.8"/><circle cx="618.2" cy="75.9" r="0.8"/><circle cx="638.4" cy="84.6" r="0.8"/><circle cx="638.8" cy="56.9" r="0.8"/><circle cx="641.8" cy="94.6" r="0.8"/><circle cx="642.5" cy="73.0" r="0.8"/><circle cx="631.5" cy="59.5" r="0.8"/><circle cx="633.8" cy="45.2" r="0.8"/><circle cx="620.1" cy="54.3" r="0.8"/><circle cx="625.9" cy="58.8" r="0.8"/><circle cx="619.4" cy="92.6" r="0.8"/><circle cx="623.2" cy="66.8" r="0.8"/><circle cx="619.1" cy="48.5" r="0.8"/><circle cx="644.6" cy="96.5" r="0.8"/><circle cx="630.4" cy="77.4" r="0.8"/><circle cx="621.6" cy="84.0" r="0.8"/><circle cx="638.6" cy="71.7" r="0.8"/><circle cx="639.9" cy="94.9" r="0.8"/><circle cx="631.8" cy="34.2" r="0.8"/><circle cx="622.3" cy="74.4" r="0.8"/><circle cx="624.9" cy="85.7" r="0.8"/><circle cx="615.6" cy="43.0" r="0.8"/><circle cx="635.0" cy="47.2" r="0.8"/><circle cx="617.5" cy="96.2" r="0.8"/><circle cx="635.2" cy="50.5" r="0.8"/><circle cx="640.6" cy="77.4" r="0.8"/><circle cx="628.0" cy="84.0" r="0.8"/><circle cx="634.4" cy="90.1" r="0.8"/><circle cx="620.7" cy="91.9" r="0.8"/><circle cx="630.1" cy="48.5" r="0.8"/><circle cx="636.9" cy="55.1" r="0.8"/><circle cx="621.3" cy="58.7" r="0.8"/><circle cx="618.9" cy="52.8" r="0.8"/><circle cx="628.6" cy="80.2" r="0.8"/><circle cx="618.6" cy="90.1" r="0.8"/><circle cx="637.2" cy="55.8" r="0.8"/><circle cx="626.9" cy="73.7" r="0.8"/><circle cx="630.7" cy="84.2" r="0.8"/><circle cx="642.8" cy="60.4" r="0.8"/><circle cx="642.0" cy="94.8" r="0.8"/><circle cx="625.6" cy="34.1" r="0.8"/><circle cx="639.6" cy="51.1" r="0.8"/><circle cx="623.9" cy="55.8" r="0.8"/><circle cx="641.1" cy="57.6" r="0.8"/><circle cx="629.5" cy="90.6" r="0.8"/><circle cx="640.2" cy="96.0" r="0.8"/><circle cx="616.8" cy="47.7" r="0.8"/><circle cx="635.7" cy="49.8" r="0.8"/><circle cx="630.8" cy="89.4" r="0.8"/><circle cx="625.3" cy="53.4" r="0.8"/><circle cx="644.0" cy="65.2" r="0.8"/><circle cx="630.2" cy="56.8" r="0.8"/><circle cx="619.0" cy="93.2" r="0.8"/><circle cx="637.2" cy="43.1" r="0.8"/><circle cx="632.4" cy="44.1" r="0.8"/><circle cx="631.0" cy="60.6" r="0.8"/><circle cx="625.1" cy="50.5" r="0.8"/><circle cx="629.2" cy="65.7" r="0.8"/><circle cx="621.8" cy="55.2" r="0.8"/><circle cx="618.1" cy="95.8" r="0.8"/><circle cx="640.5" cy="86.0" r="0.8"/><circle cx="637.4" cy="51.6" r="0.8"/><circle cx="618.5" cy="69.1" r="0.8"/><circle cx="640.7" cy="67.7" r="0.8"/><circle cx="633.9" cy="64.9" r="0.8"/><circle cx="619.9" cy="73.5" r="0.8"/><circle cx="629.7" cy="57.4" r="0.8"/><circle cx="623.0" cy="75.3" r="0.8"/><circle cx="624.8" cy="53.0" r="0.8"/><circle cx="623.1" cy="60.6" r="0.8"/><circle cx="626.4" cy="49.3" r="0.8"/><circle cx="642.6" cy="66.9" r="0.8"/><circle cx="637.0" cy="51.5" r="0.8"/><circle cx="640.0" cy="75.8" r="0.8"/><circle cx="644.4" cy="72.8" r="0.8"/><circle cx="634.7" cy="40.2" r="0.8"/><circle cx="631.4" cy="44.3" r="0.8"/><circle cx="619.1" cy="50.6" r="0.8"/><circle cx="638.9" cy="34.3" r="0.8"/><circle cx="622.6" cy="88.3" r="0.8"/><circle cx="637.8" cy="60.7" r="0.8"/><circle cx="643.6" cy="87.9" r="0.8"/><circle cx="644.6" cy="75.3" r="0.8"/><circle cx="629.7" cy="49.4" r="0.8"/><circle cx="618.3" cy="74.3" r="0.8"/><circle cx="633.9" cy="91.8" r="0.8"/><circle cx="642.0" cy="48.0" r="0.8"/><circle cx="642.9" cy="74.1" r="0.8"/><circle cx="642.9" cy="78.5" r="0.8"/><circle cx="620.0" cy="38.7" r="0.8"/><circle cx="636.0" cy="42.4" r="0.8"/><circle cx="640.0" cy="52.6" r="0.8"/><circle cx="630.3" cy="63.1" r="0.8"/><circle cx="640.8" cy="74.0" r="0.8"/><circle cx="620.2" cy="39.9" r="0.8"/><circle cx="623.5" cy="48.1" r="0.8"/><circle cx="621.3" cy="85.7" r="0.8"/><circle cx="623.7" cy="60.8" r="0.8"/><circle cx="618.4" cy="81.9" r="0.8"/><circle cx="638.1" cy="76.7" r="0.8"/><circle cx="629.6" cy="96.0" r="0.8"/><circle cx="616.9" cy="58.9" r="0.8"/><circle cx="642.0" cy="78.6" r="0.8"/><circle cx="640.3" cy="33.9" r="0.8"/><circle cx="637.8" cy="86.6" r="0.8"/><circle cx="620.5" cy="68.6" r="0.8"/><circle cx="642.4" cy="66.7" r="0.8"/><circle cx="626.9" cy="41.4" r="0.8"/><circle cx="641.8" cy="93.4" r="0.8"/><circle cx="630.4" cy="34.4" r="0.8"/><circle cx="631.4" cy="83.0" r="0.8"/><circle cx="629.6" cy="53.0" r="0.8"/><circle cx="622.7" cy="74.9" r="0.8"/><circle cx="617.0" cy="78.5" r="0.8"/><circle cx="643.3" cy="81.1" r="0.8"/><circle cx="636.7" cy="96.9" r="0.8"/><circle cx="627.3" cy="47.0" r="0.8"/><circle cx="621.9" cy="59.4" r="0.8"/><circle cx="636.2" cy="54.8" r="0.8"/><circle cx="629.9" cy="50.5" r="0.8"/><circle cx="640.8" cy="35.4" r="0.8"/><circle cx="635.4" cy="60.9" r="0.8"/><circle cx="643.1" cy="79.9" r="0.8"/></g>
<line x1="618.60" y1="65.70" x2="641.10" y2="65.70" stroke="#b4b4b4" stroke-width="1.8"/>
<line x1="641.10" y1="65.70" x2="650.60" y2="65.70" stroke="#aaa" stroke-width="0.6" stroke-dasharray="1.2,1.2"/>
<circle cx="630.10" cy="65.70" r="2.0" fill="#0c0c9a"/>
<text x="652.60" y="67.70" font-size="8.8" text-anchor="start" fill="#1a1a1a" textLength="17.7" lengthAdjust="spacingAndGlyphs" style="stroke-width:0.12px">5.00</text>
<text x="287.40" y="154.60" font-size="21.8" text-anchor="start" fill="#1a1a1a" style="stroke:#111;stroke-width:0.45px">D</text>
<line x1="316.60" y1="162.90" x2="316.60" y2="282.70" stroke="#bdbdbd" stroke-width="1.3"/>
<line x1="316.00" y1="282.70" x2="479.50" y2="282.70" stroke="#8a8a8a" stroke-width="1.2"/>
<line x1="315.00" y1="190.60" x2="316.60" y2="190.60" stroke="#888" stroke-width="0.7"/>
<text x="313.20" y="193.33" font-size="7.8" text-anchor="end" fill="#1a1a1a" textLength="7.5" lengthAdjust="spacingAndGlyphs">20</text>
<line x1="315.00" y1="218.00" x2="316.60" y2="218.00" stroke="#888" stroke-width="0.7"/>
<text x="313.20" y="220.73" font-size="7.8" text-anchor="end" fill="#1a1a1a" textLength="7.5" lengthAdjust="spacingAndGlyphs">18</text>
<line x1="315.00" y1="245.40" x2="316.60" y2="245.40" stroke="#888" stroke-width="0.7"/>
<text x="313.20" y="248.13" font-size="7.8" text-anchor="end" fill="#1a1a1a" textLength="7.5" lengthAdjust="spacingAndGlyphs">16</text>
<line x1="315.00" y1="272.80" x2="316.60" y2="272.80" stroke="#888" stroke-width="0.7"/>
<text x="313.20" y="275.53" font-size="7.8" text-anchor="end" fill="#1a1a1a" textLength="7.5" lengthAdjust="spacingAndGlyphs">14</text>
<line x1="362.50" y1="282.70" x2="362.50" y2="284.30" stroke="#444" stroke-width="0.8"/>
<line x1="439.50" y1="282.70" x2="439.50" y2="284.30" stroke="#444" stroke-width="0.8"/>
<path d="M362.50,176.20 L362.50,173.20 L439.00,173.20 L439.00,176.20" fill="none" stroke="#9a9a9a" stroke-width="0.9"/>
<text x="377.00" y="170.60" font-size="8.4" text-anchor="start" fill="#1a1a1a" textLength="51.6" lengthAdjust="spacingAndGlyphs" style="stroke-width:0.1px">p = 5.09e-05</text>
<text transform="translate(286.50,216.90) rotate(-90)" x="0" y="0" font-size="8.9" text-anchor="middle" fill="#1a1a1a" textLength="108.0" lengthAdjust="spacingAndGlyphs" style="stroke-width:0.3px">Total number of modulation</text>
<text transform="translate(296.20,214.80) rotate(-90)" x="0" y="0" font-size="8.9" text-anchor="middle" fill="#1a1a1a" textLength="74.9" lengthAdjust="spacingAndGlyphs" style="stroke-width:0.3px">genes per genome</text>
<polygon points="362.70,197.45 362.79,197.74 362.87,198.03 362.95,198.31 363.04,198.60 363.12,198.89 363.20,199.18 363.29,199.46 363.41,199.75 363.63,200.04 364.04,200.33 364.63,200.62 365.32,200.90 366.06,201.19 366.79,201.48 367.53,201.77 368.26,202.06 369.00,202.34 369.91,202.63 371.20,202.92 373.03,203.21 375.24,203.49 377.56,203.78 379.36,204.07 380.18,204.36 379.75,204.65 378.53,204.93 377.00,205.22 375.60,205.51 374.43,205.80 373.49,206.08 372.71,206.37 371.97,206.66 371.24,206.95 370.50,207.24 369.76,207.52 369.03,207.81 368.35,208.10 367.81,208.39 367.45,208.67 367.24,208.96 367.09,209.25 366.95,209.54 366.81,209.83 366.67,210.11 366.53,210.40 366.39,210.69 366.25,210.98 366.11,211.27 365.97,211.55 365.83,211.84 365.71,212.13 365.62,212.42 365.59,212.70 365.62,212.99 365.68,213.28 365.75,213.57 365.82,213.86 365.89,214.14 365.96,214.43 366.04,214.72 366.11,215.01 366.18,215.29 366.25,215.58 366.32,215.87 366.41,216.16 366.58,216.45 366.91,216.73 367.40,217.02 367.99,217.31 368.55,217.60 368.92,217.88 368.99,218.17 368.78,218.46 368.41,218.75 367.99,219.04 367.57,219.32 367.15,219.61 366.75,219.90 366.36,220.19 365.99,220.48 365.64,220.76 365.29,221.05 364.94,221.34 364.60,221.63 364.29,221.91 364.06,222.20 363.90,222.49 363.79,222.78 363.70,223.07 363.61,223.35 363.52,223.64 363.42,223.93 363.33,224.22 363.24,224.50 363.15,224.79 363.06,225.08 362.97,225.37 362.88,225.66 362.80,225.94 362.74,226.23 362.70,226.52 362.69,226.81 362.68,227.09 362.68,227.38 362.67,227.67 362.67,227.96 362.66,228.25 362.66,228.53 362.65,228.82 362.65,229.11 362.64,229.40 362.64,229.69 362.63,229.97 362.63,230.26 362.62,230.55 362.62,230.84 362.61,231.12 362.61,231.41 362.60,231.70 362.40,231.70 362.39,231.41 362.39,231.12 362.38,230.84 362.38,230.55 362.37,230.26 362.37,229.97 362.36,229.69 362.36,229.40 362.35,229.11 362.35,228.82 362.34,228.53 362.34,228.25 362.33,227.96 362.33,227.67 362.32,227.38 362.32,227.09 362.31,226.81 362.30,226.52 362.26,226.23 362.20,225.94 362.12,225.66 362.03,225.37 361.94,225.08 361.85,224.79 361.76,224.50 361.67,224.22 361.58,223.93 361.48,223.64 361.39,223.35 361.30,223.07 361.21,222.78 361.10,222.49 360.94,222.20 360.71,221.91 360.40,221.63 360.06,221.34 359.71,221.05 359.36,220.76 359.01,220.48 358.64,220.19 358.25,219.90 357.85,219.61 357.43,219.32 357.01,219.04 356.59,218.75 356.22,218.46 356.01,218.17 356.08,217.88 356.45,217.60 357.01,217.31 357.60,217.02 358.09,216.73 358.42,216.45 358.59,216.16 358.68,215.87 358.75,215.58 358.82,215.29 358.89,215.01 358.96,214.72 359.04,214.43 359.11,214.14 359.18,213.86 359.25,213.57 359.32,213.28 359.38,212.99 359.41,212.70 359.38,212.42 359.29,212.13 359.17,211.84 359.03,211.55 358.89,211.27 358.75,210.98 358.61,210.69 358.47,210.40 358.33,210.11 358.19,209.83 358.05,209.54 357.91,209.25 357.76,208.96 357.55,208.67 357.19,208.39 356.65,208.10 355.97,207.81 355.24,207.52 354.50,207.24 353.76,206.95 353.03,206.66 352.29,206.37 351.51,206.08 350.57,205.80 349.40,205.51 348.00,205.22 346.47,204.93 345.25,204.65 344.82,204.36 345.64,204.07 347.44,203.78 349.76,203.49 351.97,203.21 353.80,202.92 355.09,202.63 356.00,202.34 356.74,202.06 357.47,201.77 358.21,201.48 358.94,201.19 359.68,200.90 360.37,200.62 360.96,200.33 361.37,200.04 361.59,199.75 361.71,199.46 361.80,199.18 361.88,198.89 361.96,198.60 362.05,198.31 362.13,198.03 362.21,197.74 362.30,197.45" fill="none" stroke="#8a8a8a" stroke-width="0.6" stroke-linejoin="round"/>
<line x1="362.50" y1="204.30" x2="362.50" y2="231.70" stroke="#888" stroke-width="0.6"/>
<g fill="#dc1a1a" fill-opacity="1.0"><circle cx="367.1" cy="194.9" r="0.95"/><circle cx="355.9" cy="193.0" r="0.95"/><circle cx="350.1" cy="202.6" r="0.95"/><circle cx="350.3" cy="209.9" r="0.95"/><circle cx="370.8" cy="212.5" r="0.95"/><circle cx="358.8" cy="209.8" r="0.95"/><circle cx="373.5" cy="212.1" r="0.95"/><circle cx="357.4" cy="195.7" r="0.95"/><circle cx="368.4" cy="199.0" r="0.95"/><circle cx="377.9" cy="213.4" r="0.95"/><circle cx="367.7" cy="198.1" r="0.95"/><circle cx="370.3" cy="198.7" r="0.95"/><circle cx="349.1" cy="212.1" r="0.95"/><circle cx="371.1" cy="200.9" r="0.95"/><circle cx="355.0" cy="213.7" r="0.95"/><circle cx="363.6" cy="212.0" r="0.95"/><circle cx="370.3" cy="206.7" r="0.95"/><circle cx="372.2" cy="211.9" r="0.95"/><circle cx="362.3" cy="211.8" r="0.95"/><circle cx="371.3" cy="202.0" r="0.95"/><circle cx="354.2" cy="193.4" r="0.95"/><circle cx="368.2" cy="206.7" r="0.95"/><circle cx="373.7" cy="205.8" r="0.95"/><circle cx="376.4" cy="207.6" r="0.95"/><circle cx="377.7" cy="212.6" r="0.95"/><circle cx="369.9" cy="207.7" r="0.95"/><circle cx="360.1" cy="200.4" r="0.95"/><circle cx="348.2" cy="209.1" r="0.95"/><circle cx="350.1" cy="198.2" r="0.95"/><circle cx="353.7" cy="203.3" r="0.95"/><circle cx="357.1" cy="208.9" r="0.95"/><circle cx="376.2" cy="203.1" r="0.95"/><circle cx="367.2" cy="198.9" r="0.95"/><circle cx="372.6" cy="208.3" r="0.95"/><circle cx="349.3" cy="204.0" r="0.95"/><circle cx="352.1" cy="213.5" r="0.95"/><circle cx="375.7" cy="200.6" r="0.95"/><circle cx="359.8" cy="211.0" r="0.95"/><circle cx="370.7" cy="202.6" r="0.95"/><circle cx="352.3" cy="193.0" r="0.95"/><circle cx="376.7" cy="194.2" r="0.95"/><circle cx="372.8" cy="202.6" r="0.95"/><circle cx="356.2" cy="200.1" r="0.95"/><circle cx="351.6" cy="200.8" r="0.95"/><circle cx="348.9" cy="213.6" r="0.95"/><circle cx="369.3" cy="206.6" r="0.95"/><circle cx="368.7" cy="197.3" r="0.95"/><circle cx="373.0" cy="200.8" r="0.95"/><circle cx="373.4" cy="199.9" r="0.95"/><circle cx="375.9" cy="194.8" r="0.95"/><circle cx="348.2" cy="208.2" r="0.95"/><circle cx="359.0" cy="208.5" r="0.95"/><circle cx="352.4" cy="195.3" r="0.95"/><circle cx="347.6" cy="210.0" r="0.95"/><circle cx="370.7" cy="209.1" r="0.95"/><circle cx="354.9" cy="193.3" r="0.95"/><circle cx="370.7" cy="204.4" r="0.95"/><circle cx="351.1" cy="208.2" r="0.95"/><circle cx="377.6" cy="197.1" r="0.95"/><circle cx="349.0" cy="198.9" r="0.95"/><circle cx="358.6" cy="198.6" r="0.95"/><circle cx="356.1" cy="211.1" r="0.95"/><circle cx="347.4" cy="207.6" r="0.95"/><circle cx="373.8" cy="195.0" r="0.95"/><circle cx="368.3" cy="198.0" r="0.95"/><circle cx="352.9" cy="206.4" r="0.95"/><circle cx="375.0" cy="192.9" r="0.95"/><circle cx="360.7" cy="197.4" r="0.95"/><circle cx="376.1" cy="192.7" r="0.95"/><circle cx="356.1" cy="200.0" r="0.95"/><circle cx="359.0" cy="204.0" r="0.95"/><circle cx="361.3" cy="208.0" r="0.95"/><circle cx="347.4" cy="197.6" r="0.95"/><circle cx="368.7" cy="196.0" r="0.95"/><circle cx="351.6" cy="208.9" r="0.95"/><circle cx="365.5" cy="194.0" r="0.95"/><circle cx="361.6" cy="209.6" r="0.95"/><circle cx="365.5" cy="193.6" r="0.95"/><circle cx="374.1" cy="194.8" r="0.95"/><circle cx="359.7" cy="208.3" r="0.95"/><circle cx="374.1" cy="197.2" r="0.95"/><circle cx="373.5" cy="205.6" r="0.95"/><circle cx="355.8" cy="208.8" r="0.95"/><circle cx="374.1" cy="194.4" r="0.95"/><circle cx="358.3" cy="195.3" r="0.95"/><circle cx="358.8" cy="204.4" r="0.95"/><circle cx="364.6" cy="209.2" r="0.95"/><circle cx="355.2" cy="208.2" r="0.95"/><circle cx="355.0" cy="202.9" r="0.95"/><circle cx="350.0" cy="197.3" r="0.95"/><circle cx="352.3" cy="204.5" r="0.95"/><circle cx="367.0" cy="211.0" r="0.95"/><circle cx="359.6" cy="201.9" r="0.95"/><circle cx="364.1" cy="194.9" r="0.95"/><circle cx="371.4" cy="211.3" r="0.95"/><circle cx="373.0" cy="202.2" r="0.95"/><circle cx="368.1" cy="210.5" r="0.95"/><circle cx="361.6" cy="199.0" r="0.95"/><circle cx="371.8" cy="196.8" r="0.95"/><circle cx="353.6" cy="196.2" r="0.95"/><circle cx="364.6" cy="199.7" r="0.95"/><circle cx="373.5" cy="205.3" r="0.95"/><circle cx="375.7" cy="195.2" r="0.95"/><circle cx="372.2" cy="205.8" r="0.95"/><circle cx="363.4" cy="210.2" r="0.95"/><circle cx="370.6" cy="195.0" r="0.95"/><circle cx="351.9" cy="198.1" r="0.95"/><circle cx="368.6" cy="213.1" r="0.95"/><circle cx="375.6" cy="203.7" r="0.95"/><circle cx="355.3" cy="213.2" r="0.95"/><circle cx="371.3" cy="206.7" r="0.95"/><circle cx="362.9" cy="209.8" r="0.95"/><circle cx="365.9" cy="205.5" r="0.95"/><circle cx="372.1" cy="199.7" r="0.95"/><circle cx="369.5" cy="208.6" r="0.95"/><circle cx="348.8" cy="195.2" r="0.95"/><circle cx="376.2" cy="200.2" r="0.95"/><circle cx="375.7" cy="198.9" r="0.95"/><circle cx="365.8" cy="205.0" r="0.95"/><circle cx="358.0" cy="203.5" r="0.95"/><circle cx="353.8" cy="204.8" r="0.95"/><circle cx="362.7" cy="213.2" r="0.95"/><circle cx="359.2" cy="207.8" r="0.95"/><circle cx="366.7" cy="196.7" r="0.95"/><circle cx="366.1" cy="199.8" r="0.95"/><circle cx="366.1" cy="208.4" r="0.95"/><circle cx="358.6" cy="196.0" r="0.95"/><circle cx="376.5" cy="210.0" r="0.95"/><circle cx="347.1" cy="193.5" r="0.95"/><circle cx="373.8" cy="201.0" r="0.95"/><circle cx="372.5" cy="201.3" r="0.95"/><circle cx="375.2" cy="208.7" r="0.95"/><circle cx="360.7" cy="199.7" r="0.95"/><circle cx="353.6" cy="198.7" r="0.95"/><circle cx="355.0" cy="198.8" r="0.95"/><circle cx="372.1" cy="204.9" r="0.95"/><circle cx="377.9" cy="200.5" r="0.95"/><circle cx="370.6" cy="213.5" r="0.95"/><circle cx="350.3" cy="198.8" r="0.95"/><circle cx="376.4" cy="200.5" r="0.95"/><circle cx="375.5" cy="212.6" r="0.95"/><circle cx="374.8" cy="195.3" r="0.95"/><circle cx="366.5" cy="204.8" r="0.95"/><circle cx="368.9" cy="208.7" r="0.95"/><circle cx="367.8" cy="199.1" r="0.95"/><circle cx="363.8" cy="208.4" r="0.95"/><circle cx="346.9" cy="209.7" r="0.95"/><circle cx="373.0" cy="209.4" r="0.95"/><circle cx="349.1" cy="208.7" r="0.95"/><circle cx="363.1" cy="201.4" r="0.95"/><circle cx="374.3" cy="195.7" r="0.95"/><circle cx="377.2" cy="195.1" r="0.95"/><circle cx="360.9" cy="210.9" r="0.95"/><circle cx="376.8" cy="209.0" r="0.95"/><circle cx="366.3" cy="208.3" r="0.95"/><circle cx="372.4" cy="209.6" r="0.95"/><circle cx="360.0" cy="209.2" r="0.95"/><circle cx="373.8" cy="200.7" r="0.95"/><circle cx="366.6" cy="207.2" r="0.95"/><circle cx="352.3" cy="195.7" r="0.95"/><circle cx="370.8" cy="198.3" r="0.95"/><circle cx="378.1" cy="202.0" r="0.95"/><circle cx="352.4" cy="200.9" r="0.95"/><circle cx="355.8" cy="203.0" r="0.95"/><circle cx="361.2" cy="201.9" r="0.95"/><circle cx="375.7" cy="196.7" r="0.95"/><circle cx="359.8" cy="196.5" r="0.95"/><circle cx="373.8" cy="197.5" r="0.95"/><circle cx="364.1" cy="194.8" r="0.95"/><circle cx="362.2" cy="211.6" r="0.95"/><circle cx="355.3" cy="199.9" r="0.95"/><circle cx="358.7" cy="204.9" r="0.95"/><circle cx="359.8" cy="218.3" r="0.95"/><circle cx="351.1" cy="219.1" r="0.95"/><circle cx="367.3" cy="217.6" r="0.95"/><circle cx="361.3" cy="214.2" r="0.95"/><circle cx="366.0" cy="214.9" r="0.95"/><circle cx="369.8" cy="214.1" r="0.95"/><circle cx="350.4" cy="217.3" r="0.95"/><circle cx="375.1" cy="216.8" r="0.95"/><circle cx="375.0" cy="218.4" r="0.95"/><circle cx="350.2" cy="214.5" r="0.95"/><circle cx="360.0" cy="216.6" r="0.95"/><circle cx="374.7" cy="218.2" r="0.95"/><circle cx="375.6" cy="217.2" r="0.95"/><circle cx="355.4" cy="218.1" r="0.95"/><circle cx="363.0" cy="216.8" r="0.95"/><circle cx="373.3" cy="219.1" r="0.95"/><circle cx="349.7" cy="218.5" r="0.95"/><circle cx="365.5" cy="215.1" r="0.95"/><circle cx="361.9" cy="216.0" r="0.95"/><circle cx="366.5" cy="219.3" r="0.95"/><circle cx="356.4" cy="219.4" r="0.95"/><circle cx="358.4" cy="219.7" r="0.95"/><circle cx="362.3" cy="224.7" r="0.95"/><circle cx="350.6" cy="224.7" r="0.95"/><circle cx="358.2" cy="223.2" r="0.95"/><circle cx="361.2" cy="222.5" r="0.95"/><circle cx="361.9" cy="226.0" r="0.95"/><circle cx="356.9" cy="219.6" r="0.95"/><circle cx="351.2" cy="221.2" r="0.95"/><circle cx="361.9" cy="221.4" r="0.95"/><circle cx="358.8" cy="230.1" r="0.95"/><circle cx="362.9" cy="226.8" r="0.95"/><circle cx="358.7" cy="231.9" r="0.95"/><circle cx="352.3" cy="227.0" r="0.95"/><circle cx="358.4" cy="231.6" r="0.95"/><circle cx="364.6" cy="227.2" r="0.95"/><circle cx="364.7" cy="231.4" r="0.95"/><circle cx="350.5" cy="233.8" r="0.95"/><circle cx="369.5" cy="233.1" r="0.95"/></g>
<line x1="350.50" y1="204.30" x2="374.50" y2="204.30" stroke="#9a6a6a" stroke-width="1.4"/>
<circle cx="362.50" cy="204.30" r="2.0" fill="#0c0c9a"/>
<text x="384.80" y="206.40" font-size="8.8" text-anchor="start" fill="#1a1a1a" textLength="21.9" lengthAdjust="spacingAndGlyphs" style="stroke-width:0.12px">19.00</text>
<g fill="#c6c6c6" fill-opacity="1.0"><circle cx="436.0" cy="210.2" r="0.8"/><circle cx="423.8" cy="189.6" r="0.8"/><circle cx="437.7" cy="214.0" r="0.8"/><circle cx="451.1" cy="189.0" r="0.8"/><circle cx="448.9" cy="210.5" r="0.8"/><circle cx="429.3" cy="202.5" r="0.8"/><circle cx="441.6" cy="192.1" r="0.8"/><circle cx="453.7" cy="191.2" r="0.8"/><circle cx="434.0" cy="200.8" r="0.8"/><circle cx="427.2" cy="202.7" r="0.8"/><circle cx="425.5" cy="214.7" r="0.8"/><circle cx="427.1" cy="209.1" r="0.8"/><circle cx="433.0" cy="197.2" r="0.8"/><circle cx="425.7" cy="214.7" r="0.8"/><circle cx="443.9" cy="198.2" r="0.8"/><circle cx="445.6" cy="196.8" r="0.8"/><circle cx="444.1" cy="201.7" r="0.8"/><circle cx="446.6" cy="215.6" r="0.8"/><circle cx="430.0" cy="196.2" r="0.8"/><circle cx="429.3" cy="202.4" r="0.8"/><circle cx="431.5" cy="205.3" r="0.8"/><circle cx="449.5" cy="198.5" r="0.8"/><circle cx="437.3" cy="209.9" r="0.8"/><circle cx="448.6" cy="198.6" r="0.8"/><circle cx="437.1" cy="192.4" r="0.8"/><circle cx="445.0" cy="189.1" r="0.8"/><circle cx="444.2" cy="191.5" r="0.8"/><circle cx="440.6" cy="197.1" r="0.8"/><circle cx="449.8" cy="215.3" r="0.8"/><circle cx="438.2" cy="200.2" r="0.8"/><circle cx="425.1" cy="194.8" r="0.8"/><circle cx="445.8" cy="190.4" r="0.8"/><circle cx="435.0" cy="204.2" r="0.8"/><circle cx="451.9" cy="205.9" r="0.8"/><circle cx="449.5" cy="205.6" r="0.8"/><circle cx="433.9" cy="209.8" r="0.8"/><circle cx="430.0" cy="205.3" r="0.8"/><circle cx="428.4" cy="193.6" r="0.8"/><circle cx="453.9" cy="215.1" r="0.8"/><circle cx="425.0" cy="217.9" r="0.8"/><circle cx="452.6" cy="215.8" r="0.8"/><circle cx="444.7" cy="209.1" r="0.8"/><circle cx="429.5" cy="210.7" r="0.8"/><circle cx="445.0" cy="217.5" r="0.8"/><circle cx="450.5" cy="201.3" r="0.8"/><circle cx="430.7" cy="211.9" r="0.8"/><circle cx="443.9" cy="199.5" r="0.8"/><circle cx="433.3" cy="208.2" r="0.8"/><circle cx="437.9" cy="191.2" r="0.8"/><circle cx="440.2" cy="193.3" r="0.8"/><circle cx="443.4" cy="201.4" r="0.8"/><circle cx="438.7" cy="198.0" r="0.8"/><circle cx="438.7" cy="196.6" r="0.8"/><circle cx="429.0" cy="208.5" r="0.8"/><circle cx="450.7" cy="206.4" r="0.8"/><circle cx="449.8" cy="190.4" r="0.8"/><circle cx="441.5" cy="215.0" r="0.8"/><circle cx="447.1" cy="198.4" r="0.8"/><circle cx="432.4" cy="192.6" r="0.8"/><circle cx="438.5" cy="216.3" r="0.8"/><circle cx="425.4" cy="211.3" r="0.8"/><circle cx="442.4" cy="194.0" r="0.8"/><circle cx="426.4" cy="217.3" r="0.8"/><circle cx="442.8" cy="205.9" r="0.8"/><circle cx="437.2" cy="193.8" r="0.8"/><circle cx="452.2" cy="189.5" r="0.8"/><circle cx="447.8" cy="217.9" r="0.8"/><circle cx="428.0" cy="200.7" r="0.8"/><circle cx="453.3" cy="215.6" r="0.8"/><circle cx="439.5" cy="206.3" r="0.8"/><circle cx="436.1" cy="210.1" r="0.8"/><circle cx="431.8" cy="211.0" r="0.8"/><circle cx="426.5" cy="201.7" r="0.8"/><circle cx="437.3" cy="197.0" r="0.8"/><circle cx="443.4" cy="189.9" r="0.8"/><circle cx="434.0" cy="192.0" r="0.8"/><circle cx="435.4" cy="198.5" r="0.8"/><circle cx="448.6" cy="206.3" r="0.8"/><circle cx="437.3" cy="199.4" r="0.8"/><circle cx="426.8" cy="202.3" r="0.8"/><circle cx="426.3" cy="211.4" r="0.8"/><circle cx="442.9" cy="189.4" r="0.8"/><circle cx="454.7" cy="210.3" r="0.8"/><circle cx="427.9" cy="202.7" r="0.8"/><circle cx="437.2" cy="206.8" r="0.8"/><circle cx="447.4" cy="197.1" r="0.8"/><circle cx="440.9" cy="199.7" r="0.8"/><circle cx="441.6" cy="198.1" r="0.8"/><circle cx="452.4" cy="190.1" r="0.8"/><circle cx="454.1" cy="192.7" r="0.8"/><circle cx="426.6" cy="204.7" r="0.8"/><circle cx="447.8" cy="209.3" r="0.8"/><circle cx="442.4" cy="216.4" r="0.8"/><circle cx="429.7" cy="206.2" r="0.8"/><circle cx="425.5" cy="205.5" r="0.8"/><circle cx="430.5" cy="192.6" r="0.8"/><circle cx="433.3" cy="206.8" r="0.8"/><circle cx="448.5" cy="201.5" r="0.8"/><circle cx="424.9" cy="211.6" r="0.8"/><circle cx="442.5" cy="212.1" r="0.8"/><circle cx="431.1" cy="199.7" r="0.8"/><circle cx="438.8" cy="210.1" r="0.8"/><circle cx="440.9" cy="199.3" r="0.8"/><circle cx="424.5" cy="209.9" r="0.8"/><circle cx="433.0" cy="192.1" r="0.8"/><circle cx="424.9" cy="207.8" r="0.8"/><circle cx="429.4" cy="197.5" r="0.8"/><circle cx="448.8" cy="216.3" r="0.8"/><circle cx="450.4" cy="197.5" r="0.8"/><circle cx="430.1" cy="191.0" r="0.8"/><circle cx="432.5" cy="194.8" r="0.8"/><circle cx="425.7" cy="204.6" r="0.8"/><circle cx="439.2" cy="191.6" r="0.8"/><circle cx="449.6" cy="201.9" r="0.8"/><circle cx="424.9" cy="205.3" r="0.8"/><circle cx="435.1" cy="188.7" r="0.8"/><circle cx="444.7" cy="206.1" r="0.8"/><circle cx="434.8" cy="195.4" r="0.8"/><circle cx="426.3" cy="193.9" r="0.8"/><circle cx="444.4" cy="205.2" r="0.8"/><circle cx="445.6" cy="206.3" r="0.8"/><circle cx="427.8" cy="205.7" r="0.8"/><circle cx="424.9" cy="215.4" r="0.8"/><circle cx="437.1" cy="193.7" r="0.8"/><circle cx="429.7" cy="203.2" r="0.8"/><circle cx="451.5" cy="220.8" r="0.8"/><circle cx="449.5" cy="223.3" r="0.8"/><circle cx="441.3" cy="224.9" r="0.8"/><circle cx="441.6" cy="226.8" r="0.8"/><circle cx="435.4" cy="230.5" r="0.8"/><circle cx="428.6" cy="241.4" r="0.8"/><circle cx="445.5" cy="239.3" r="0.8"/><circle cx="430.9" cy="236.5" r="0.8"/><circle cx="426.2" cy="248.4" r="0.8"/><circle cx="443.3" cy="257.1" r="0.8"/><circle cx="436.6" cy="250.8" r="0.8"/><circle cx="425.2" cy="269.7" r="0.8"/><circle cx="439.6" cy="263.1" r="0.8"/><circle cx="436.2" cy="257.6" r="0.8"/><circle cx="426.2" cy="247.2" r="0.8"/><circle cx="444.0" cy="267.8" r="0.8"/><circle cx="445.7" cy="257.6" r="0.8"/><circle cx="444.2" cy="252.9" r="0.8"/><circle cx="452.8" cy="267.3" r="0.8"/><circle cx="452.9" cy="259.0" r="0.8"/><circle cx="430.6" cy="261.4" r="0.8"/><circle cx="435.2" cy="249.2" r="0.8"/><circle cx="439.7" cy="268.5" r="0.8"/><circle cx="445.0" cy="258.5" r="0.8"/><circle cx="447.8" cy="269.0" r="0.8"/><circle cx="449.2" cy="249.3" r="0.8"/><circle cx="425.2" cy="259.0" r="0.8"/><circle cx="428.4" cy="257.7" r="0.8"/><circle cx="427.5" cy="249.4" r="0.8"/><circle cx="430.1" cy="254.5" r="0.8"/></g>
<polygon points="451.00,204.30 450.36,204.88 449.84,205.45 449.27,206.03 448.69,206.60 448.11,207.18 447.53,207.75 446.96,208.33 446.39,208.91 445.84,209.48 445.34,210.06 444.89,210.63 444.46,211.21 444.04,211.78 443.62,212.36 443.20,212.93 442.82,213.51 442.47,214.09 442.17,214.66 441.91,215.24 441.66,215.81 441.41,216.39 441.17,216.96 441.01,217.54 440.99,218.12 441.15,218.69 441.42,219.27 441.72,219.84 441.99,220.42 442.17,220.99 442.19,221.57 442.03,222.14 441.74,222.72 441.41,223.30 441.08,223.87 440.79,224.45 440.57,225.02 440.43,225.60 440.35,226.17 440.28,226.75 440.21,227.33 440.14,227.90 440.08,228.48 440.01,229.05 439.94,229.63 439.87,230.20 439.81,230.78 439.76,231.35 439.72,231.93 439.70,232.51 439.69,233.08 439.69,233.66 439.68,234.23 439.68,234.81 439.67,235.38 439.67,235.96 439.66,236.54 439.66,237.11 439.66,237.69 439.65,238.26 439.65,238.84 439.64,239.41 439.64,239.99 439.64,240.56 439.63,241.14 439.63,241.72 439.62,242.29 439.62,242.87 439.61,243.44 439.61,244.02 439.61,244.59 439.61,245.17 439.62,245.75 439.63,246.32 439.64,246.90 439.66,247.47 439.68,248.05 439.69,248.62 439.71,249.20 439.73,249.77 439.74,250.35 439.76,250.93 439.79,251.50 439.85,252.08 439.95,252.65 440.09,253.23 440.25,253.80 440.42,254.38 440.59,254.96 440.76,255.53 440.94,256.11 441.15,256.68 441.36,257.26 441.59,257.83 441.78,258.41 441.88,258.98 441.83,259.56 441.67,260.14 441.45,260.71 441.23,261.29 441.02,261.86 440.83,262.44 440.66,263.01 440.49,263.59 440.32,264.17 440.15,264.74 440.00,265.32 439.88,265.89 439.81,266.47 439.77,267.04 439.75,267.62 439.73,268.19 439.72,268.77 439.70,269.35 439.68,269.92 439.67,270.50 439.65,271.07 439.63,271.65 439.62,272.22 439.60,272.80 439.40,272.80 439.38,272.22 439.37,271.65 439.35,271.07 439.33,270.50 439.32,269.92 439.30,269.35 439.28,268.77 439.27,268.19 439.25,267.62 439.23,267.04 439.19,266.47 439.12,265.89 439.00,265.32 438.85,264.74 438.68,264.17 438.51,263.59 438.34,263.01 438.17,262.44 437.98,261.86 437.77,261.29 437.55,260.71 437.33,260.14 437.17,259.56 437.12,258.98 437.22,258.41 437.41,257.83 437.64,257.26 437.85,256.68 438.06,256.11 438.24,255.53 438.41,254.96 438.58,254.38 438.75,253.80 438.91,253.23 439.05,252.65 439.15,252.08 439.21,251.50 439.24,250.93 439.26,250.35 439.27,249.77 439.29,249.20 439.31,248.62 439.32,248.05 439.34,247.47 439.36,246.90 439.37,246.32 439.38,245.75 439.39,245.17 439.39,244.59 439.39,244.02 439.39,243.44 439.38,242.87 439.38,242.29 439.37,241.72 439.37,241.14 439.36,240.56 439.36,239.99 439.36,239.41 439.35,238.84 439.35,238.26 439.34,237.69 439.34,237.11 439.34,236.54 439.33,235.96 439.33,235.38 439.32,234.81 439.32,234.23 439.31,233.66 439.31,233.08 439.30,232.51 439.28,231.93 439.24,231.35 439.19,230.78 439.13,230.20 439.06,229.63 438.99,229.05 438.92,228.48 438.86,227.90 438.79,227.33 438.72,226.75 438.65,226.17 438.57,225.60 438.43,225.02 438.21,224.45 437.92,223.87 437.59,223.30 437.26,222.72 436.97,222.14 436.81,221.57 436.83,220.99 437.01,220.42 437.28,219.84 437.58,219.27 437.85,218.69 438.01,218.12 437.99,217.54 437.83,216.96 437.59,216.39 437.34,215.81 437.09,215.24 436.83,214.66 436.53,214.09 436.18,213.51 435.80,212.93 435.38,212.36 434.96,211.78 434.54,211.21 434.11,210.63 433.66,210.06 433.16,209.48 432.61,208.91 432.04,208.33 431.47,207.75 430.89,207.18 430.31,206.60 429.73,206.03 429.16,205.45 428.64,204.88 428.00,204.30" fill="none" stroke="#8a8a8a" stroke-width="0.6" stroke-linejoin="round"/>
<rect x="427.10" y="204.30" width="23.80" height="13.70" fill="none" stroke="#a0a0a0" stroke-width="0.7"/>
<line x1="427.10" y1="204.30" x2="450.90" y2="204.30" stroke="#aaaaaa" stroke-width="1.8"/>
<line x1="431.50" y1="259.10" x2="446.50" y2="259.10" stroke="#c0c0c0" stroke-width="1.0"/>
<circle cx="439.00" cy="204.30" r="2.0" fill="#0c0c9a"/>
<line x1="451.00" y1="204.30" x2="461.00" y2="204.30" stroke="#777" stroke-width="0.7" stroke-dasharray="1.2,1.2"/>
<text x="462.20" y="206.40" font-size="8.8" text-anchor="start" fill="#1a1a1a" textLength="21.5" lengthAdjust="spacingAndGlyphs" style="stroke-width:0.12px">19.00</text>
<text x="487.30" y="154.70" font-size="21.8" text-anchor="start" fill="#1a1a1a" style="stroke:#111;stroke-width:0.45px">E</text>
<line x1="517.60" y1="161.00" x2="517.60" y2="281.30" stroke="#bdbdbd" stroke-width="1.3"/>
<line x1="517.00" y1="281.30" x2="683.00" y2="281.30" stroke="#8a8a8a" stroke-width="1.2"/>
<line x1="516.00" y1="194.40" x2="517.60" y2="194.40" stroke="#888" stroke-width="0.7"/>
<text x="514.20" y="197.13" font-size="7.8" text-anchor="end" fill="#1a1a1a">8</text>
<line x1="516.00" y1="235.00" x2="517.60" y2="235.00" stroke="#888" stroke-width="0.7"/>
<text x="514.20" y="237.73" font-size="7.8" text-anchor="end" fill="#1a1a1a">6</text>
<line x1="516.00" y1="275.60" x2="517.60" y2="275.60" stroke="#888" stroke-width="0.7"/>
<text x="514.20" y="278.33" font-size="7.8" text-anchor="end" fill="#1a1a1a">4</text>
<line x1="562.50" y1="281.30" x2="562.50" y2="282.90" stroke="#444" stroke-width="0.8"/>
<line x1="637.50" y1="281.30" x2="637.50" y2="282.90" stroke="#444" stroke-width="0.8"/>
<path d="M562.50,174.20 L562.50,171.20 L637.50,171.20 L637.50,174.20" fill="none" stroke="#9a9a9a" stroke-width="0.9"/>
<text x="576.40" y="168.00" font-size="8.4" text-anchor="start" fill="#1a1a1a" textLength="48.8" lengthAdjust="spacingAndGlyphs" style="stroke-width:0.1px">p = 1.37e-12</text>
<text transform="translate(494.00,217.00) rotate(-90)" x="0" y="0" font-size="8.9" text-anchor="middle" fill="#1a1a1a" textLength="110.0" lengthAdjust="spacingAndGlyphs" style="stroke-width:0.3px">Total number of exoenzyme</text>
<text transform="translate(503.20,214.50) rotate(-90)" x="0" y="0" font-size="8.9" text-anchor="middle" fill="#1a1a1a" textLength="75.6" lengthAdjust="spacingAndGlyphs" style="stroke-width:0.3px">genes per genome</text>
<polygon points="562.60,194.40 562.68,194.91 562.75,195.42 562.83,195.94 562.90,196.45 562.98,196.96 563.05,197.47 563.13,197.98 563.21,198.49 563.28,199.01 563.36,199.52 563.46,200.03 563.60,200.54 563.79,201.05 564.03,201.56 564.28,202.08 564.53,202.59 564.79,203.10 565.04,203.61 565.29,204.12 565.54,204.64 565.79,205.15 566.05,205.66 566.34,206.17 566.70,206.68 567.13,207.19 567.61,207.71 568.11,208.22 568.62,208.73 569.12,209.24 569.63,209.75 570.13,210.26 570.63,210.78 571.14,211.29 571.69,211.80 572.47,212.31 573.63,212.82 575.24,213.34 577.02,213.85 578.43,214.36 578.99,214.87 578.58,215.38 577.57,215.89 576.39,216.41 575.30,216.92 574.32,217.43 573.41,217.94 572.53,218.45 571.65,218.96 570.76,219.48 569.91,219.99 569.16,220.50 568.58,221.01 568.18,221.52 567.89,222.04 567.63,222.55 567.38,223.06 567.13,223.57 566.88,224.08 566.63,224.59 566.37,225.11 566.12,225.62 565.90,226.13 565.75,226.64 565.73,227.15 565.83,227.66 566.01,228.18 566.21,228.69 566.41,229.20 566.62,229.71 566.82,230.22 567.02,230.74 567.25,231.25 567.57,231.76 568.03,232.27 568.61,232.78 569.26,233.29 569.93,233.81 570.50,234.32 570.83,234.83 570.75,235.34 570.33,235.85 569.71,236.36 569.04,236.88 568.39,237.39 567.82,237.90 567.36,238.41 566.99,238.92 566.68,239.44 566.38,239.95 566.07,240.46 565.77,240.97 565.47,241.48 565.17,241.99 564.88,242.51 564.62,243.02 564.41,243.53 564.23,244.04 564.08,244.55 563.93,245.06 563.77,245.58 563.62,246.09 563.47,246.60 563.32,247.11 563.17,247.62 563.02,248.14 562.88,248.65 562.77,249.16 562.71,249.67 562.69,250.18 562.68,250.69 562.67,251.21 562.66,251.72 562.65,252.23 562.64,252.74 562.63,253.25 562.63,253.76 562.62,254.28 562.61,254.79 562.60,255.30 562.40,255.30 562.39,254.79 562.38,254.28 562.37,253.76 562.37,253.25 562.36,252.74 562.35,252.23 562.34,251.72 562.33,251.21 562.32,250.69 562.31,250.18 562.29,249.67 562.23,249.16 562.12,248.65 561.98,248.14 561.83,247.62 561.68,247.11 561.53,246.60 561.38,246.09 561.23,245.58 561.07,245.06 560.92,244.55 560.77,244.04 560.59,243.53 560.38,243.02 560.12,242.51 559.83,241.99 559.53,241.48 559.23,240.97 558.93,240.46 558.62,239.95 558.32,239.44 558.01,238.92 557.64,238.41 557.18,237.90 556.61,237.39 555.96,236.88 555.29,236.36 554.67,235.85 554.25,235.34 554.17,234.83 554.50,234.32 555.07,233.81 555.74,233.29 556.39,232.78 556.97,232.27 557.43,231.76 557.75,231.25 557.98,230.74 558.18,230.22 558.38,229.71 558.59,229.20 558.79,228.69 558.99,228.18 559.17,227.66 559.27,227.15 559.25,226.64 559.10,226.13 558.88,225.62 558.63,225.11 558.37,224.59 558.12,224.08 557.87,223.57 557.62,223.06 557.37,222.55 557.11,222.04 556.82,221.52 556.42,221.01 555.84,220.50 555.09,219.99 554.24,219.48 553.35,218.96 552.47,218.45 551.59,217.94 550.68,217.43 549.70,216.92 548.61,216.41 547.43,215.89 546.42,215.38 546.01,214.87 546.57,214.36 547.98,213.85 549.76,213.34 551.37,212.82 552.53,212.31 553.31,211.80 553.86,211.29 554.37,210.78 554.87,210.26 555.37,209.75 555.88,209.24 556.38,208.73 556.89,208.22 557.39,207.71 557.87,207.19 558.30,206.68 558.66,206.17 558.95,205.66 559.21,205.15 559.46,204.64 559.71,204.12 559.96,203.61 560.21,203.10 560.47,202.59 560.72,202.08 560.97,201.56 561.21,201.05 561.40,200.54 561.54,200.03 561.64,199.52 561.72,199.01 561.79,198.49 561.87,197.98 561.95,197.47 562.02,196.96 562.10,196.45 562.17,195.94 562.25,195.42 562.32,194.91 562.40,194.40" fill="none" stroke="#8a8a8a" stroke-width="0.6" stroke-linejoin="round"/>
<line x1="562.50" y1="194.40" x2="562.50" y2="255.30" stroke="#888" stroke-width="0.6"/>
<g fill="#dc1a1a" fill-opacity="1.0"><circle cx="577.2" cy="186.3" r="0.95"/><circle cx="558.0" cy="193.4" r="0.95"/><circle cx="567.1" cy="223.3" r="0.95"/><circle cx="553.9" cy="201.6" r="0.95"/><circle cx="548.7" cy="225.7" r="0.95"/><circle cx="557.3" cy="213.7" r="0.95"/><circle cx="558.6" cy="230.9" r="0.95"/><circle cx="564.6" cy="208.5" r="0.95"/><circle cx="568.6" cy="217.1" r="0.95"/><circle cx="556.7" cy="234.6" r="0.95"/><circle cx="563.5" cy="212.0" r="0.95"/><circle cx="560.7" cy="200.0" r="0.95"/><circle cx="553.6" cy="205.3" r="0.95"/><circle cx="569.1" cy="202.1" r="0.95"/><circle cx="575.2" cy="226.4" r="0.95"/><circle cx="575.2" cy="220.3" r="0.95"/><circle cx="567.9" cy="200.2" r="0.95"/><circle cx="565.4" cy="213.7" r="0.95"/><circle cx="549.6" cy="213.2" r="0.95"/><circle cx="554.7" cy="220.8" r="0.95"/><circle cx="558.8" cy="199.4" r="0.95"/><circle cx="566.6" cy="208.5" r="0.95"/><circle cx="552.7" cy="223.9" r="0.95"/><circle cx="573.8" cy="230.6" r="0.95"/><circle cx="576.1" cy="219.4" r="0.95"/><circle cx="559.2" cy="216.2" r="0.95"/><circle cx="560.8" cy="217.8" r="0.95"/><circle cx="560.2" cy="209.4" r="0.95"/><circle cx="555.8" cy="228.9" r="0.95"/><circle cx="560.5" cy="231.8" r="0.95"/><circle cx="560.9" cy="216.9" r="0.95"/><circle cx="571.0" cy="231.0" r="0.95"/><circle cx="559.4" cy="206.5" r="0.95"/><circle cx="557.6" cy="204.4" r="0.95"/><circle cx="569.1" cy="233.5" r="0.95"/><circle cx="559.1" cy="207.0" r="0.95"/><circle cx="563.3" cy="210.4" r="0.95"/><circle cx="577.2" cy="210.3" r="0.95"/><circle cx="563.9" cy="204.1" r="0.95"/><circle cx="560.4" cy="234.6" r="0.95"/><circle cx="555.7" cy="213.3" r="0.95"/><circle cx="575.9" cy="212.8" r="0.95"/><circle cx="556.0" cy="198.7" r="0.95"/><circle cx="559.5" cy="226.7" r="0.95"/><circle cx="564.1" cy="222.4" r="0.95"/><circle cx="550.8" cy="209.0" r="0.95"/><circle cx="568.2" cy="199.5" r="0.95"/><circle cx="551.6" cy="201.7" r="0.95"/><circle cx="571.4" cy="225.8" r="0.95"/><circle cx="561.9" cy="212.0" r="0.95"/><circle cx="556.9" cy="231.1" r="0.95"/><circle cx="572.6" cy="229.0" r="0.95"/><circle cx="562.2" cy="219.0" r="0.95"/><circle cx="574.6" cy="214.6" r="0.95"/><circle cx="560.2" cy="199.3" r="0.95"/><circle cx="558.1" cy="208.5" r="0.95"/><circle cx="554.5" cy="207.3" r="0.95"/><circle cx="570.0" cy="204.7" r="0.95"/><circle cx="562.0" cy="226.9" r="0.95"/><circle cx="566.5" cy="201.7" r="0.95"/><circle cx="556.8" cy="234.3" r="0.95"/><circle cx="553.0" cy="200.9" r="0.95"/><circle cx="547.7" cy="233.0" r="0.95"/><circle cx="550.4" cy="202.4" r="0.95"/><circle cx="559.0" cy="209.7" r="0.95"/><circle cx="568.7" cy="219.1" r="0.95"/><circle cx="569.5" cy="218.1" r="0.95"/><circle cx="563.8" cy="223.8" r="0.95"/><circle cx="547.6" cy="213.3" r="0.95"/><circle cx="555.5" cy="224.9" r="0.95"/><circle cx="573.9" cy="221.8" r="0.95"/><circle cx="550.6" cy="212.0" r="0.95"/><circle cx="563.7" cy="232.9" r="0.95"/><circle cx="558.0" cy="212.7" r="0.95"/><circle cx="555.9" cy="199.0" r="0.95"/><circle cx="571.5" cy="216.6" r="0.95"/><circle cx="575.0" cy="233.7" r="0.95"/><circle cx="554.2" cy="201.6" r="0.95"/><circle cx="562.8" cy="228.8" r="0.95"/><circle cx="564.6" cy="208.3" r="0.95"/><circle cx="565.6" cy="233.3" r="0.95"/><circle cx="548.6" cy="220.1" r="0.95"/><circle cx="548.0" cy="231.9" r="0.95"/><circle cx="566.8" cy="219.0" r="0.95"/><circle cx="550.1" cy="203.0" r="0.95"/><circle cx="558.6" cy="202.7" r="0.95"/><circle cx="565.8" cy="212.3" r="0.95"/><circle cx="560.2" cy="210.4" r="0.95"/><circle cx="554.8" cy="225.6" r="0.95"/><circle cx="573.7" cy="227.6" r="0.95"/><circle cx="559.1" cy="207.8" r="0.95"/><circle cx="557.4" cy="221.6" r="0.95"/><circle cx="574.8" cy="227.5" r="0.95"/><circle cx="554.7" cy="202.6" r="0.95"/><circle cx="555.8" cy="222.9" r="0.95"/><circle cx="574.0" cy="223.3" r="0.95"/><circle cx="577.4" cy="205.0" r="0.95"/><circle cx="572.9" cy="226.8" r="0.95"/><circle cx="554.0" cy="207.5" r="0.95"/><circle cx="572.3" cy="226.8" r="0.95"/><circle cx="553.7" cy="226.1" r="0.95"/><circle cx="551.6" cy="219.6" r="0.95"/><circle cx="562.6" cy="212.0" r="0.95"/><circle cx="549.2" cy="228.0" r="0.95"/><circle cx="551.0" cy="225.1" r="0.95"/><circle cx="553.1" cy="200.8" r="0.95"/><circle cx="558.7" cy="229.9" r="0.95"/><circle cx="567.5" cy="199.5" r="0.95"/><circle cx="571.3" cy="211.3" r="0.95"/><circle cx="558.8" cy="220.3" r="0.95"/><circle cx="556.6" cy="205.5" r="0.95"/><circle cx="571.6" cy="217.1" r="0.95"/><circle cx="573.4" cy="211.2" r="0.95"/><circle cx="568.1" cy="225.2" r="0.95"/><circle cx="554.7" cy="226.7" r="0.95"/><circle cx="574.9" cy="205.8" r="0.95"/><circle cx="574.5" cy="204.9" r="0.95"/><circle cx="571.6" cy="219.1" r="0.95"/><circle cx="570.5" cy="228.9" r="0.95"/><circle cx="567.2" cy="233.4" r="0.95"/><circle cx="576.5" cy="202.9" r="0.95"/><circle cx="552.4" cy="206.9" r="0.95"/><circle cx="572.2" cy="233.5" r="0.95"/><circle cx="564.5" cy="219.6" r="0.95"/><circle cx="566.1" cy="202.6" r="0.95"/><circle cx="569.2" cy="227.3" r="0.95"/><circle cx="564.1" cy="214.5" r="0.95"/><circle cx="547.8" cy="230.2" r="0.95"/><circle cx="558.3" cy="228.5" r="0.95"/><circle cx="554.6" cy="210.3" r="0.95"/><circle cx="576.3" cy="218.3" r="0.95"/><circle cx="566.9" cy="207.2" r="0.95"/><circle cx="567.7" cy="211.0" r="0.95"/><circle cx="547.5" cy="203.2" r="0.95"/><circle cx="552.3" cy="228.4" r="0.95"/><circle cx="562.8" cy="213.6" r="0.95"/><circle cx="570.2" cy="224.3" r="0.95"/><circle cx="575.9" cy="212.0" r="0.95"/><circle cx="572.8" cy="217.6" r="0.95"/><circle cx="549.6" cy="234.6" r="0.95"/><circle cx="566.7" cy="219.4" r="0.95"/><circle cx="560.7" cy="223.1" r="0.95"/><circle cx="552.8" cy="217.7" r="0.95"/><circle cx="555.1" cy="202.4" r="0.95"/><circle cx="552.9" cy="199.6" r="0.95"/><circle cx="573.3" cy="221.0" r="0.95"/><circle cx="570.7" cy="213.8" r="0.95"/><circle cx="561.5" cy="205.3" r="0.95"/><circle cx="572.4" cy="227.6" r="0.95"/><circle cx="574.7" cy="233.8" r="0.95"/><circle cx="547.7" cy="217.3" r="0.95"/><circle cx="556.5" cy="219.6" r="0.95"/><circle cx="561.9" cy="217.9" r="0.95"/><circle cx="574.7" cy="201.4" r="0.95"/><circle cx="557.9" cy="224.5" r="0.95"/><circle cx="567.1" cy="227.7" r="0.95"/><circle cx="559.5" cy="208.8" r="0.95"/><circle cx="547.7" cy="206.8" r="0.95"/><circle cx="569.5" cy="220.8" r="0.95"/><circle cx="554.9" cy="215.3" r="0.95"/><circle cx="556.4" cy="205.0" r="0.95"/><circle cx="565.2" cy="223.8" r="0.95"/><circle cx="571.7" cy="212.8" r="0.95"/><circle cx="551.5" cy="219.9" r="0.95"/><circle cx="562.2" cy="200.5" r="0.95"/><circle cx="557.1" cy="218.6" r="0.95"/><circle cx="576.8" cy="219.4" r="0.95"/><circle cx="572.3" cy="231.5" r="0.95"/><circle cx="559.3" cy="228.3" r="0.95"/><circle cx="574.0" cy="214.8" r="0.95"/><circle cx="555.2" cy="251.6" r="0.95"/><circle cx="560.4" cy="251.5" r="0.95"/><circle cx="562.1" cy="240.0" r="0.95"/><circle cx="557.6" cy="250.2" r="0.95"/><circle cx="558.9" cy="250.2" r="0.95"/><circle cx="571.4" cy="251.5" r="0.95"/><circle cx="568.8" cy="247.2" r="0.95"/><circle cx="568.4" cy="239.2" r="0.95"/><circle cx="553.0" cy="239.4" r="0.95"/><circle cx="574.1" cy="242.9" r="0.95"/><circle cx="566.3" cy="247.4" r="0.95"/><circle cx="554.0" cy="239.7" r="0.95"/><circle cx="570.8" cy="249.5" r="0.95"/><circle cx="552.4" cy="246.8" r="0.95"/><circle cx="565.8" cy="246.6" r="0.95"/><circle cx="574.6" cy="238.8" r="0.95"/><circle cx="573.3" cy="242.3" r="0.95"/><circle cx="569.1" cy="235.9" r="0.95"/><circle cx="550.4" cy="242.8" r="0.95"/><circle cx="554.4" cy="238.7" r="0.95"/><circle cx="555.5" cy="239.7" r="0.95"/><circle cx="558.1" cy="241.4" r="0.95"/><circle cx="567.2" cy="236.7" r="0.95"/><circle cx="572.2" cy="245.3" r="0.95"/><circle cx="567.4" cy="249.9" r="0.95"/><circle cx="552.0" cy="240.2" r="0.95"/><circle cx="573.1" cy="239.6" r="0.95"/><circle cx="562.9" cy="241.8" r="0.95"/><circle cx="568.5" cy="242.9" r="0.95"/><circle cx="558.9" cy="237.7" r="0.95"/><circle cx="560.9" cy="253.6" r="0.95"/><circle cx="566.1" cy="253.9" r="0.95"/><circle cx="566.5" cy="253.3" r="0.95"/><circle cx="568.4" cy="254.8" r="0.95"/><circle cx="561.0" cy="254.1" r="0.95"/><circle cx="552.5" cy="270.5" r="0.95"/></g>
<line x1="551.50" y1="214.70" x2="573.50" y2="214.70" stroke="#8a3a3a" stroke-width="1.4"/>
<line x1="554.50" y1="235.00" x2="570.50" y2="235.00" stroke="#b05050" stroke-width="1.0"/>
<circle cx="562.50" cy="214.70" r="2.0" fill="#0c0c9a"/>
<text x="586.30" y="216.80" font-size="9.0" text-anchor="start" fill="#1a1a1a" textLength="17.3" lengthAdjust="spacingAndGlyphs" style="stroke-width:0.12px">7.00</text>
<g fill="#c6c6c6" fill-opacity="1.0"><circle cx="651.5" cy="215.2" r="0.8"/><circle cx="623.3" cy="245.2" r="0.8"/><circle cx="636.4" cy="207.2" r="0.8"/><circle cx="649.1" cy="228.1" r="0.8"/><circle cx="638.0" cy="221.1" r="0.8"/><circle cx="625.3" cy="247.1" r="0.8"/><circle cx="638.2" cy="221.6" r="0.8"/><circle cx="648.4" cy="238.0" r="0.8"/><circle cx="648.1" cy="233.4" r="0.8"/><circle cx="638.7" cy="211.3" r="0.8"/><circle cx="626.9" cy="199.1" r="0.8"/><circle cx="651.2" cy="198.0" r="0.8"/><circle cx="622.6" cy="214.5" r="0.8"/><circle cx="642.6" cy="202.5" r="0.8"/><circle cx="628.5" cy="240.9" r="0.8"/><circle cx="646.8" cy="233.9" r="0.8"/><circle cx="624.5" cy="242.5" r="0.8"/><circle cx="641.9" cy="220.0" r="0.8"/><circle cx="644.9" cy="206.2" r="0.8"/><circle cx="622.6" cy="199.8" r="0.8"/><circle cx="648.9" cy="199.8" r="0.8"/><circle cx="645.6" cy="227.7" r="0.8"/><circle cx="629.9" cy="200.9" r="0.8"/><circle cx="635.1" cy="222.4" r="0.8"/><circle cx="643.5" cy="212.2" r="0.8"/><circle cx="643.3" cy="215.5" r="0.8"/><circle cx="637.8" cy="208.3" r="0.8"/><circle cx="634.4" cy="233.9" r="0.8"/><circle cx="649.8" cy="204.2" r="0.8"/><circle cx="644.0" cy="238.6" r="0.8"/><circle cx="623.9" cy="200.4" r="0.8"/><circle cx="650.8" cy="233.4" r="0.8"/><circle cx="641.4" cy="246.2" r="0.8"/><circle cx="634.3" cy="211.5" r="0.8"/><circle cx="633.3" cy="206.2" r="0.8"/><circle cx="649.9" cy="240.2" r="0.8"/><circle cx="643.1" cy="228.1" r="0.8"/><circle cx="627.7" cy="229.5" r="0.8"/><circle cx="637.0" cy="201.7" r="0.8"/><circle cx="645.5" cy="246.9" r="0.8"/><circle cx="624.2" cy="196.7" r="0.8"/><circle cx="639.2" cy="216.2" r="0.8"/><circle cx="633.1" cy="205.0" r="0.8"/><circle cx="639.2" cy="217.1" r="0.8"/><circle cx="630.0" cy="207.8" r="0.8"/><circle cx="628.9" cy="240.2" r="0.8"/><circle cx="640.4" cy="204.9" r="0.8"/><circle cx="631.3" cy="231.8" r="0.8"/><circle cx="627.0" cy="216.6" r="0.8"/><circle cx="645.6" cy="240.8" r="0.8"/><circle cx="638.6" cy="219.8" r="0.8"/><circle cx="625.7" cy="220.3" r="0.8"/><circle cx="630.7" cy="237.1" r="0.8"/><circle cx="652.1" cy="242.6" r="0.8"/><circle cx="632.8" cy="215.8" r="0.8"/><circle cx="634.6" cy="246.3" r="0.8"/><circle cx="648.5" cy="235.0" r="0.8"/><circle cx="634.9" cy="201.1" r="0.8"/><circle cx="651.6" cy="200.8" r="0.8"/><circle cx="634.8" cy="209.4" r="0.8"/><circle cx="648.0" cy="237.2" r="0.8"/><circle cx="651.6" cy="242.0" r="0.8"/><circle cx="642.2" cy="235.0" r="0.8"/><circle cx="629.0" cy="240.2" r="0.8"/><circle cx="650.8" cy="240.7" r="0.8"/><circle cx="649.9" cy="238.8" r="0.8"/><circle cx="632.4" cy="236.4" r="0.8"/><circle cx="652.1" cy="242.5" r="0.8"/><circle cx="648.3" cy="231.9" r="0.8"/><circle cx="651.1" cy="209.1" r="0.8"/><circle cx="630.4" cy="221.3" r="0.8"/><circle cx="627.3" cy="226.5" r="0.8"/><circle cx="623.3" cy="212.6" r="0.8"/><circle cx="640.3" cy="233.4" r="0.8"/><circle cx="622.9" cy="199.5" r="0.8"/><circle cx="626.2" cy="230.5" r="0.8"/><circle cx="623.3" cy="227.7" r="0.8"/><circle cx="634.6" cy="220.1" r="0.8"/><circle cx="632.2" cy="234.5" r="0.8"/><circle cx="646.1" cy="233.0" r="0.8"/><circle cx="632.5" cy="222.3" r="0.8"/><circle cx="630.7" cy="210.3" r="0.8"/><circle cx="625.0" cy="230.8" r="0.8"/><circle cx="635.1" cy="234.1" r="0.8"/><circle cx="647.7" cy="229.2" r="0.8"/><circle cx="635.1" cy="223.4" r="0.8"/><circle cx="647.4" cy="236.1" r="0.8"/><circle cx="647.4" cy="199.1" r="0.8"/><circle cx="630.5" cy="238.6" r="0.8"/><circle cx="646.2" cy="231.3" r="0.8"/><circle cx="629.3" cy="243.2" r="0.8"/><circle cx="640.9" cy="199.6" r="0.8"/><circle cx="648.9" cy="217.3" r="0.8"/><circle cx="635.7" cy="197.6" r="0.8"/><circle cx="642.3" cy="198.7" r="0.8"/><circle cx="643.1" cy="211.8" r="0.8"/><circle cx="643.5" cy="240.8" r="0.8"/><circle cx="630.1" cy="243.8" r="0.8"/><circle cx="650.5" cy="196.7" r="0.8"/><circle cx="640.7" cy="239.3" r="0.8"/><circle cx="626.2" cy="224.5" r="0.8"/><circle cx="634.2" cy="237.3" r="0.8"/><circle cx="625.2" cy="214.3" r="0.8"/><circle cx="646.3" cy="244.0" r="0.8"/><circle cx="631.8" cy="231.9" r="0.8"/><circle cx="638.8" cy="216.5" r="0.8"/><circle cx="634.8" cy="203.2" r="0.8"/><circle cx="634.2" cy="231.8" r="0.8"/><circle cx="645.5" cy="204.5" r="0.8"/><circle cx="648.8" cy="238.6" r="0.8"/><circle cx="628.4" cy="223.7" r="0.8"/><circle cx="651.5" cy="215.7" r="0.8"/><circle cx="641.2" cy="230.6" r="0.8"/><circle cx="652.2" cy="237.9" r="0.8"/><circle cx="639.3" cy="212.9" r="0.8"/><circle cx="646.8" cy="205.9" r="0.8"/><circle cx="634.1" cy="233.4" r="0.8"/><circle cx="651.9" cy="219.1" r="0.8"/><circle cx="631.0" cy="240.2" r="0.8"/><circle cx="646.6" cy="204.1" r="0.8"/><circle cx="639.6" cy="231.0" r="0.8"/><circle cx="642.3" cy="183.8" r="0.8"/><circle cx="639.8" cy="199.1" r="0.8"/><circle cx="649.0" cy="201.5" r="0.8"/><circle cx="637.1" cy="247.3" r="0.8"/><circle cx="643.4" cy="195.6" r="0.8"/><circle cx="651.4" cy="249.3" r="0.8"/><circle cx="625.9" cy="211.0" r="0.8"/><circle cx="647.3" cy="255.3" r="0.8"/><circle cx="640.9" cy="240.3" r="0.8"/><circle cx="652.5" cy="232.8" r="0.8"/><circle cx="625.0" cy="199.4" r="0.8"/><circle cx="631.5" cy="228.2" r="0.8"/><circle cx="626.4" cy="235.2" r="0.8"/><circle cx="626.5" cy="241.0" r="0.8"/><circle cx="639.9" cy="237.7" r="0.8"/><circle cx="642.5" cy="190.0" r="0.8"/><circle cx="639.8" cy="259.1" r="0.8"/><circle cx="651.3" cy="245.7" r="0.8"/><circle cx="632.9" cy="219.7" r="0.8"/><circle cx="641.1" cy="234.3" r="0.8"/><circle cx="635.7" cy="211.8" r="0.8"/><circle cx="636.2" cy="239.0" r="0.8"/><circle cx="634.8" cy="230.9" r="0.8"/><circle cx="631.3" cy="213.8" r="0.8"/><circle cx="637.9" cy="228.8" r="0.8"/><circle cx="643.8" cy="197.1" r="0.8"/><circle cx="642.0" cy="234.4" r="0.8"/><circle cx="650.6" cy="253.1" r="0.8"/><circle cx="646.7" cy="228.0" r="0.8"/><circle cx="631.5" cy="264.4" r="0.8"/><circle cx="641.5" cy="183.2" r="0.8"/></g>
<polygon points="637.80,194.40 637.90,194.91 637.98,195.42 638.06,195.94 638.15,196.45 638.24,196.96 638.33,197.47 638.45,197.98 638.62,198.49 638.86,199.01 639.15,199.52 639.47,200.03 639.78,200.54 640.10,201.05 640.41,201.56 640.72,202.08 641.03,202.59 641.33,203.10 641.63,203.61 641.92,204.12 642.22,204.64 642.51,205.15 642.80,205.66 643.10,206.17 643.39,206.68 643.69,207.19 643.97,207.71 644.19,208.22 644.30,208.73 644.27,209.24 644.15,209.75 643.99,210.26 643.83,210.78 643.68,211.29 643.52,211.80 643.36,212.31 643.20,212.82 643.05,213.34 642.89,213.85 642.73,214.36 642.57,214.87 642.41,215.38 642.25,215.89 642.08,216.41 641.88,216.92 641.65,217.43 641.40,217.94 641.15,218.45 640.90,218.96 640.65,219.48 640.39,219.99 640.14,220.50 639.89,221.01 639.64,221.52 639.42,222.04 639.30,222.55 639.36,223.06 639.59,223.57 639.93,224.08 640.31,224.59 640.69,225.11 641.07,225.62 641.45,226.13 641.82,226.64 642.20,227.15 642.58,227.66 642.96,228.18 643.35,228.69 643.75,229.20 644.16,229.71 644.58,230.22 645.00,230.74 645.42,231.25 645.84,231.76 646.26,232.27 646.68,232.78 647.10,233.29 647.52,233.81 647.87,234.32 648.05,234.83 647.96,235.34 647.63,235.85 647.16,236.36 646.65,236.88 646.15,237.39 645.64,237.90 645.14,238.41 644.63,238.92 644.13,239.44 643.63,239.95 643.12,240.46 642.62,240.97 642.11,241.48 641.61,241.99 641.12,242.51 640.68,243.02 640.29,243.53 639.96,244.04 639.65,244.55 639.35,245.06 639.05,245.58 638.75,246.09 638.47,246.60 638.25,247.11 638.12,247.62 638.06,248.14 638.03,248.65 638.00,249.16 637.98,249.67 637.95,250.18 637.93,250.69 637.90,251.21 637.88,251.72 637.85,252.23 637.83,252.74 637.80,253.25 637.78,253.76 637.75,254.28 637.73,254.79 637.70,255.30 637.30,255.30 637.27,254.79 637.25,254.28 637.22,253.76 637.20,253.25 637.17,252.74 637.15,252.23 637.12,251.72 637.10,251.21 637.07,250.69 637.05,250.18 637.02,249.67 637.00,249.16 636.97,248.65 636.94,248.14 636.88,247.62 636.75,247.11 636.53,246.60 636.25,246.09 635.95,245.58 635.65,245.06 635.35,244.55 635.04,244.04 634.71,243.53 634.32,243.02 633.88,242.51 633.39,241.99 632.89,241.48 632.38,240.97 631.88,240.46 631.37,239.95 630.87,239.44 630.37,238.92 629.86,238.41 629.36,237.90 628.85,237.39 628.35,236.88 627.84,236.36 627.37,235.85 627.04,235.34 626.95,234.83 627.13,234.32 627.48,233.81 627.90,233.29 628.32,232.78 628.74,232.27 629.16,231.76 629.58,231.25 630.00,230.74 630.42,230.22 630.84,229.71 631.25,229.20 631.65,228.69 632.04,228.18 632.42,227.66 632.80,227.15 633.18,226.64 633.55,226.13 633.93,225.62 634.31,225.11 634.69,224.59 635.07,224.08 635.41,223.57 635.64,223.06 635.70,222.55 635.58,222.04 635.36,221.52 635.11,221.01 634.86,220.50 634.61,219.99 634.35,219.48 634.10,218.96 633.85,218.45 633.60,217.94 633.35,217.43 633.12,216.92 632.92,216.41 632.75,215.89 632.59,215.38 632.43,214.87 632.27,214.36 632.11,213.85 631.95,213.34 631.80,212.82 631.64,212.31 631.48,211.80 631.32,211.29 631.17,210.78 631.01,210.26 630.85,209.75 630.73,209.24 630.70,208.73 630.81,208.22 631.03,207.71 631.31,207.19 631.61,206.68 631.90,206.17 632.20,205.66 632.49,205.15 632.78,204.64 633.08,204.12 633.37,203.61 633.67,203.10 633.97,202.59 634.28,202.08 634.59,201.56 634.90,201.05 635.22,200.54 635.53,200.03 635.85,199.52 636.14,199.01 636.38,198.49 636.55,197.98 636.67,197.47 636.76,196.96 636.85,196.45 636.94,195.94 637.02,195.42 637.10,194.91 637.20,194.40" fill="none" stroke="#7a7a7a" stroke-width="0.6" stroke-linejoin="round"/>
<rect x="626.30" y="214.70" width="22.40" height="20.30" fill="none" stroke="#a0a0a0" stroke-width="0.7"/>
<line x1="626.30" y1="235.00" x2="648.70" y2="235.00" stroke="#666" stroke-width="1.1"/>
<line x1="637.50" y1="194.40" x2="637.50" y2="200.49" stroke="#777" stroke-width="0.8"/>
<line x1="632.50" y1="194.40" x2="642.50" y2="194.40" stroke="#aaa" stroke-width="0.8"/>
<line x1="637.50" y1="245.15" x2="637.50" y2="255.30" stroke="#777" stroke-width="0.8"/>
<circle cx="637.50" cy="235.00" r="2.0" fill="#0c0c9a"/>
<line x1="649.40" y1="235.00" x2="659.00" y2="235.00" stroke="#777" stroke-width="0.7" stroke-dasharray="1.2,1.2"/>
<text x="660.10" y="237.10" font-size="9.0" text-anchor="start" fill="#1a1a1a" textLength="17.4" lengthAdjust="spacingAndGlyphs" style="stroke-width:0.12px">6.00</text>
<text x="292.40" y="313.50" font-size="21.8" text-anchor="start" fill="#1a1a1a" style="stroke:#111;stroke-width:0.45px">F</text>
<line x1="317.20" y1="327.80" x2="317.20" y2="429.70" stroke="#bdbdbd" stroke-width="1.3"/>
<line x1="316.60" y1="429.70" x2="483.00" y2="429.70" stroke="#8a8a8a" stroke-width="1.2"/>
<line x1="315.60" y1="329.16" x2="317.20" y2="329.16" stroke="#888" stroke-width="0.7"/>
<text x="314.30" y="331.68" font-size="7.2" text-anchor="end" fill="#1a1a1a">17.5</text>
<line x1="315.60" y1="354.36" x2="317.20" y2="354.36" stroke="#888" stroke-width="0.7"/>
<text x="314.30" y="356.88" font-size="7.2" text-anchor="end" fill="#1a1a1a">15.0</text>
<line x1="315.60" y1="379.56" x2="317.20" y2="379.56" stroke="#888" stroke-width="0.7"/>
<text x="314.30" y="382.08" font-size="7.2" text-anchor="end" fill="#1a1a1a">12.5</text>
<line x1="315.60" y1="404.76" x2="317.20" y2="404.76" stroke="#888" stroke-width="0.7"/>
<text x="314.30" y="407.28" font-size="7.2" text-anchor="end" fill="#1a1a1a">10.0</text>
<line x1="362.50" y1="429.70" x2="362.50" y2="431.30" stroke="#444" stroke-width="0.8"/>
<line x1="434.50" y1="429.70" x2="434.50" y2="431.30" stroke="#444" stroke-width="0.8"/>
<path d="M362.50,343.60 L362.50,340.60 L438.30,340.60 L438.30,343.60" fill="none" stroke="#9a9a9a" stroke-width="0.9"/>
<text x="379.00" y="338.30" font-size="8.4" text-anchor="start" fill="#1a1a1a" textLength="46.2" lengthAdjust="spacingAndGlyphs" style="stroke-width:0.1px">p = 1.14e-10</text>
<text transform="translate(286.20,379.10) rotate(-90)" x="0" y="0" font-size="8.9" text-anchor="middle" fill="#1a1a1a" textLength="97.2" lengthAdjust="spacingAndGlyphs" style="stroke-width:0.3px">Total number of exotoxin</text>
<text transform="translate(295.80,376.50) rotate(-90)" x="0" y="0" font-size="8.9" text-anchor="middle" fill="#1a1a1a" textLength="75.8" lengthAdjust="spacingAndGlyphs" style="stroke-width:0.3px">genes per genome</text>
<polygon points="362.60,354.36 362.61,354.87 362.62,355.38 362.63,355.88 362.64,356.39 362.65,356.90 362.66,357.41 362.67,357.92 362.68,358.43 362.69,358.93 362.70,359.44 362.71,359.95 362.72,360.46 362.73,360.97 362.74,361.48 362.75,361.98 362.76,362.49 362.77,363.00 362.78,363.51 362.80,364.02 362.84,364.52 362.89,365.03 362.95,365.54 363.02,366.05 363.09,366.56 363.16,367.07 363.24,367.57 363.31,368.08 363.38,368.59 363.45,369.10 363.54,369.61 363.63,370.12 363.73,370.62 363.83,371.13 363.93,371.64 364.03,372.15 364.13,372.66 364.23,373.16 364.34,373.67 364.46,374.18 364.60,374.69 364.78,375.20 364.97,375.71 365.17,376.21 365.37,376.72 365.58,377.23 365.78,377.74 365.98,378.25 366.22,378.76 366.58,379.26 367.17,379.77 367.98,380.28 368.94,380.79 369.95,381.30 371.03,381.80 372.33,382.31 374.02,382.82 376.09,383.33 378.14,383.84 379.47,384.35 379.47,384.85 378.14,385.36 376.09,385.87 374.02,386.38 372.33,386.89 371.03,387.40 369.95,387.90 368.94,388.41 367.98,388.92 367.15,389.43 366.54,389.94 366.14,390.44 365.85,390.95 365.60,391.46 365.34,391.97 365.09,392.48 364.84,392.99 364.59,393.49 364.35,394.00 364.12,394.51 363.94,395.02 363.79,395.53 363.65,396.04 363.52,396.54 363.39,397.05 363.26,397.56 363.13,398.07 362.99,398.58 362.87,399.08 362.78,399.59 362.72,400.10 362.70,400.61 362.69,401.12 362.69,401.63 362.68,402.13 362.68,402.64 362.68,403.15 362.67,403.66 362.67,404.17 362.67,404.68 362.66,405.18 362.66,405.69 362.66,406.20 362.65,406.71 362.65,407.22 362.65,407.72 362.64,408.23 362.64,408.74 362.64,409.25 362.63,409.76 362.63,410.27 362.63,410.77 362.62,411.28 362.62,411.79 362.62,412.30 362.61,412.81 362.61,413.32 362.61,413.82 362.60,414.33 362.60,414.84 362.40,414.84 362.40,414.33 362.39,413.82 362.39,413.32 362.39,412.81 362.38,412.30 362.38,411.79 362.38,411.28 362.37,410.77 362.37,410.27 362.37,409.76 362.36,409.25 362.36,408.74 362.36,408.23 362.35,407.72 362.35,407.22 362.35,406.71 362.34,406.20 362.34,405.69 362.34,405.18 362.33,404.68 362.33,404.17 362.33,403.66 362.32,403.15 362.32,402.64 362.32,402.13 362.31,401.63 362.31,401.12 362.30,400.61 362.28,400.10 362.22,399.59 362.13,399.08 362.01,398.58 361.87,398.07 361.74,397.56 361.61,397.05 361.48,396.54 361.35,396.04 361.21,395.53 361.06,395.02 360.88,394.51 360.65,394.00 360.41,393.49 360.16,392.99 359.91,392.48 359.66,391.97 359.40,391.46 359.15,390.95 358.86,390.44 358.46,389.94 357.85,389.43 357.02,388.92 356.06,388.41 355.05,387.90 353.97,387.40 352.67,386.89 350.98,386.38 348.91,385.87 346.86,385.36 345.53,384.85 345.53,384.35 346.86,383.84 348.91,383.33 350.98,382.82 352.67,382.31 353.97,381.80 355.05,381.30 356.06,380.79 357.02,380.28 357.83,379.77 358.42,379.26 358.78,378.76 359.02,378.25 359.22,377.74 359.42,377.23 359.63,376.72 359.83,376.21 360.03,375.71 360.22,375.20 360.40,374.69 360.54,374.18 360.66,373.67 360.77,373.16 360.87,372.66 360.97,372.15 361.07,371.64 361.17,371.13 361.27,370.62 361.37,370.12 361.46,369.61 361.55,369.10 361.62,368.59 361.69,368.08 361.76,367.57 361.84,367.07 361.91,366.56 361.98,366.05 362.05,365.54 362.11,365.03 362.16,364.52 362.20,364.02 362.22,363.51 362.23,363.00 362.24,362.49 362.25,361.98 362.26,361.48 362.27,360.97 362.28,360.46 362.29,359.95 362.30,359.44 362.31,358.93 362.32,358.43 362.33,357.92 362.34,357.41 362.35,356.90 362.36,356.39 362.37,355.88 362.38,355.38 362.39,354.87 362.40,354.36" fill="none" stroke="#8a8a8a" stroke-width="0.6" stroke-linejoin="round"/>
<line x1="362.50" y1="354.36" x2="362.50" y2="414.84" stroke="#777" stroke-width="0.6"/>
<g fill="#dc1a1a" fill-opacity="1.0"><circle cx="359.3" cy="376.5" r="0.95"/><circle cx="367.4" cy="374.0" r="0.95"/><circle cx="374.4" cy="390.4" r="0.95"/><circle cx="362.6" cy="378.0" r="0.95"/><circle cx="349.4" cy="382.3" r="0.95"/><circle cx="378.0" cy="388.1" r="0.95"/><circle cx="350.5" cy="387.1" r="0.95"/><circle cx="357.6" cy="387.2" r="0.95"/><circle cx="360.4" cy="376.7" r="0.95"/><circle cx="363.0" cy="381.4" r="0.95"/><circle cx="350.2" cy="391.4" r="0.95"/><circle cx="376.7" cy="386.0" r="0.95"/><circle cx="376.5" cy="386.2" r="0.95"/><circle cx="366.9" cy="380.0" r="0.95"/><circle cx="349.6" cy="391.3" r="0.95"/><circle cx="360.7" cy="390.2" r="0.95"/><circle cx="356.1" cy="388.9" r="0.95"/><circle cx="356.6" cy="383.9" r="0.95"/><circle cx="356.6" cy="386.2" r="0.95"/><circle cx="362.1" cy="379.6" r="0.95"/><circle cx="348.1" cy="373.6" r="0.95"/><circle cx="360.3" cy="375.0" r="0.95"/><circle cx="347.0" cy="391.6" r="0.95"/><circle cx="349.9" cy="375.2" r="0.95"/><circle cx="359.7" cy="376.5" r="0.95"/><circle cx="368.6" cy="391.0" r="0.95"/><circle cx="358.2" cy="386.3" r="0.95"/><circle cx="361.0" cy="378.2" r="0.95"/><circle cx="349.4" cy="374.9" r="0.95"/><circle cx="361.8" cy="385.7" r="0.95"/><circle cx="368.7" cy="387.4" r="0.95"/><circle cx="369.2" cy="384.7" r="0.95"/><circle cx="361.8" cy="389.0" r="0.95"/><circle cx="353.2" cy="376.2" r="0.95"/><circle cx="364.9" cy="384.6" r="0.95"/><circle cx="371.1" cy="375.2" r="0.95"/><circle cx="351.8" cy="373.6" r="0.95"/><circle cx="347.2" cy="380.9" r="0.95"/><circle cx="355.1" cy="387.8" r="0.95"/><circle cx="362.3" cy="381.1" r="0.95"/><circle cx="360.5" cy="379.0" r="0.95"/><circle cx="376.6" cy="389.4" r="0.95"/><circle cx="354.3" cy="381.0" r="0.95"/><circle cx="359.7" cy="386.6" r="0.95"/><circle cx="362.6" cy="379.3" r="0.95"/><circle cx="375.3" cy="374.6" r="0.95"/><circle cx="372.5" cy="386.0" r="0.95"/><circle cx="374.6" cy="379.1" r="0.95"/><circle cx="352.3" cy="374.4" r="0.95"/><circle cx="354.6" cy="379.6" r="0.95"/><circle cx="368.6" cy="375.3" r="0.95"/><circle cx="367.7" cy="373.8" r="0.95"/><circle cx="348.7" cy="391.9" r="0.95"/><circle cx="352.9" cy="381.6" r="0.95"/><circle cx="360.1" cy="391.1" r="0.95"/><circle cx="353.1" cy="381.6" r="0.95"/><circle cx="359.4" cy="378.0" r="0.95"/><circle cx="361.5" cy="375.9" r="0.95"/><circle cx="370.6" cy="383.2" r="0.95"/><circle cx="358.0" cy="388.6" r="0.95"/><circle cx="356.0" cy="385.9" r="0.95"/><circle cx="358.1" cy="389.2" r="0.95"/><circle cx="361.7" cy="390.5" r="0.95"/><circle cx="374.1" cy="382.1" r="0.95"/><circle cx="349.8" cy="386.4" r="0.95"/><circle cx="354.8" cy="389.7" r="0.95"/><circle cx="361.9" cy="389.2" r="0.95"/><circle cx="351.6" cy="379.2" r="0.95"/><circle cx="360.3" cy="379.8" r="0.95"/><circle cx="361.6" cy="383.0" r="0.95"/><circle cx="356.6" cy="384.5" r="0.95"/><circle cx="361.9" cy="386.1" r="0.95"/><circle cx="372.7" cy="387.9" r="0.95"/><circle cx="353.7" cy="386.1" r="0.95"/><circle cx="371.5" cy="376.4" r="0.95"/><circle cx="364.5" cy="385.8" r="0.95"/><circle cx="367.2" cy="376.8" r="0.95"/><circle cx="354.4" cy="379.9" r="0.95"/><circle cx="369.1" cy="385.2" r="0.95"/><circle cx="351.3" cy="381.0" r="0.95"/><circle cx="353.4" cy="385.6" r="0.95"/><circle cx="363.9" cy="374.2" r="0.95"/><circle cx="351.4" cy="391.3" r="0.95"/><circle cx="363.7" cy="374.6" r="0.95"/><circle cx="348.3" cy="380.4" r="0.95"/><circle cx="347.7" cy="382.1" r="0.95"/><circle cx="350.5" cy="380.0" r="0.95"/><circle cx="358.1" cy="380.1" r="0.95"/><circle cx="354.9" cy="391.2" r="0.95"/><circle cx="352.5" cy="387.4" r="0.95"/><circle cx="352.0" cy="388.9" r="0.95"/><circle cx="363.9" cy="384.3" r="0.95"/><circle cx="372.7" cy="383.1" r="0.95"/><circle cx="363.7" cy="379.1" r="0.95"/><circle cx="373.6" cy="381.5" r="0.95"/><circle cx="348.0" cy="383.9" r="0.95"/><circle cx="347.8" cy="381.1" r="0.95"/><circle cx="348.8" cy="382.3" r="0.95"/><circle cx="351.5" cy="376.3" r="0.95"/><circle cx="349.8" cy="380.0" r="0.95"/><circle cx="368.9" cy="387.4" r="0.95"/><circle cx="365.4" cy="386.3" r="0.95"/><circle cx="354.9" cy="387.7" r="0.95"/><circle cx="347.3" cy="379.8" r="0.95"/><circle cx="349.1" cy="388.9" r="0.95"/><circle cx="349.5" cy="377.3" r="0.95"/><circle cx="363.4" cy="383.7" r="0.95"/><circle cx="365.1" cy="377.2" r="0.95"/><circle cx="366.4" cy="382.8" r="0.95"/><circle cx="356.6" cy="382.8" r="0.95"/><circle cx="377.8" cy="381.7" r="0.95"/><circle cx="361.8" cy="375.7" r="0.95"/><circle cx="348.5" cy="391.5" r="0.95"/><circle cx="371.6" cy="374.6" r="0.95"/><circle cx="348.4" cy="392.2" r="0.95"/><circle cx="347.1" cy="381.6" r="0.95"/><circle cx="351.1" cy="381.9" r="0.95"/><circle cx="367.6" cy="392.4" r="0.95"/><circle cx="374.1" cy="387.8" r="0.95"/><circle cx="364.2" cy="385.9" r="0.95"/><circle cx="357.6" cy="384.9" r="0.95"/><circle cx="346.9" cy="384.5" r="0.95"/><circle cx="355.1" cy="385.8" r="0.95"/><circle cx="351.9" cy="386.3" r="0.95"/><circle cx="368.8" cy="373.8" r="0.95"/><circle cx="353.0" cy="376.1" r="0.95"/><circle cx="366.1" cy="390.7" r="0.95"/><circle cx="347.3" cy="375.7" r="0.95"/><circle cx="354.1" cy="390.6" r="0.95"/><circle cx="367.4" cy="379.1" r="0.95"/><circle cx="374.9" cy="383.1" r="0.95"/><circle cx="356.6" cy="386.6" r="0.95"/><circle cx="353.2" cy="380.5" r="0.95"/><circle cx="376.4" cy="391.0" r="0.95"/><circle cx="358.9" cy="385.9" r="0.95"/><circle cx="349.3" cy="381.3" r="0.95"/><circle cx="377.7" cy="387.4" r="0.95"/><circle cx="369.6" cy="375.4" r="0.95"/><circle cx="355.3" cy="375.1" r="0.95"/><circle cx="370.3" cy="380.3" r="0.95"/><circle cx="352.9" cy="387.4" r="0.95"/><circle cx="350.0" cy="375.5" r="0.95"/><circle cx="372.2" cy="391.0" r="0.95"/><circle cx="363.5" cy="388.6" r="0.95"/><circle cx="370.8" cy="381.7" r="0.95"/><circle cx="376.5" cy="378.7" r="0.95"/><circle cx="350.0" cy="385.5" r="0.95"/><circle cx="364.9" cy="375.2" r="0.95"/><circle cx="358.4" cy="389.1" r="0.95"/><circle cx="355.7" cy="387.9" r="0.95"/><circle cx="351.7" cy="386.1" r="0.95"/><circle cx="354.6" cy="382.9" r="0.95"/><circle cx="374.9" cy="374.4" r="0.95"/><circle cx="351.8" cy="381.8" r="0.95"/><circle cx="368.0" cy="389.7" r="0.95"/><circle cx="363.5" cy="388.8" r="0.95"/><circle cx="358.2" cy="386.5" r="0.95"/><circle cx="372.4" cy="388.2" r="0.95"/><circle cx="363.8" cy="381.4" r="0.95"/><circle cx="357.2" cy="374.9" r="0.95"/><circle cx="357.2" cy="386.4" r="0.95"/><circle cx="368.5" cy="383.3" r="0.95"/><circle cx="369.6" cy="389.7" r="0.95"/><circle cx="351.4" cy="378.6" r="0.95"/><circle cx="359.0" cy="376.2" r="0.95"/><circle cx="354.1" cy="388.1" r="0.95"/><circle cx="373.9" cy="385.7" r="0.95"/><circle cx="350.2" cy="388.4" r="0.95"/><circle cx="371.0" cy="387.6" r="0.95"/><circle cx="364.3" cy="376.7" r="0.95"/><circle cx="366.0" cy="378.2" r="0.95"/><circle cx="377.5" cy="386.9" r="0.95"/><circle cx="374.3" cy="382.1" r="0.95"/><circle cx="353.1" cy="390.1" r="0.95"/><circle cx="357.1" cy="390.0" r="0.95"/><circle cx="371.0" cy="382.0" r="0.95"/><circle cx="348.2" cy="375.8" r="0.95"/><circle cx="365.5" cy="384.2" r="0.95"/><circle cx="351.2" cy="383.7" r="0.95"/><circle cx="375.6" cy="381.5" r="0.95"/><circle cx="361.2" cy="381.0" r="0.95"/><circle cx="364.1" cy="380.7" r="0.95"/><circle cx="353.0" cy="389.8" r="0.95"/><circle cx="352.8" cy="363.5" r="0.95"/><circle cx="352.6" cy="370.4" r="0.95"/><circle cx="364.2" cy="367.5" r="0.95"/><circle cx="370.5" cy="370.9" r="0.95"/><circle cx="354.8" cy="371.6" r="0.95"/><circle cx="362.5" cy="370.0" r="0.95"/><circle cx="361.6" cy="365.2" r="0.95"/><circle cx="358.9" cy="365.5" r="0.95"/><circle cx="352.9" cy="366.9" r="0.95"/><circle cx="370.6" cy="362.2" r="0.95"/><circle cx="363.9" cy="361.6" r="0.95"/><circle cx="357.2" cy="369.9" r="0.95"/><circle cx="361.5" cy="367.4" r="0.95"/><circle cx="368.9" cy="368.1" r="0.95"/><circle cx="353.5" cy="365.0" r="0.95"/><circle cx="357.0" cy="362.8" r="0.95"/><circle cx="356.7" cy="369.9" r="0.95"/><circle cx="356.7" cy="359.1" r="0.95"/><circle cx="364.1" cy="359.4" r="0.95"/><circle cx="355.3" cy="357.0" r="0.95"/><circle cx="366.3" cy="360.6" r="0.95"/><circle cx="361.3" cy="360.9" r="0.95"/><circle cx="354.8" cy="358.6" r="0.95"/><circle cx="358.2" cy="393.4" r="0.95"/><circle cx="352.8" cy="394.8" r="0.95"/><circle cx="367.2" cy="396.2" r="0.95"/><circle cx="357.7" cy="408.8" r="0.95"/><circle cx="352.4" cy="415.0" r="0.95"/><circle cx="355.6" cy="418.9" r="0.95"/><circle cx="354.5" cy="412.3" r="0.95"/><circle cx="357.5" cy="402.7" r="0.95"/></g>
<circle cx="362.50" cy="384.60" r="2.0" fill="#0c0c9a"/>
<text x="385.40" y="387.00" font-size="8.6" text-anchor="start" fill="#1a1a1a" textLength="19.6" lengthAdjust="spacingAndGlyphs" style="stroke-width:0.12px">12.00</text>
<g fill="#c6c6c6" fill-opacity="1.0"><circle cx="438.3" cy="388.2" r="0.8"/><circle cx="430.6" cy="393.3" r="0.8"/><circle cx="450.9" cy="393.9" r="0.8"/><circle cx="427.1" cy="375.7" r="0.8"/><circle cx="437.0" cy="381.3" r="0.8"/><circle cx="431.9" cy="390.5" r="0.8"/><circle cx="447.6" cy="391.4" r="0.8"/><circle cx="432.0" cy="375.0" r="0.8"/><circle cx="432.0" cy="369.7" r="0.8"/><circle cx="428.2" cy="380.9" r="0.8"/><circle cx="439.5" cy="381.6" r="0.8"/><circle cx="446.8" cy="393.5" r="0.8"/><circle cx="439.7" cy="374.0" r="0.8"/><circle cx="424.4" cy="380.4" r="0.8"/><circle cx="436.5" cy="384.1" r="0.8"/><circle cx="439.5" cy="378.3" r="0.8"/><circle cx="444.6" cy="371.1" r="0.8"/><circle cx="443.2" cy="368.5" r="0.8"/><circle cx="443.4" cy="387.6" r="0.8"/><circle cx="427.4" cy="392.8" r="0.8"/><circle cx="431.1" cy="391.6" r="0.8"/><circle cx="444.0" cy="376.6" r="0.8"/><circle cx="441.8" cy="384.6" r="0.8"/><circle cx="437.2" cy="387.9" r="0.8"/><circle cx="451.3" cy="394.3" r="0.8"/><circle cx="432.7" cy="379.7" r="0.8"/><circle cx="428.4" cy="372.3" r="0.8"/><circle cx="437.7" cy="385.0" r="0.8"/><circle cx="424.7" cy="387.3" r="0.8"/><circle cx="441.1" cy="387.3" r="0.8"/><circle cx="424.2" cy="379.5" r="0.8"/><circle cx="432.2" cy="372.5" r="0.8"/><circle cx="444.2" cy="375.8" r="0.8"/><circle cx="450.4" cy="373.5" r="0.8"/><circle cx="433.0" cy="379.8" r="0.8"/><circle cx="430.8" cy="389.4" r="0.8"/><circle cx="429.2" cy="391.8" r="0.8"/><circle cx="430.2" cy="388.8" r="0.8"/><circle cx="443.6" cy="388.1" r="0.8"/><circle cx="424.2" cy="383.6" r="0.8"/><circle cx="429.0" cy="376.6" r="0.8"/><circle cx="429.7" cy="380.1" r="0.8"/><circle cx="428.3" cy="382.0" r="0.8"/><circle cx="449.7" cy="386.7" r="0.8"/><circle cx="439.1" cy="383.2" r="0.8"/><circle cx="425.0" cy="394.1" r="0.8"/><circle cx="448.9" cy="385.8" r="0.8"/><circle cx="444.1" cy="383.9" r="0.8"/><circle cx="448.8" cy="389.6" r="0.8"/><circle cx="437.8" cy="380.3" r="0.8"/><circle cx="447.4" cy="393.9" r="0.8"/><circle cx="434.0" cy="382.2" r="0.8"/><circle cx="441.1" cy="391.0" r="0.8"/><circle cx="439.7" cy="376.5" r="0.8"/><circle cx="445.5" cy="388.8" r="0.8"/><circle cx="436.5" cy="386.9" r="0.8"/><circle cx="434.8" cy="385.2" r="0.8"/><circle cx="452.1" cy="394.3" r="0.8"/><circle cx="452.2" cy="393.8" r="0.8"/><circle cx="425.2" cy="389.3" r="0.8"/><circle cx="431.7" cy="372.2" r="0.8"/><circle cx="448.9" cy="370.2" r="0.8"/><circle cx="434.9" cy="394.3" r="0.8"/><circle cx="442.2" cy="371.1" r="0.8"/><circle cx="426.1" cy="373.0" r="0.8"/><circle cx="422.9" cy="375.5" r="0.8"/><circle cx="438.1" cy="370.9" r="0.8"/><circle cx="449.9" cy="393.5" r="0.8"/><circle cx="438.2" cy="388.3" r="0.8"/><circle cx="436.4" cy="392.9" r="0.8"/><circle cx="434.0" cy="384.0" r="0.8"/><circle cx="422.9" cy="382.2" r="0.8"/><circle cx="450.5" cy="393.1" r="0.8"/><circle cx="452.1" cy="381.9" r="0.8"/><circle cx="429.3" cy="369.3" r="0.8"/><circle cx="437.5" cy="383.2" r="0.8"/><circle cx="434.5" cy="371.6" r="0.8"/><circle cx="426.8" cy="389.2" r="0.8"/><circle cx="431.6" cy="393.0" r="0.8"/><circle cx="449.0" cy="381.9" r="0.8"/><circle cx="441.4" cy="371.5" r="0.8"/><circle cx="438.1" cy="387.4" r="0.8"/><circle cx="439.3" cy="381.6" r="0.8"/><circle cx="432.1" cy="388.6" r="0.8"/><circle cx="433.9" cy="375.4" r="0.8"/><circle cx="427.9" cy="368.6" r="0.8"/><circle cx="430.1" cy="387.5" r="0.8"/><circle cx="426.6" cy="384.4" r="0.8"/><circle cx="434.3" cy="376.8" r="0.8"/><circle cx="450.6" cy="388.2" r="0.8"/><circle cx="447.9" cy="386.6" r="0.8"/><circle cx="435.4" cy="391.3" r="0.8"/><circle cx="450.5" cy="384.9" r="0.8"/><circle cx="444.5" cy="394.0" r="0.8"/><circle cx="444.4" cy="388.7" r="0.8"/><circle cx="436.7" cy="367.8" r="0.8"/><circle cx="427.8" cy="374.7" r="0.8"/><circle cx="449.0" cy="392.0" r="0.8"/><circle cx="437.3" cy="391.0" r="0.8"/><circle cx="426.9" cy="376.5" r="0.8"/><circle cx="436.9" cy="369.2" r="0.8"/><circle cx="449.7" cy="366.2" r="0.8"/><circle cx="433.1" cy="376.7" r="0.8"/><circle cx="443.9" cy="360.0" r="0.8"/><circle cx="444.1" cy="375.9" r="0.8"/><circle cx="426.6" cy="358.6" r="0.8"/><circle cx="431.3" cy="380.5" r="0.8"/><circle cx="450.6" cy="389.9" r="0.8"/><circle cx="451.5" cy="388.9" r="0.8"/><circle cx="425.1" cy="375.4" r="0.8"/><circle cx="447.8" cy="380.7" r="0.8"/><circle cx="449.3" cy="380.9" r="0.8"/><circle cx="448.4" cy="394.4" r="0.8"/><circle cx="431.4" cy="393.9" r="0.8"/><circle cx="446.0" cy="377.5" r="0.8"/><circle cx="443.3" cy="388.4" r="0.8"/><circle cx="445.8" cy="352.7" r="0.8"/><circle cx="424.8" cy="384.6" r="0.8"/><circle cx="450.1" cy="359.4" r="0.8"/><circle cx="450.2" cy="389.0" r="0.8"/><circle cx="440.3" cy="395.6" r="0.8"/><circle cx="436.1" cy="372.4" r="0.8"/><circle cx="430.6" cy="379.7" r="0.8"/><circle cx="434.0" cy="395.7" r="0.8"/><circle cx="424.5" cy="362.7" r="0.8"/><circle cx="422.4" cy="353.0" r="0.8"/><circle cx="451.0" cy="352.9" r="0.8"/><circle cx="447.4" cy="399.6" r="0.8"/><circle cx="426.0" cy="384.6" r="0.8"/><circle cx="428.1" cy="396.9" r="0.8"/><circle cx="451.6" cy="356.6" r="0.8"/><circle cx="446.8" cy="387.7" r="0.8"/><circle cx="449.6" cy="360.9" r="0.8"/><circle cx="432.7" cy="393.7" r="0.8"/><circle cx="426.6" cy="380.3" r="0.8"/><circle cx="448.9" cy="396.1" r="0.8"/><circle cx="436.1" cy="382.9" r="0.8"/><circle cx="450.9" cy="392.5" r="0.8"/><circle cx="443.3" cy="384.4" r="0.8"/><circle cx="443.0" cy="360.8" r="0.8"/><circle cx="448.7" cy="359.7" r="0.8"/><circle cx="431.7" cy="386.6" r="0.8"/><circle cx="426.2" cy="387.6" r="0.8"/><circle cx="426.1" cy="362.6" r="0.8"/><circle cx="423.8" cy="390.6" r="0.8"/><circle cx="443.5" cy="345.1" r="0.8"/><circle cx="446.8" cy="349.7" r="0.8"/><circle cx="430.1" cy="344.6" r="0.8"/><circle cx="434.5" cy="345.0" r="0.8"/><circle cx="429.6" cy="353.9" r="0.8"/><circle cx="440.1" cy="346.1" r="0.8"/></g>
<polygon points="438.90,344.28 438.90,344.70 438.91,345.13 438.91,345.55 438.91,345.97 438.92,346.40 438.92,346.82 438.92,347.24 438.92,347.67 438.93,348.09 438.93,348.52 438.93,348.94 438.94,349.36 438.94,349.79 438.94,350.21 438.95,350.63 438.95,351.06 438.95,351.48 438.95,351.90 438.96,352.33 438.96,352.75 438.96,353.17 438.97,353.60 438.97,354.02 438.97,354.44 438.98,354.87 438.98,355.29 438.98,355.72 438.98,356.14 438.99,356.56 438.99,356.99 438.99,357.41 439.00,357.83 439.02,358.26 439.06,358.68 439.12,359.10 439.19,359.53 439.26,359.95 439.33,360.37 439.41,360.80 439.51,361.22 439.65,361.64 439.83,362.07 440.03,362.49 440.24,362.92 440.45,363.34 440.65,363.76 440.81,364.19 440.88,364.61 440.88,365.03 440.83,365.46 440.76,365.88 440.69,366.30 440.63,366.73 440.62,367.15 440.70,367.57 440.88,368.00 441.13,368.42 441.41,368.84 441.69,369.27 441.98,369.69 442.27,370.12 442.61,370.54 442.98,370.96 443.39,371.39 443.81,371.81 444.23,372.23 444.65,372.66 445.07,373.08 445.49,373.50 445.85,373.93 446.03,374.35 445.92,374.77 445.56,375.20 445.04,375.62 444.48,376.04 443.92,376.47 443.38,376.89 442.87,377.32 442.43,377.74 442.05,378.16 441.72,378.59 441.46,379.01 441.31,379.43 441.35,379.86 441.56,380.28 441.85,380.70 442.19,381.13 442.59,381.55 443.06,381.97 443.59,382.40 444.15,382.82 444.71,383.24 445.27,383.67 445.75,384.09 446.06,384.52 446.09,384.94 445.91,385.36 445.62,385.79 445.30,386.21 444.99,386.63 444.67,387.06 444.36,387.48 444.04,387.90 443.72,388.33 443.39,388.75 443.05,389.17 442.70,389.60 442.35,390.02 442.00,390.44 441.65,390.87 441.31,391.29 440.99,391.72 440.69,392.14 440.40,392.56 440.12,392.99 439.84,393.41 439.56,393.83 439.31,394.26 439.00,394.68 438.00,394.68 437.69,394.26 437.44,393.83 437.16,393.41 436.88,392.99 436.60,392.56 436.31,392.14 436.01,391.72 435.69,391.29 435.35,390.87 435.00,390.44 434.65,390.02 434.30,389.60 433.95,389.17 433.61,388.75 433.28,388.33 432.96,387.90 432.64,387.48 432.33,387.06 432.01,386.63 431.70,386.21 431.38,385.79 431.09,385.36 430.91,384.94 430.94,384.52 431.25,384.09 431.73,383.67 432.29,383.24 432.85,382.82 433.41,382.40 433.94,381.97 434.41,381.55 434.81,381.13 435.15,380.70 435.44,380.28 435.65,379.86 435.69,379.43 435.54,379.01 435.28,378.59 434.95,378.16 434.57,377.74 434.13,377.32 433.62,376.89 433.08,376.47 432.52,376.04 431.96,375.62 431.44,375.20 431.08,374.77 430.97,374.35 431.15,373.93 431.51,373.50 431.93,373.08 432.35,372.66 432.77,372.23 433.19,371.81 433.61,371.39 434.02,370.96 434.39,370.54 434.73,370.12 435.02,369.69 435.31,369.27 435.59,368.84 435.87,368.42 436.12,368.00 436.30,367.57 436.38,367.15 436.37,366.73 436.31,366.30 436.24,365.88 436.17,365.46 436.12,365.03 436.12,364.61 436.19,364.19 436.35,363.76 436.55,363.34 436.76,362.92 436.97,362.49 437.17,362.07 437.35,361.64 437.49,361.22 437.59,360.80 437.67,360.37 437.74,359.95 437.81,359.53 437.88,359.10 437.94,358.68 437.98,358.26 438.00,357.83 438.01,357.41 438.01,356.99 438.01,356.56 438.02,356.14 438.02,355.72 438.02,355.29 438.02,354.87 438.03,354.44 438.03,354.02 438.03,353.60 438.04,353.17 438.04,352.75 438.04,352.33 438.05,351.90 438.05,351.48 438.05,351.06 438.05,350.63 438.06,350.21 438.06,349.79 438.06,349.36 438.07,348.94 438.07,348.52 438.07,348.09 438.08,347.67 438.08,347.24 438.08,346.82 438.08,346.40 438.09,345.97 438.09,345.55 438.09,345.13 438.10,344.70 438.10,344.28" fill="none" stroke="#8a8a8a" stroke-width="0.6" stroke-linejoin="round"/>
<rect x="426.70" y="374.52" width="23.20" height="10.08" fill="none" stroke="#a0a0a0" stroke-width="0.7"/>
<line x1="426.70" y1="384.60" x2="449.90" y2="384.60" stroke="#999" stroke-width="1.2"/>
<circle cx="438.30" cy="384.60" r="2.0" fill="#0c0c9a"/>
<line x1="450.00" y1="384.60" x2="460.00" y2="384.60" stroke="#777" stroke-width="0.7" stroke-dasharray="1.2,1.2"/>
<text x="460.70" y="386.90" font-size="8.6" text-anchor="start" fill="#1a1a1a" textLength="19.2" lengthAdjust="spacingAndGlyphs" style="stroke-width:0.12px">12.00</text>
<text x="488.00" y="313.00" font-size="21.8" text-anchor="start" fill="#1a1a1a" style="stroke:#111;stroke-width:0.45px">G</text>
<line x1="517.60" y1="323.20" x2="517.60" y2="432.30" stroke="#bdbdbd" stroke-width="1.3"/>
<line x1="517.00" y1="432.30" x2="681.00" y2="432.30" stroke="#8a8a8a" stroke-width="1.2"/>
<line x1="516.00" y1="325.18" x2="517.60" y2="325.18" stroke="#bbb" stroke-width="0.7"/>
<text x="515.90" y="327.82" font-size="8.0" text-anchor="end" fill="#1a1a1a" font-family="Liberation Serif" style="font-family:'Liberation Serif', serif">14</text>
<line x1="516.00" y1="347.36" x2="517.60" y2="347.36" stroke="#bbb" stroke-width="0.7"/>
<text x="515.90" y="350.00" font-size="8.0" text-anchor="end" fill="#1a1a1a" font-family="Liberation Serif" style="font-family:'Liberation Serif', serif">12</text>
<line x1="516.00" y1="369.54" x2="517.60" y2="369.54" stroke="#bbb" stroke-width="0.7"/>
<text x="515.90" y="372.18" font-size="8.0" text-anchor="end" fill="#1a1a1a" font-family="Liberation Serif" style="font-family:'Liberation Serif', serif">10</text>
<line x1="516.00" y1="391.72" x2="517.60" y2="391.72" stroke="#bbb" stroke-width="0.7"/>
<text x="515.90" y="394.36" font-size="8.0" text-anchor="end" fill="#1a1a1a" font-family="Liberation Serif" style="font-family:'Liberation Serif', serif">8</text>
<line x1="516.00" y1="413.90" x2="517.60" y2="413.90" stroke="#bbb" stroke-width="0.7"/>
<text x="515.90" y="416.54" font-size="8.0" text-anchor="end" fill="#1a1a1a" font-family="Liberation Serif" style="font-family:'Liberation Serif', serif">6</text>
<line x1="562.50" y1="432.30" x2="562.50" y2="433.90" stroke="#444" stroke-width="0.8"/>
<line x1="636.50" y1="432.30" x2="636.50" y2="433.90" stroke="#444" stroke-width="0.8"/>
<path d="M562.70,335.40 L562.70,332.40 L638.80,332.40 L638.80,335.40" fill="none" stroke="#9a9a9a" stroke-width="0.9"/>
<text x="577.00" y="330.00" font-size="8.4" text-anchor="start" fill="#1a1a1a" textLength="51.8" lengthAdjust="spacingAndGlyphs" style="stroke-width:0.1px">p = 1.66e-57</text>
<text transform="translate(495.30,379.60) rotate(-90)" x="0" y="0" font-size="8.9" text-anchor="middle" fill="#1a1a1a" textLength="128.9" lengthAdjust="spacingAndGlyphs" style="stroke-width:0.3px">Total number of effector delivery</text>
<text transform="translate(504.20,376.50) rotate(-90)" x="0" y="0" font-size="8.9" text-anchor="middle" fill="#1a1a1a" textLength="106.4" lengthAdjust="spacingAndGlyphs" style="stroke-width:0.3px">system genes per genome</text>
<g fill="#dc1a1a" fill-opacity="1.0"><circle cx="564.8" cy="413.8" r="0.95"/><circle cx="565.9" cy="421.4" r="0.95"/><circle cx="549.3" cy="417.3" r="0.95"/><circle cx="564.4" cy="419.2" r="0.95"/><circle cx="552.9" cy="415.5" r="0.95"/><circle cx="560.1" cy="418.8" r="0.95"/><circle cx="576.2" cy="406.1" r="0.95"/><circle cx="548.8" cy="414.8" r="0.95"/><circle cx="554.7" cy="417.5" r="0.95"/><circle cx="548.2" cy="422.4" r="0.95"/><circle cx="548.3" cy="421.5" r="0.95"/><circle cx="567.6" cy="422.4" r="0.95"/><circle cx="574.9" cy="408.7" r="0.95"/><circle cx="555.7" cy="410.8" r="0.95"/><circle cx="577.0" cy="421.7" r="0.95"/><circle cx="564.8" cy="415.1" r="0.95"/><circle cx="557.0" cy="418.5" r="0.95"/><circle cx="550.0" cy="411.7" r="0.95"/><circle cx="553.5" cy="415.9" r="0.95"/><circle cx="576.3" cy="417.3" r="0.95"/><circle cx="557.2" cy="406.3" r="0.95"/><circle cx="565.5" cy="413.1" r="0.95"/><circle cx="554.2" cy="411.8" r="0.95"/><circle cx="559.1" cy="413.6" r="0.95"/><circle cx="559.7" cy="422.4" r="0.95"/><circle cx="574.7" cy="410.8" r="0.95"/><circle cx="577.2" cy="418.1" r="0.95"/><circle cx="556.1" cy="421.3" r="0.95"/><circle cx="556.8" cy="417.8" r="0.95"/><circle cx="553.0" cy="418.9" r="0.95"/><circle cx="556.5" cy="407.7" r="0.95"/><circle cx="561.2" cy="408.4" r="0.95"/><circle cx="548.9" cy="420.3" r="0.95"/><circle cx="577.0" cy="422.9" r="0.95"/><circle cx="549.5" cy="414.1" r="0.95"/><circle cx="556.3" cy="420.2" r="0.95"/><circle cx="566.3" cy="412.4" r="0.95"/><circle cx="553.2" cy="413.7" r="0.95"/><circle cx="561.5" cy="407.9" r="0.95"/><circle cx="549.4" cy="419.5" r="0.95"/><circle cx="564.9" cy="423.3" r="0.95"/><circle cx="573.7" cy="405.6" r="0.95"/><circle cx="557.5" cy="409.3" r="0.95"/><circle cx="555.1" cy="406.0" r="0.95"/><circle cx="553.9" cy="423.8" r="0.95"/><circle cx="549.4" cy="415.2" r="0.95"/><circle cx="548.5" cy="405.4" r="0.95"/><circle cx="567.0" cy="413.2" r="0.95"/><circle cx="566.8" cy="416.0" r="0.95"/><circle cx="574.9" cy="410.4" r="0.95"/><circle cx="560.7" cy="418.5" r="0.95"/><circle cx="551.8" cy="417.9" r="0.95"/><circle cx="558.3" cy="422.4" r="0.95"/><circle cx="576.2" cy="419.0" r="0.95"/><circle cx="564.1" cy="422.6" r="0.95"/><circle cx="564.5" cy="411.7" r="0.95"/><circle cx="549.8" cy="405.5" r="0.95"/><circle cx="552.4" cy="418.9" r="0.95"/><circle cx="570.3" cy="417.5" r="0.95"/><circle cx="574.7" cy="419.4" r="0.95"/><circle cx="557.1" cy="410.8" r="0.95"/><circle cx="574.1" cy="407.2" r="0.95"/><circle cx="556.3" cy="413.9" r="0.95"/><circle cx="560.1" cy="411.1" r="0.95"/><circle cx="554.4" cy="408.1" r="0.95"/><circle cx="569.6" cy="420.6" r="0.95"/><circle cx="557.1" cy="417.5" r="0.95"/><circle cx="576.3" cy="415.3" r="0.95"/><circle cx="566.5" cy="406.3" r="0.95"/><circle cx="559.7" cy="406.0" r="0.95"/><circle cx="556.4" cy="423.6" r="0.95"/><circle cx="550.5" cy="410.8" r="0.95"/><circle cx="559.2" cy="408.2" r="0.95"/><circle cx="563.9" cy="411.0" r="0.95"/><circle cx="558.3" cy="412.8" r="0.95"/><circle cx="569.1" cy="416.8" r="0.95"/><circle cx="562.6" cy="408.0" r="0.95"/><circle cx="576.3" cy="417.3" r="0.95"/><circle cx="549.4" cy="408.0" r="0.95"/><circle cx="561.3" cy="405.6" r="0.95"/><circle cx="571.1" cy="416.9" r="0.95"/><circle cx="573.8" cy="413.6" r="0.95"/><circle cx="569.6" cy="407.2" r="0.95"/><circle cx="565.4" cy="406.0" r="0.95"/><circle cx="559.7" cy="416.7" r="0.95"/><circle cx="567.3" cy="416.2" r="0.95"/><circle cx="569.4" cy="413.9" r="0.95"/><circle cx="570.5" cy="408.3" r="0.95"/><circle cx="565.0" cy="406.6" r="0.95"/><circle cx="571.7" cy="407.7" r="0.95"/><circle cx="547.9" cy="423.6" r="0.95"/><circle cx="567.1" cy="417.6" r="0.95"/><circle cx="574.5" cy="416.5" r="0.95"/><circle cx="570.5" cy="419.2" r="0.95"/><circle cx="566.9" cy="406.9" r="0.95"/><circle cx="574.2" cy="417.0" r="0.95"/><circle cx="562.3" cy="413.8" r="0.95"/><circle cx="558.0" cy="414.8" r="0.95"/><circle cx="577.4" cy="407.3" r="0.95"/><circle cx="557.1" cy="411.0" r="0.95"/><circle cx="576.9" cy="417.1" r="0.95"/><circle cx="573.8" cy="408.8" r="0.95"/><circle cx="575.0" cy="422.3" r="0.95"/><circle cx="576.1" cy="405.4" r="0.95"/><circle cx="554.8" cy="411.9" r="0.95"/><circle cx="550.1" cy="412.5" r="0.95"/><circle cx="569.4" cy="409.8" r="0.95"/><circle cx="574.0" cy="418.3" r="0.95"/><circle cx="550.9" cy="408.5" r="0.95"/><circle cx="548.1" cy="419.5" r="0.95"/><circle cx="554.7" cy="409.3" r="0.95"/><circle cx="561.1" cy="408.1" r="0.95"/><circle cx="568.1" cy="408.0" r="0.95"/><circle cx="571.8" cy="407.3" r="0.95"/><circle cx="555.9" cy="417.2" r="0.95"/><circle cx="566.9" cy="412.9" r="0.95"/><circle cx="571.6" cy="408.6" r="0.95"/><circle cx="556.8" cy="421.6" r="0.95"/><circle cx="570.4" cy="410.9" r="0.95"/><circle cx="555.9" cy="422.8" r="0.95"/><circle cx="548.0" cy="419.2" r="0.95"/><circle cx="555.8" cy="420.0" r="0.95"/><circle cx="548.9" cy="420.7" r="0.95"/><circle cx="558.2" cy="422.1" r="0.95"/><circle cx="553.7" cy="415.6" r="0.95"/><circle cx="573.8" cy="407.4" r="0.95"/><circle cx="559.9" cy="421.5" r="0.95"/><circle cx="555.7" cy="411.2" r="0.95"/><circle cx="560.0" cy="413.1" r="0.95"/><circle cx="570.3" cy="411.5" r="0.95"/><circle cx="574.1" cy="422.3" r="0.95"/><circle cx="556.6" cy="423.2" r="0.95"/><circle cx="563.6" cy="412.3" r="0.95"/><circle cx="555.2" cy="422.8" r="0.95"/><circle cx="561.8" cy="420.7" r="0.95"/><circle cx="553.4" cy="416.7" r="0.95"/><circle cx="576.8" cy="417.1" r="0.95"/><circle cx="569.4" cy="416.9" r="0.95"/><circle cx="559.9" cy="421.2" r="0.95"/><circle cx="553.1" cy="409.4" r="0.95"/><circle cx="560.7" cy="418.5" r="0.95"/><circle cx="578.1" cy="407.3" r="0.95"/><circle cx="555.5" cy="415.7" r="0.95"/><circle cx="565.0" cy="420.7" r="0.95"/><circle cx="560.6" cy="418.5" r="0.95"/><circle cx="572.6" cy="422.1" r="0.95"/><circle cx="578.2" cy="419.4" r="0.95"/><circle cx="557.6" cy="422.5" r="0.95"/><circle cx="575.8" cy="408.3" r="0.95"/><circle cx="549.4" cy="413.9" r="0.95"/><circle cx="559.5" cy="412.5" r="0.95"/><circle cx="557.8" cy="405.9" r="0.95"/><circle cx="554.1" cy="408.4" r="0.95"/><circle cx="555.7" cy="411.6" r="0.95"/><circle cx="560.6" cy="414.0" r="0.95"/><circle cx="563.6" cy="412.1" r="0.95"/><circle cx="549.4" cy="422.8" r="0.95"/><circle cx="577.6" cy="419.1" r="0.95"/><circle cx="558.4" cy="419.4" r="0.95"/><circle cx="567.4" cy="405.3" r="0.95"/><circle cx="559.9" cy="417.8" r="0.95"/><circle cx="558.2" cy="423.4" r="0.95"/><circle cx="550.1" cy="423.0" r="0.95"/><circle cx="557.4" cy="405.3" r="0.95"/><circle cx="551.7" cy="413.5" r="0.95"/><circle cx="553.8" cy="423.2" r="0.95"/><circle cx="573.4" cy="421.5" r="0.95"/><circle cx="551.5" cy="408.5" r="0.95"/><circle cx="554.9" cy="420.1" r="0.95"/><circle cx="576.7" cy="420.2" r="0.95"/><circle cx="573.2" cy="418.1" r="0.95"/><circle cx="564.9" cy="418.0" r="0.95"/><circle cx="557.9" cy="406.3" r="0.95"/><circle cx="575.6" cy="420.6" r="0.95"/><circle cx="569.9" cy="421.2" r="0.95"/><circle cx="556.6" cy="422.5" r="0.95"/><circle cx="567.5" cy="410.2" r="0.95"/><circle cx="570.6" cy="409.3" r="0.95"/><circle cx="559.6" cy="420.5" r="0.95"/><circle cx="547.4" cy="415.6" r="0.95"/><circle cx="576.4" cy="415.4" r="0.95"/><circle cx="566.5" cy="406.6" r="0.95"/><circle cx="574.2" cy="409.9" r="0.95"/><circle cx="565.8" cy="419.5" r="0.95"/><circle cx="570.7" cy="416.0" r="0.95"/><circle cx="569.3" cy="419.7" r="0.95"/><circle cx="576.6" cy="420.8" r="0.95"/><circle cx="572.0" cy="407.1" r="0.95"/><circle cx="552.0" cy="407.6" r="0.95"/><circle cx="567.4" cy="412.5" r="0.95"/><circle cx="555.2" cy="417.7" r="0.95"/><circle cx="554.6" cy="415.6" r="0.95"/><circle cx="567.5" cy="410.1" r="0.95"/><circle cx="569.3" cy="417.3" r="0.95"/><circle cx="557.8" cy="409.5" r="0.95"/><circle cx="577.7" cy="419.7" r="0.95"/><circle cx="560.2" cy="418.7" r="0.95"/><circle cx="577.7" cy="423.6" r="0.95"/><circle cx="575.1" cy="409.4" r="0.95"/><circle cx="557.7" cy="411.1" r="0.95"/><circle cx="558.8" cy="411.9" r="0.95"/><circle cx="560.6" cy="406.6" r="0.95"/><circle cx="561.6" cy="408.6" r="0.95"/><circle cx="565.3" cy="416.9" r="0.95"/><circle cx="577.5" cy="420.2" r="0.95"/><circle cx="575.6" cy="405.4" r="0.95"/><circle cx="573.8" cy="412.4" r="0.95"/><circle cx="566.7" cy="406.4" r="0.95"/><circle cx="560.8" cy="408.3" r="0.95"/><circle cx="571.5" cy="407.7" r="0.95"/><circle cx="561.0" cy="411.6" r="0.95"/><circle cx="550.2" cy="422.5" r="0.95"/><circle cx="550.7" cy="410.0" r="0.95"/></g>
<line x1="550.90" y1="413.90" x2="574.90" y2="413.90" stroke="#5a3a3a" stroke-width="0.9"/>
<circle cx="562.90" cy="413.90" r="1.5" fill="#0c0c9a"/>
<line x1="577.90" y1="413.90" x2="586.90" y2="413.90" stroke="#888" stroke-width="0.6" stroke-dasharray="1.2,1.2"/>
<text x="588.10" y="416.60" font-size="9.0" text-anchor="start" fill="#1a1a1a" textLength="17.7" lengthAdjust="spacingAndGlyphs" style="stroke-width:0.12px">6.00</text>
<g fill="#c6c6c6" fill-opacity="1.0"><circle cx="634.3" cy="339.8" r="0.8"/><circle cx="626.0" cy="354.9" r="0.8"/><circle cx="648.7" cy="349.9" r="0.8"/><circle cx="630.2" cy="342.4" r="0.8"/><circle cx="630.6" cy="338.5" r="0.8"/><circle cx="631.8" cy="340.8" r="0.8"/><circle cx="638.0" cy="339.3" r="0.8"/><circle cx="632.5" cy="339.5" r="0.8"/><circle cx="632.7" cy="349.3" r="0.8"/><circle cx="642.6" cy="347.1" r="0.8"/><circle cx="643.7" cy="344.2" r="0.8"/><circle cx="631.6" cy="358.3" r="0.8"/><circle cx="645.3" cy="346.1" r="0.8"/><circle cx="640.5" cy="348.3" r="0.8"/><circle cx="651.5" cy="352.4" r="0.8"/><circle cx="651.0" cy="355.0" r="0.8"/><circle cx="644.4" cy="339.1" r="0.8"/><circle cx="628.2" cy="342.6" r="0.8"/><circle cx="631.8" cy="357.2" r="0.8"/><circle cx="636.5" cy="344.1" r="0.8"/><circle cx="632.1" cy="339.0" r="0.8"/><circle cx="623.7" cy="353.0" r="0.8"/><circle cx="633.8" cy="350.8" r="0.8"/><circle cx="632.6" cy="358.0" r="0.8"/><circle cx="629.9" cy="353.1" r="0.8"/><circle cx="643.8" cy="350.7" r="0.8"/><circle cx="645.3" cy="349.4" r="0.8"/><circle cx="633.8" cy="355.2" r="0.8"/><circle cx="630.5" cy="340.0" r="0.8"/><circle cx="637.3" cy="352.0" r="0.8"/><circle cx="630.2" cy="340.5" r="0.8"/><circle cx="644.7" cy="344.2" r="0.8"/><circle cx="647.7" cy="353.5" r="0.8"/><circle cx="645.5" cy="357.0" r="0.8"/><circle cx="643.5" cy="351.8" r="0.8"/><circle cx="643.5" cy="353.8" r="0.8"/><circle cx="634.2" cy="344.7" r="0.8"/><circle cx="651.8" cy="351.5" r="0.8"/><circle cx="628.7" cy="355.9" r="0.8"/><circle cx="643.7" cy="340.1" r="0.8"/><circle cx="624.1" cy="351.4" r="0.8"/><circle cx="628.7" cy="338.9" r="0.8"/><circle cx="627.6" cy="357.0" r="0.8"/><circle cx="646.6" cy="338.0" r="0.8"/><circle cx="646.8" cy="356.1" r="0.8"/><circle cx="635.8" cy="347.8" r="0.8"/><circle cx="650.6" cy="343.0" r="0.8"/><circle cx="625.4" cy="349.2" r="0.8"/><circle cx="647.0" cy="347.3" r="0.8"/><circle cx="643.6" cy="338.6" r="0.8"/><circle cx="653.0" cy="341.3" r="0.8"/><circle cx="640.8" cy="352.1" r="0.8"/><circle cx="628.4" cy="355.0" r="0.8"/><circle cx="642.8" cy="342.6" r="0.8"/><circle cx="649.4" cy="339.7" r="0.8"/><circle cx="632.2" cy="351.6" r="0.8"/><circle cx="629.5" cy="347.3" r="0.8"/><circle cx="652.0" cy="342.9" r="0.8"/><circle cx="636.7" cy="355.2" r="0.8"/><circle cx="648.9" cy="340.1" r="0.8"/><circle cx="646.6" cy="352.5" r="0.8"/><circle cx="635.3" cy="346.5" r="0.8"/><circle cx="651.1" cy="353.5" r="0.8"/><circle cx="636.2" cy="357.2" r="0.8"/><circle cx="623.7" cy="353.5" r="0.8"/><circle cx="647.9" cy="344.6" r="0.8"/><circle cx="637.9" cy="350.0" r="0.8"/><circle cx="631.5" cy="342.7" r="0.8"/><circle cx="638.2" cy="357.0" r="0.8"/><circle cx="642.4" cy="338.1" r="0.8"/><circle cx="625.8" cy="338.0" r="0.8"/><circle cx="626.6" cy="352.1" r="0.8"/><circle cx="652.9" cy="338.5" r="0.8"/><circle cx="629.1" cy="343.7" r="0.8"/><circle cx="642.0" cy="350.3" r="0.8"/><circle cx="647.1" cy="345.4" r="0.8"/><circle cx="630.4" cy="348.4" r="0.8"/><circle cx="644.9" cy="345.7" r="0.8"/><circle cx="639.9" cy="343.3" r="0.8"/><circle cx="627.6" cy="357.6" r="0.8"/><circle cx="624.6" cy="345.7" r="0.8"/><circle cx="636.6" cy="341.3" r="0.8"/><circle cx="652.7" cy="356.2" r="0.8"/><circle cx="635.0" cy="349.8" r="0.8"/><circle cx="640.0" cy="339.8" r="0.8"/><circle cx="641.6" cy="352.2" r="0.8"/><circle cx="643.5" cy="351.7" r="0.8"/><circle cx="640.3" cy="356.4" r="0.8"/><circle cx="640.5" cy="348.6" r="0.8"/><circle cx="643.0" cy="346.8" r="0.8"/><circle cx="640.8" cy="343.3" r="0.8"/><circle cx="627.6" cy="343.0" r="0.8"/><circle cx="642.3" cy="344.3" r="0.8"/><circle cx="635.6" cy="356.7" r="0.8"/><circle cx="651.3" cy="341.5" r="0.8"/><circle cx="652.9" cy="349.0" r="0.8"/><circle cx="650.1" cy="340.6" r="0.8"/><circle cx="640.1" cy="340.0" r="0.8"/><circle cx="648.0" cy="356.3" r="0.8"/><circle cx="627.6" cy="350.1" r="0.8"/><circle cx="639.6" cy="345.1" r="0.8"/><circle cx="640.5" cy="340.5" r="0.8"/><circle cx="647.6" cy="356.3" r="0.8"/><circle cx="633.8" cy="340.2" r="0.8"/><circle cx="646.3" cy="358.1" r="0.8"/><circle cx="642.4" cy="355.9" r="0.8"/><circle cx="638.7" cy="338.1" r="0.8"/><circle cx="625.9" cy="341.6" r="0.8"/><circle cx="638.1" cy="338.4" r="0.8"/><circle cx="649.4" cy="357.1" r="0.8"/><circle cx="642.9" cy="340.8" r="0.8"/><circle cx="632.0" cy="344.0" r="0.8"/><circle cx="631.2" cy="354.2" r="0.8"/><circle cx="633.6" cy="352.4" r="0.8"/><circle cx="652.5" cy="353.6" r="0.8"/><circle cx="636.3" cy="348.5" r="0.8"/><circle cx="644.3" cy="338.5" r="0.8"/><circle cx="642.0" cy="340.8" r="0.8"/><circle cx="627.5" cy="344.9" r="0.8"/><circle cx="628.8" cy="340.6" r="0.8"/><circle cx="641.5" cy="355.7" r="0.8"/><circle cx="649.1" cy="347.7" r="0.8"/><circle cx="638.2" cy="356.8" r="0.8"/><circle cx="650.8" cy="347.9" r="0.8"/><circle cx="649.5" cy="356.9" r="0.8"/><circle cx="644.0" cy="350.7" r="0.8"/><circle cx="639.7" cy="345.6" r="0.8"/><circle cx="648.4" cy="339.5" r="0.8"/><circle cx="628.6" cy="340.8" r="0.8"/><circle cx="627.1" cy="358.2" r="0.8"/><circle cx="632.6" cy="352.6" r="0.8"/><circle cx="646.7" cy="347.0" r="0.8"/><circle cx="635.2" cy="342.2" r="0.8"/><circle cx="651.7" cy="345.3" r="0.8"/><circle cx="642.7" cy="406.5" r="0.8"/><circle cx="633.0" cy="404.0" r="0.8"/><circle cx="629.9" cy="421.4" r="0.8"/><circle cx="647.3" cy="419.0" r="0.8"/><circle cx="634.2" cy="412.8" r="0.8"/><circle cx="628.1" cy="414.5" r="0.8"/><circle cx="634.7" cy="420.6" r="0.8"/><circle cx="641.4" cy="414.0" r="0.8"/><circle cx="629.4" cy="407.8" r="0.8"/><circle cx="636.2" cy="421.7" r="0.8"/><circle cx="648.8" cy="414.7" r="0.8"/><circle cx="627.6" cy="416.9" r="0.8"/><circle cx="632.0" cy="421.4" r="0.8"/><circle cx="634.0" cy="419.1" r="0.8"/><circle cx="630.9" cy="409.9" r="0.8"/><circle cx="629.4" cy="421.8" r="0.8"/><circle cx="629.9" cy="416.8" r="0.8"/><circle cx="629.6" cy="411.3" r="0.8"/><circle cx="648.8" cy="407.0" r="0.8"/><circle cx="637.8" cy="407.8" r="0.8"/><circle cx="646.4" cy="410.6" r="0.8"/><circle cx="646.8" cy="415.3" r="0.8"/><circle cx="645.3" cy="412.7" r="0.8"/><circle cx="645.0" cy="408.7" r="0.8"/><circle cx="626.9" cy="407.0" r="0.8"/><circle cx="626.1" cy="414.4" r="0.8"/><circle cx="641.1" cy="407.1" r="0.8"/><circle cx="626.7" cy="409.9" r="0.8"/><circle cx="634.4" cy="421.5" r="0.8"/><circle cx="634.1" cy="410.5" r="0.8"/><circle cx="627.3" cy="406.7" r="0.8"/><circle cx="626.3" cy="417.8" r="0.8"/></g>
<polygon points="658.10,347.03 657.74,347.59 657.45,348.15 657.12,348.71 656.79,349.28 656.45,349.84 656.10,350.40 655.72,350.96 655.34,351.52 654.95,352.08 654.55,352.65 654.13,353.21 653.66,353.77 653.16,354.33 652.63,354.89 652.09,355.46 651.55,356.02 651.02,356.58 650.48,357.14 649.94,357.70 649.40,358.27 648.86,358.83 648.31,359.39 647.75,359.95 647.19,360.51 646.62,361.08 646.06,361.64 645.50,362.20 644.94,362.76 644.39,363.32 643.91,363.89 643.49,364.45 643.15,365.01 642.83,365.57 642.52,366.13 642.21,366.70 641.92,367.26 641.66,367.82 641.47,368.38 641.33,368.94 641.23,369.51 641.12,370.07 641.02,370.63 640.92,371.19 640.82,371.75 640.72,372.32 640.64,372.88 640.57,373.44 640.52,374.00 640.48,374.56 640.43,375.13 640.39,375.69 640.35,376.25 640.30,376.81 640.26,377.37 640.21,377.93 640.17,378.50 640.13,379.06 640.08,379.62 640.04,380.18 639.99,380.74 639.95,381.31 639.92,381.87 639.88,382.43 639.86,382.99 639.84,383.55 639.81,384.12 639.79,384.68 639.77,385.24 639.75,385.80 639.73,386.36 639.70,386.93 639.68,387.49 639.66,388.05 639.64,388.61 639.61,389.17 639.59,389.74 639.57,390.30 639.55,390.86 639.54,391.42 639.55,391.98 639.60,392.55 639.68,393.11 639.77,393.67 639.87,394.23 639.97,394.79 640.06,395.36 640.16,395.92 640.25,396.48 640.35,397.04 640.44,397.60 640.54,398.17 640.63,398.73 640.73,399.29 640.82,399.85 640.92,400.41 641.02,400.98 641.12,401.54 641.23,402.10 641.34,402.66 641.46,403.22 641.57,403.78 641.68,404.35 641.80,404.91 641.91,405.47 642.03,406.03 642.14,406.59 642.26,407.16 642.37,407.72 642.49,408.28 642.61,408.84 642.73,409.40 642.85,409.97 642.97,410.53 643.09,411.09 643.21,411.65 643.34,412.21 643.46,412.78 643.56,413.34 643.70,413.90 633.30,413.90 633.44,413.34 633.54,412.78 633.66,412.21 633.79,411.65 633.91,411.09 634.03,410.53 634.15,409.97 634.27,409.40 634.39,408.84 634.51,408.28 634.63,407.72 634.74,407.16 634.86,406.59 634.97,406.03 635.09,405.47 635.20,404.91 635.32,404.35 635.43,403.78 635.54,403.22 635.66,402.66 635.77,402.10 635.88,401.54 635.98,400.98 636.08,400.41 636.18,399.85 636.27,399.29 636.37,398.73 636.46,398.17 636.56,397.60 636.65,397.04 636.75,396.48 636.84,395.92 636.94,395.36 637.03,394.79 637.13,394.23 637.23,393.67 637.32,393.11 637.40,392.55 637.45,391.98 637.46,391.42 637.45,390.86 637.43,390.30 637.41,389.74 637.39,389.17 637.36,388.61 637.34,388.05 637.32,387.49 637.30,386.93 637.27,386.36 637.25,385.80 637.23,385.24 637.21,384.68 637.19,384.12 637.16,383.55 637.14,382.99 637.12,382.43 637.08,381.87 637.05,381.31 637.01,380.74 636.96,380.18 636.92,379.62 636.87,379.06 636.83,378.50 636.79,377.93 636.74,377.37 636.70,376.81 636.65,376.25 636.61,375.69 636.57,375.13 636.52,374.56 636.48,374.00 636.43,373.44 636.36,372.88 636.28,372.32 636.18,371.75 636.08,371.19 635.98,370.63 635.88,370.07 635.77,369.51 635.67,368.94 635.53,368.38 635.34,367.82 635.08,367.26 634.79,366.70 634.48,366.13 634.17,365.57 633.85,365.01 633.51,364.45 633.09,363.89 632.61,363.32 632.06,362.76 631.50,362.20 630.94,361.64 630.38,361.08 629.81,360.51 629.25,359.95 628.69,359.39 628.14,358.83 627.60,358.27 627.06,357.70 626.52,357.14 625.98,356.58 625.45,356.02 624.91,355.46 624.37,354.89 623.84,354.33 623.34,353.77 622.87,353.21 622.45,352.65 622.05,352.08 621.66,351.52 621.28,350.96 620.90,350.40 620.55,349.84 620.21,349.28 619.88,348.71 619.55,348.15 619.26,347.59 618.90,347.03" fill="none" stroke="#666" stroke-width="0.6" stroke-linejoin="round"/>
<line x1="618.80" y1="347.36" x2="658.40" y2="347.36" stroke="#c4c4c4" stroke-width="1.6"/>
<circle cx="638.60" cy="347.36" r="1.6" fill="#0c0c9a"/>
<line x1="658.60" y1="347.36" x2="662.10" y2="347.36" stroke="#888" stroke-width="0.6"/>
<text x="662.90" y="348.86" font-size="8.6" text-anchor="start" fill="#1a1a1a" textLength="21.8" lengthAdjust="spacingAndGlyphs" style="stroke-width:0.12px">12.00</text>
</svg></body></html>
